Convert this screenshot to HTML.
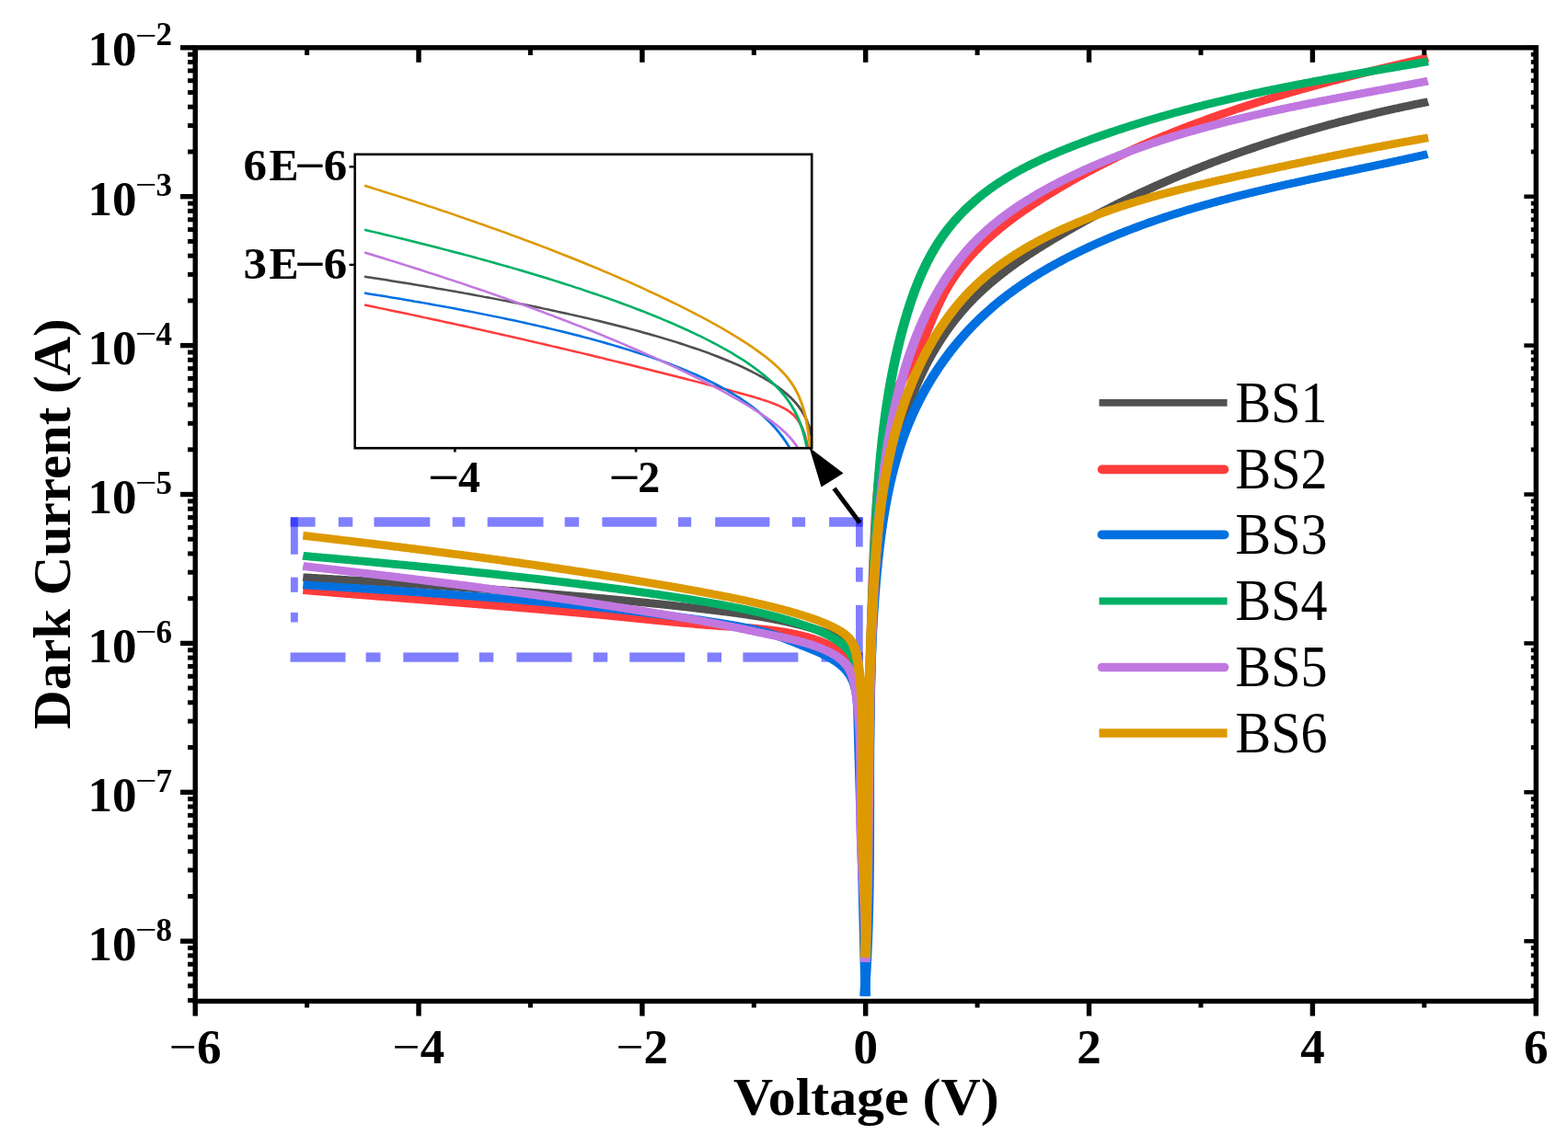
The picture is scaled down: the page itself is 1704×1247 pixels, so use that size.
<!DOCTYPE html>
<html><head><meta charset="utf-8"><title>Dark Current vs Voltage</title><style>
html,body{margin:0;padding:0;background:#fff;}
svg{display:block;}
text{font-family:"Liberation Serif","Times New Roman",serif;fill:#000;}
.tk{font-size:53px;font-weight:bold;}
.mn{font-weight:normal;}
.sm{font-size:37px;font-weight:normal;}
.sp{font-size:35px;font-weight:bold;}
.ti{font-size:58px;font-weight:bold;}
.lg{font-size:63.5px;font-weight:normal;}
.it{font-size:48px;font-weight:bold;}
</style></head>
<body><svg width="1704" height="1247" viewBox="0 0 1704 1247">
<rect x="0" y="0" width="1704" height="1247" fill="#fff"/>
<g fill="rgba(0,0,255,0.5)"><rect x="315.5" y="562.3" width="27.1" height="10.4"/><rect x="367.8" y="562.3" width="15.5" height="10.4"/><rect x="406.5" y="562.3" width="60.8" height="10.4"/><rect x="491.7" y="562.3" width="13.6" height="10.4"/><rect x="529.7" y="562.3" width="60.8" height="10.4"/><rect x="613.7" y="562.3" width="15.5" height="10.4"/><rect x="654.4" y="562.3" width="59.2" height="10.4"/><rect x="736.9" y="562.3" width="14.3" height="10.4"/><rect x="777.2" y="562.3" width="59.2" height="10.4"/><rect x="860.8" y="562.3" width="14.3" height="10.4"/><rect x="901.1" y="562.3" width="36.6" height="10.4"/><rect x="315.5" y="709.4" width="60.0" height="10.3"/><rect x="397.6" y="709.4" width="15.9" height="10.3"/><rect x="438.3" y="709.4" width="60.0" height="10.3"/><rect x="520.8" y="709.4" width="15.5" height="10.3"/><rect x="561.4" y="709.4" width="60.1" height="10.3"/><rect x="644.7" y="709.4" width="15.5" height="10.3"/><rect x="684.2" y="709.4" width="60.0" height="10.3"/><rect x="768.6" y="709.4" width="15.5" height="10.3"/><rect x="807.4" y="709.4" width="60.0" height="10.3"/><rect x="892.6" y="709.4" width="15.4" height="10.3"/><rect x="930.0" y="709.4" width="7.7" height="10.3"/><rect x="930.0" y="562.4" width="7.7" height="32.1"/><rect x="930.0" y="616.9" width="7.7" height="15.7"/><rect x="930.0" y="657.8" width="7.7" height="61.9"/><rect x="315.9" y="562.3" width="7.9" height="40.4"/><rect x="315.9" y="627.6" width="7.9" height="16.2"/><rect x="315.9" y="665.9" width="7.9" height="10.6"/></g>
<g fill="none" stroke-width="8.8" stroke-linejoin="round" stroke-linecap="butt">
<polyline stroke="#505050" transform="scale(1.2,1)" points="274.41,627.7 275.65,627.8 276.90,627.9 278.15,628.0 279.40,628.1 280.65,628.1 281.89,628.2 283.14,628.3 284.39,628.4 285.64,628.5 286.88,628.6 288.13,628.7 289.38,628.8 290.63,628.9 291.88,628.9 293.12,629.0 294.37,629.1 295.62,629.2 296.87,629.3 298.11,629.4 299.36,629.5 300.61,629.6 301.86,629.7 303.10,629.8 304.35,629.8 305.60,629.9 306.84,630.0 308.09,630.1 309.34,630.2 310.59,630.3 311.83,630.4 313.08,630.5 314.33,630.6 315.58,630.7 316.82,630.8 318.07,630.8 319.32,630.9 320.56,631.0 321.81,631.1 323.06,631.2 324.30,631.3 325.55,631.4 326.80,631.5 328.05,631.6 329.29,631.7 330.54,631.8 331.79,631.9 333.03,631.9 334.28,632.0 335.53,632.1 336.77,632.2 338.02,632.3 339.27,632.4 340.51,632.5 341.76,632.6 343.01,632.7 344.25,632.8 345.50,632.9 346.75,633.0 347.99,633.1 349.24,633.2 350.49,633.2 351.73,633.3 352.98,633.4 354.23,633.5 355.47,633.6 356.72,633.7 357.97,633.8 359.21,633.9 360.46,634.0 361.70,634.1 362.95,634.2 364.20,634.3 365.44,634.4 366.69,634.5 367.94,634.6 369.18,634.7 370.43,634.8 371.67,634.9 372.92,635.0 374.17,635.0 375.41,635.1 376.66,635.2 377.90,635.3 379.15,635.4 380.40,635.5 381.64,635.6 382.89,635.7 384.13,635.8 385.38,635.9 386.63,636.0 387.87,636.1 389.12,636.2 390.36,636.3 391.61,636.4 392.86,636.5 394.10,636.6 395.35,636.7 396.59,636.8 397.84,636.9 399.09,637.0 400.33,637.1 401.58,637.2 402.82,637.3 404.07,637.4 405.31,637.5 406.56,637.6 407.81,637.7 409.05,637.8 410.30,637.9 411.54,638.0 412.79,638.1 414.03,638.2 415.28,638.3 416.52,638.4 417.77,638.5 419.02,638.6 420.26,638.7 421.51,638.8 422.75,639.0 424.00,639.1 425.24,639.2 426.49,639.3 427.73,639.4 428.98,639.5 430.22,639.6 431.47,639.7 432.72,639.8 433.96,639.9 435.21,640.0 436.45,640.1 437.70,640.2 438.94,640.3 440.19,640.4 441.43,640.5 442.68,640.7 443.92,640.8 445.17,640.9 446.41,641.0 447.66,641.1 448.90,641.2 450.15,641.3 451.39,641.4 452.64,641.5 453.88,641.6 455.13,641.7 456.37,641.9 457.62,642.0 458.87,642.1 460.11,642.2 461.36,642.3 462.60,642.4 463.85,642.5 465.09,642.6 466.34,642.8 467.58,642.9 468.83,643.0 470.07,643.1 471.32,643.2 472.56,643.3 473.81,643.4 475.05,643.6 476.30,643.7 477.54,643.8 478.79,643.9 480.03,644.0 481.28,644.1 482.52,644.3 483.76,644.4 485.01,644.5 486.25,644.6 487.50,644.7 488.74,644.9 489.99,645.0 491.23,645.1 492.48,645.2 493.72,645.3 494.97,645.5 496.21,645.6 497.46,645.7 498.70,645.8 499.95,645.9 501.19,646.1 502.44,646.2 503.68,646.3 504.93,646.4 506.17,646.6 507.42,646.7 508.66,646.8 509.91,646.9 511.15,647.1 512.40,647.2 513.64,647.3 514.88,647.4 516.13,647.6 517.37,647.7 518.62,647.8 519.86,648.0 521.11,648.1 522.35,648.2 523.60,648.3 524.84,648.5 526.09,648.6 527.33,648.7 528.58,648.9 529.82,649.0 531.06,649.1 532.31,649.3 533.55,649.4 534.80,649.5 536.04,649.7 537.29,649.8 538.53,649.9 539.78,650.1 541.02,650.2 542.27,650.3 543.51,650.5 544.76,650.6 546.00,650.7 547.24,650.9 548.49,651.0 549.73,651.2 550.98,651.3 552.22,651.4 553.47,651.6 554.71,651.7 555.96,651.9 557.20,652.0 558.45,652.1 559.69,652.3 560.93,652.4 562.18,652.6 563.42,652.7 564.67,652.8 565.91,653.0 567.16,653.1 568.40,653.3 569.65,653.4 570.89,653.6 572.14,653.7 573.38,653.9 574.62,654.0 575.87,654.2 577.11,654.3 578.36,654.5 579.60,654.6 580.85,654.8 582.09,654.9 583.34,655.1 584.58,655.2 585.82,655.4 587.07,655.5 588.31,655.7 589.56,655.8 590.80,656.0 592.04,656.1 593.29,656.3 594.53,656.4 595.77,656.6 597.02,656.7 598.26,656.9 599.51,657.1 600.75,657.2 601.99,657.4 603.23,657.5 604.48,657.7 605.72,657.9 606.96,658.0 608.21,658.2 609.45,658.3 610.69,658.5 611.93,658.7 613.18,658.8 614.42,659.0 615.66,659.2 616.90,659.3 618.14,659.5 619.38,659.7 620.62,659.8 621.87,660.0 623.11,660.2 624.35,660.3 625.59,660.5 626.83,660.7 628.07,660.8 629.31,661.0 630.55,661.2 631.79,661.4 633.03,661.5 634.27,661.7 635.51,661.9 636.74,662.1 637.98,662.2 639.22,662.4 640.46,662.6 641.70,662.8 642.93,662.9 644.17,663.1 645.41,663.3 646.65,663.5 647.88,663.7 649.12,663.9 650.36,664.0 651.59,664.2 652.83,664.4 654.06,664.6 655.30,664.8 656.53,665.0 657.77,665.2 659.00,665.3 660.24,665.5 661.47,665.7 662.70,665.9 663.94,666.1 665.17,666.3 666.40,666.5 667.63,666.7 668.87,666.9 670.10,667.1 671.33,667.3 672.56,667.5 673.79,667.8 675.02,668.0 676.25,668.2 677.48,668.4 678.71,668.6 679.94,668.8 681.17,669.1 682.40,669.3 683.63,669.5 684.86,669.8 686.09,670.0 687.31,670.2 688.54,670.5 689.77,670.7 690.99,671.0 692.22,671.2 693.45,671.5 694.67,671.8 695.90,672.0 697.12,672.3 698.35,672.6 699.57,672.8 700.79,673.1 702.02,673.4 703.24,673.7 704.46,674.0 705.69,674.3 706.91,674.6 708.13,674.9 709.35,675.2 710.57,675.5 711.80,675.8 713.02,676.1 714.24,676.5 715.46,676.8 716.67,677.1 717.89,677.5 719.11,677.8 720.33,678.2 721.55,678.5 722.77,678.9 723.98,679.3 725.20,679.6 726.42,680.0 727.63,680.4 728.85,680.8 730.06,681.2 731.28,681.6 732.49,682.0 733.71,682.4 734.92,682.8 736.13,683.3 737.35,683.7 738.56,684.1 739.77,684.6 740.98,685.1 742.19,685.5 743.40,686.0 744.61,686.5 745.82,687.0 747.03,687.5 748.24,688.1 749.45,688.6 750.65,689.1 751.86,689.7 753.07,690.3 754.27,690.9 755.47,691.5 756.68,692.2 757.87,692.8 759.05,693.5 760.22,694.2 761.37,694.9 762.49,695.7 763.58,696.4 764.64,697.3 765.66,698.1 766.64,699.0 767.57,699.9 768.45,700.9 769.27,701.9 770.03,702.9 770.74,704.0 771.40,705.2 772.00,706.3 772.57,707.6 773.08,708.8 773.56,710.1 774.00,711.4 774.40,712.7 774.77,714.0 775.10,715.4 775.41,716.8 775.70,718.2 775.96,719.6 776.20,721.1 776.42,722.5 776.63,724.0 776.83,725.4 777.02,726.9 777.20,728.4 777.37,729.8 777.54,731.3 777.71,732.8 777.87,734.3 778.03,735.7 778.18,737.2 778.33,738.7 778.47,740.2 778.61,741.7 778.75,743.1 778.88,744.6 779.01,746.1 779.13,747.6 779.25,749.1 779.37,750.6 779.48,752.0 779.59,753.5 779.69,755.0 779.79,756.5 779.89,758.0 779.98,759.5 780.07,761.0 780.16,762.5 780.24,764.0 780.32,765.4 780.40,766.9 780.47,768.4 780.54,769.9 780.61,771.4 780.67,772.9 780.74,774.4 780.79,775.9 780.85,777.4 780.90,778.9 780.95,780.4 781.00,781.9 781.04,783.4 781.09,784.9 781.13,786.4 781.16,787.9 781.20,789.4 781.23,790.9 781.26,792.4 781.29,793.9 781.31,795.4 781.34,796.9 781.36,798.4 781.38,799.9 781.40,801.4 781.41,802.9 781.42,804.4 781.44,805.9 781.45,807.5 781.46,809.0 781.46,810.5 781.47,812.0 781.47,813.5 781.48,815.0 781.48,816.5 781.48,818.0 781.48,819.5 781.47,821.0 781.47,822.5 781.47,824.0 781.46,825.5 781.46,827.1 781.45,828.6 781.44,830.1 781.43,831.6 781.42,833.1 781.41,834.6 781.40,836.1 781.39,837.6 781.38,839.1 781.37,840.6 781.35,842.1 781.34,843.7 781.33,845.2 781.31,846.7 781.30,848.2 781.29,849.7 781.27,851.2 781.26,852.7 781.25,854.2 781.23,855.7 781.22,857.2 781.21,858.7 781.19,860.2 781.18,861.8 781.17,863.3 781.16,864.8 781.15,866.3 781.14,867.8 781.13,869.3 781.12,870.8 781.11,872.3 781.11,873.8 781.10,875.3 781.10,876.8 781.09,878.3 781.09,879.8 781.09,881.3 781.09,882.8 781.09,884.3 781.09,885.9 781.09,887.4 781.10,888.9 781.10,890.4 781.11,891.9 781.12,893.4 781.13,894.9 781.15,896.4 781.16,897.9 781.18,899.4 781.20,900.9 781.22,902.4 781.24,903.9 781.26,905.4 781.29,906.9 781.32,908.4 781.34,909.8 781.38,911.3 781.41,912.8 781.44,914.3 781.48,915.8 781.51,917.3 781.55,918.8 781.59,920.3 781.63,921.8 781.67,923.3 781.71,924.8 781.76,926.3 781.80,927.8 781.84,929.3 781.89,930.8 781.94,932.2 781.98,933.7 782.03,935.2 782.08,936.7 782.13,938.2 782.18,939.7 782.23,941.2 782.28,942.7 782.33,944.2 782.38,945.7 782.43,947.1 782.49,948.6 782.54,950.1 782.59,951.6 782.64,953.1 782.69,954.6 782.74,956.1 782.80,957.6 782.85,959.1 782.90,960.6 782.95,962.0 783.00,963.5 783.05,965.0 783.10,966.5 783.15,968.0 783.19,969.5 783.24,971.0 783.29,972.5 783.33,974.0 783.38,975.5 783.42,977.0 783.46,978.5 783.51,979.9 783.55,981.4 783.59,982.9 783.63,984.4 783.66,985.9 783.70,987.4 783.73,988.9 783.77,990.4 783.80,991.9 783.83,993.4 783.86,994.9 783.89,996.4 783.91,997.9 783.93,999.4 783.96,1000.9 783.98,1002.4 783.99,1003.9 784.01,1005.4 784.02,1006.9 784.04,1008.4 784.05,1009.9 784.05,1011.4 784.06,1012.9 784.06,1014.4 784.06,1015.9 784.06,1017.4 784.06,1018.9 784.05,1020.4 784.04,1021.9 784.03,1023.4 784.01,1024.9 784.00,1026.4 783.98,1027.9 783.95,1029.5 783.93,1031.0 783.90,1032.5 783.87,1034.0 783.83,1035.5 783.79,1037.0 783.75,1038.5 783.71,1040.1"/>
<polyline stroke="#505050" transform="scale(1.2,1)" points="783.55,1039.9 783.59,1038.5 783.64,1037.0 783.68,1035.5 783.73,1034.0 783.77,1032.5 783.82,1031.0 783.86,1029.5 783.90,1028.0 783.94,1026.5 783.99,1025.0 784.03,1023.5 784.07,1022.0 784.11,1020.5 784.15,1019.0 784.19,1017.5 784.23,1016.0 784.27,1014.5 784.31,1013.0 784.35,1011.5 784.38,1010.0 784.42,1008.5 784.46,1007.0 784.49,1005.5 784.53,1004.1 784.57,1002.6 784.60,1001.1 784.64,999.6 784.67,998.1 784.71,996.6 784.74,995.1 784.77,993.6 784.81,992.1 784.84,990.6 784.87,989.1 784.90,987.6 784.94,986.1 784.97,984.6 785.00,983.1 785.03,981.6 785.06,980.1 785.09,978.6 785.12,977.1 785.15,975.6 785.18,974.1 785.21,972.6 785.24,971.1 785.27,969.6 785.29,968.1 785.32,966.6 785.35,965.1 785.38,963.6 785.40,962.1 785.43,960.6 785.46,959.1 785.48,957.6 785.51,956.2 785.53,954.7 785.56,953.2 785.59,951.7 785.61,950.2 785.63,948.7 785.66,947.2 785.68,945.7 785.71,944.2 785.73,942.7 785.75,941.2 785.78,939.7 785.80,938.2 785.82,936.7 785.85,935.2 785.87,933.7 785.89,932.2 785.91,930.7 785.93,929.2 785.96,927.7 785.98,926.2 786.00,924.7 786.02,923.2 786.04,921.7 786.06,920.2 786.08,918.7 786.10,917.2 786.12,915.7 786.14,914.2 786.16,912.7 786.18,911.2 786.20,909.7 786.22,908.2 786.24,906.7 786.26,905.2 786.28,903.7 786.30,902.2 786.32,900.7 786.33,899.2 786.35,897.7 786.37,896.2 786.39,894.7 786.41,893.2 786.43,891.7 786.44,890.2 786.46,888.7 786.48,887.2 786.50,885.7 786.51,884.2 786.53,882.7 786.55,881.2 786.57,879.7 786.58,878.2 786.60,876.7 786.62,875.2 786.64,873.7 786.65,872.2 786.67,870.7 786.69,869.2 786.70,867.7 786.72,866.2 786.74,864.7 786.75,863.2 786.77,861.7 786.79,860.2 786.80,858.7 786.82,857.2 786.84,855.7 786.85,854.2 786.87,852.7 786.89,851.2 786.90,849.8 786.92,848.3 786.94,846.8 786.95,845.3 786.97,843.8 786.99,842.3 787.00,840.8 787.02,839.3 787.04,837.8 787.05,836.3 787.07,834.8 787.09,833.3 787.10,831.8 787.12,830.3 787.14,828.8 787.15,827.3 787.17,825.8 787.19,824.3 787.21,822.8 787.22,821.3 787.24,819.8 787.26,818.3 787.28,816.8 787.29,815.3 787.31,813.8 787.33,812.3 787.35,810.8 787.36,809.3 787.38,807.8 787.40,806.3 787.42,804.8 787.44,803.3 787.46,801.8 787.47,800.3 787.49,798.8 787.51,797.3 787.53,795.8 787.55,794.3 787.57,792.8 787.59,791.3 787.61,789.8 787.63,788.3 787.65,786.8 787.67,785.3 787.69,783.8 787.71,782.3 787.73,780.8 787.75,779.3 787.77,777.8 787.79,776.3 787.81,774.8 787.83,773.3 787.86,771.8 787.88,770.3 787.90,768.8 787.92,767.3 787.94,765.8 787.97,764.3 787.99,762.8 788.01,761.3 788.04,759.8 788.06,758.3 788.08,756.8 788.11,755.3 788.13,753.8 788.16,752.3 788.18,750.8 788.21,749.3 788.23,747.8 788.26,746.3 788.28,744.8 788.31,743.3 788.33,741.8 788.36,740.3 788.39,738.8 788.41,737.3 788.44,735.8 788.47,734.3 788.50,732.8 788.53,731.3 788.55,729.8 788.58,728.3 788.61,726.8 788.64,725.3 788.67,723.8 788.70,722.3 788.73,720.8 788.76,719.3 788.79,717.8 788.82,716.3 788.86,714.8 788.89,713.3 788.92,711.8 788.95,710.3 788.98,708.8 789.02,707.3 789.05,705.8 789.09,704.3 789.12,702.8 789.16,701.3 789.19,699.8 789.23,698.3 789.26,696.8 789.30,695.3 789.33,693.8 789.37,692.3 789.41,690.8 789.45,689.3 789.48,687.8 789.52,686.4 789.56,684.9 789.60,683.4 789.64,681.9 789.68,680.4 789.72,678.9 789.76,677.4 789.81,675.9 789.85,674.4 789.89,672.9 789.93,671.4 789.98,669.9 790.02,668.4 790.06,666.9 790.11,665.4 790.15,663.9 790.20,662.4 790.24,660.9 790.29,659.4 790.34,657.9 790.39,656.4 790.43,654.9 790.48,653.4 790.53,651.9 790.58,650.4 790.63,648.9 790.68,647.4 790.73,645.9 790.78,644.4 790.83,642.9 790.89,641.4 790.94,639.9 790.99,638.4 791.05,636.9 791.10,635.4 791.16,633.9 791.21,632.4 791.27,630.9 791.33,629.5 791.38,628.0 791.44,626.5 791.50,625.0 791.56,623.5 791.62,622.0 791.68,620.5 791.74,619.0 791.80,617.5 791.86,616.0 791.92,614.5 791.98,613.0 792.05,611.5 792.11,610.0 792.18,608.5 792.24,607.0 792.31,605.5 792.37,604.0 792.44,602.5 792.51,601.0 792.58,599.5 792.65,598.0 792.72,596.5 792.79,595.0 792.86,593.5 792.93,592.1 793.00,590.6 793.08,589.1 793.15,587.6 793.23,586.1 793.31,584.6 793.39,583.1 793.47,581.6 793.56,580.1 793.64,578.6 793.73,577.1 793.82,575.6 793.91,574.1 794.01,572.6 794.10,571.2 794.20,569.7 794.30,568.2 794.41,566.7 794.52,565.2 794.63,563.7 794.74,562.2 794.85,560.7 794.97,559.3 795.09,557.8 795.22,556.3 795.35,554.8 795.48,553.3 795.62,551.9 795.75,550.4 795.90,548.9 796.04,547.4 796.20,545.9 796.35,544.5 796.51,543.0 796.67,541.5 796.84,540.1 797.01,538.6 797.19,537.1 797.37,535.7 797.55,534.2 797.75,532.7 797.94,531.3 798.14,529.8 798.35,528.3 798.56,526.9 798.77,525.4 798.99,524.0 799.22,522.5 799.45,521.0 799.69,519.6 799.93,518.1 800.18,516.7 800.44,515.3 800.70,513.8 800.97,512.4 801.24,510.9 801.52,509.5 801.81,508.0 802.10,506.6 802.40,505.2 802.70,503.7 803.02,502.3 803.34,500.9 803.66,499.4 804.00,498.0 804.34,496.6 804.69,495.2 805.04,493.8 805.40,492.3 805.77,490.9 806.15,489.5 806.54,488.1 806.93,486.7 807.33,485.3 807.74,483.9 808.16,482.5 808.58,481.1 809.02,479.7 809.46,478.3 809.91,476.9 810.37,475.5 810.84,474.1 811.31,472.7 811.80,471.3 812.29,470.0 812.80,468.6 813.31,467.2 813.83,465.8 814.36,464.5 814.89,463.1 815.42,461.7 815.94,460.4 816.47,459.0 816.98,457.6 817.48,456.2 817.98,454.8 818.46,453.5 818.93,452.1 819.39,450.7 819.84,449.3 820.29,447.9 820.73,446.5 821.17,445.1 821.60,443.7 822.04,442.3 822.47,440.9 822.90,439.5 823.33,438.1 823.76,436.6 824.20,435.2 824.64,433.8 825.08,432.4 825.53,431.0 825.99,429.6 826.45,428.3 826.91,426.9 827.38,425.5 827.86,424.1 828.34,422.7 828.82,421.3 829.31,419.9 829.81,418.5 830.30,417.2 830.81,415.8 831.32,414.4 831.83,413.0 832.35,411.7 832.87,410.3 833.40,409.0 833.94,407.6 834.48,406.2 835.02,404.9 835.57,403.5 836.12,402.2 836.68,400.8 837.24,399.5 837.81,398.1 838.38,396.8 838.96,395.5 839.54,394.1 840.13,392.8 840.73,391.5 841.32,390.2 841.93,388.8 842.53,387.5 843.15,386.2 843.76,384.9 844.39,383.6 845.02,382.3 845.65,381.0 846.29,379.7 846.93,378.4 847.58,377.1 848.23,375.9 848.89,374.6 849.55,373.3 850.22,372.0 850.89,370.8 851.57,369.5 852.25,368.3 852.94,367.0 853.63,365.8 854.33,364.5 855.03,363.3 855.74,362.0 856.45,360.8 857.17,359.6 857.89,358.4 858.62,357.2 859.35,355.9 860.09,354.7 860.83,353.5 861.58,352.3 862.33,351.2 863.09,350.0 863.85,348.8 864.62,347.6 865.39,346.4 866.17,345.3 866.95,344.1 867.74,343.0 868.53,341.8 869.33,340.7 870.14,339.5 870.94,338.4 871.76,337.3 872.58,336.2 873.40,335.1 874.23,333.9 875.06,332.8 875.90,331.7 876.74,330.7 877.59,329.6 878.45,328.5 879.30,327.4 880.17,326.4 881.04,325.3 881.91,324.2 882.79,323.2 883.67,322.1 884.56,321.1 885.45,320.1 886.34,319.0 887.24,318.0 888.15,317.0 889.05,316.0 889.97,315.0 890.88,314.0 891.81,313.0 892.73,312.0 893.66,311.0 894.59,310.0 895.53,309.1 896.47,308.1 897.42,307.1 898.37,306.2 899.32,305.2 900.27,304.3 901.23,303.3 902.20,302.4 903.17,301.4 904.14,300.5 905.11,299.6 906.09,298.6 907.07,297.7 908.05,296.8 909.04,295.9 910.03,295.0 911.02,294.1 912.02,293.2 913.02,292.3 914.02,291.4 915.02,290.5 916.03,289.6 917.04,288.7 918.06,287.9 919.07,287.0 920.09,286.1 921.11,285.3 922.14,284.4 923.16,283.6 924.19,282.7 925.22,281.8 926.26,281.0 927.29,280.2 928.33,279.3 929.37,278.5 930.41,277.6 931.46,276.8 932.51,276.0 933.55,275.2 934.60,274.3 935.66,273.5 936.71,272.7 937.77,271.9 938.82,271.1 939.88,270.3 940.94,269.5 942.01,268.7 943.07,267.9 944.14,267.1 945.20,266.3 946.27,265.5 947.34,264.7 948.41,263.9 949.48,263.1 950.56,262.4 951.63,261.6 952.71,260.8 953.78,260.0 954.86,259.3 955.94,258.5 957.02,257.7 958.10,257.0 959.18,256.2 960.26,255.4 961.34,254.7 962.42,253.9 963.51,253.2 964.59,252.4 965.68,251.7 966.76,250.9 967.85,250.2 968.94,249.4 970.03,248.7 971.11,247.9 972.20,247.2 973.30,246.4 974.39,245.7 975.48,245.0 976.57,244.2 977.67,243.5 978.76,242.8 979.86,242.1 980.95,241.3 982.05,240.6 983.15,239.9 984.25,239.2 985.35,238.5 986.45,237.7 987.55,237.0 988.65,236.3 989.75,235.6 990.86,234.9 991.96,234.2 993.07,233.5 994.17,232.8 995.28,232.1 996.39,231.4 997.49,230.7 998.60,230.0 999.71,229.3 1000.82,228.6 1001.93,227.9 1003.05,227.3 1004.16,226.6 1005.27,225.9 1006.39,225.2 1007.50,224.5 1008.62,223.9 1009.73,223.2 1010.85,222.5 1011.97,221.9 1013.08,221.2 1014.20,220.5 1015.32,219.9 1016.44,219.2 1017.56,218.5 1018.69,217.9 1019.81,217.2 1020.93,216.6 1022.06,215.9 1023.18,215.3 1024.31,214.6 1025.43,214.0 1026.56,213.3 1027.69,212.7 1028.81,212.0 1029.94,211.4 1031.07,210.8 1032.20,210.1 1033.33,209.5 1034.46,208.8 1035.60,208.2 1036.73,207.6 1037.86,207.0 1039.00,206.3 1040.13,205.7 1041.27,205.1 1042.40,204.5 1043.54,203.9 1044.68,203.2 1045.81,202.6 1046.95,202.0 1048.09,201.4 1049.23,200.8 1050.37,200.2 1051.52,199.6 1052.66,199.0 1053.80,198.4 1054.94,197.8 1056.09,197.2 1057.23,196.6 1058.38,196.0 1059.52,195.4 1060.67,194.8 1061.82,194.2 1062.96,193.6 1064.11,193.0 1065.26,192.5 1066.41,191.9 1067.56,191.3 1068.71,190.7 1069.86,190.1 1071.01,189.6 1072.17,189.0 1073.32,188.4 1074.47,187.9 1075.63,187.3 1076.78,186.7 1077.94,186.2 1079.09,185.6 1080.25,185.0 1081.41,184.5 1082.57,183.9 1083.72,183.4 1084.88,182.8 1086.04,182.3 1087.20,181.7 1088.36,181.2 1089.52,180.6 1090.69,180.1 1091.85,179.5 1093.01,179.0 1094.17,178.5 1095.34,177.9 1096.50,177.4 1097.67,176.8 1098.83,176.3 1100.00,175.8 1101.17,175.2 1102.34,174.7 1103.50,174.2 1104.67,173.7 1105.84,173.1 1107.01,172.6 1108.18,172.1 1109.35,171.6 1110.52,171.1 1111.69,170.6 1112.87,170.0 1114.04,169.5 1115.21,169.0 1116.39,168.5 1117.56,168.0 1118.73,167.5 1119.91,167.0 1121.09,166.5 1122.26,166.0 1123.44,165.5 1124.62,165.0 1125.79,164.5 1126.97,164.0 1128.15,163.5 1129.33,163.0 1130.51,162.6 1131.69,162.1 1132.87,161.6 1134.05,161.1 1135.23,160.6 1136.42,160.1 1137.60,159.7 1138.78,159.2 1139.97,158.7 1141.15,158.2 1142.33,157.8 1143.52,157.3 1144.70,156.8 1145.89,156.4 1147.08,155.9 1148.26,155.4 1149.45,155.0 1150.64,154.5 1151.83,154.1 1153.02,153.6 1154.20,153.1 1155.39,152.7 1156.58,152.2 1157.77,151.8 1158.97,151.3 1160.16,150.9 1161.35,150.4 1162.54,150.0 1163.73,149.6 1164.93,149.1 1166.12,148.7 1167.31,148.2 1168.51,147.8 1169.70,147.4 1170.90,146.9 1172.09,146.5 1173.29,146.1 1174.49,145.6 1175.68,145.2 1176.88,144.8 1178.08,144.4 1179.28,143.9 1180.47,143.5 1181.67,143.1 1182.87,142.7 1184.07,142.3 1185.27,141.9 1186.47,141.4 1187.67,141.0 1188.87,140.6 1190.08,140.2 1191.28,139.8 1192.48,139.4 1193.68,139.0 1194.89,138.6 1196.09,138.2 1197.29,137.8 1198.50,137.4 1199.70,137.0 1200.91,136.6 1202.11,136.2 1203.32,135.8 1204.52,135.4 1205.73,135.0 1206.94,134.6 1208.14,134.2 1209.35,133.9 1210.56,133.5 1211.77,133.1 1212.97,132.7 1214.18,132.3 1215.39,132.0 1216.60,131.6 1217.81,131.2 1219.02,130.8 1220.23,130.5 1221.44,130.1 1222.65,129.7 1223.86,129.4 1225.07,129.0 1226.29,128.6 1227.50,128.3 1228.71,127.9 1229.92,127.5 1231.14,127.2 1232.35,126.8 1233.56,126.5 1234.78,126.1 1235.99,125.8 1237.21,125.4 1238.42,125.1 1239.64,124.7 1240.85,124.4 1242.07,124.0 1243.28,123.7 1244.50,123.3 1245.72,123.0 1246.93,122.6 1248.15,122.3 1249.37,122.0 1250.59,121.6 1251.80,121.3 1253.02,121.0 1254.24,120.6 1255.46,120.3 1256.68,120.0 1257.90,119.6 1259.12,119.3 1260.34,119.0 1261.56,118.6 1262.78,118.3 1264.00,118.0 1265.22,117.7 1266.44,117.4 1267.66,117.0 1268.88,116.7 1270.10,116.4 1271.33,116.1 1272.55,115.8 1273.77,115.5 1274.99,115.2 1276.22,114.9 1277.44,114.6 1278.66,114.2 1279.88,113.9 1281.11,113.6 1282.33,113.3 1283.56,113.0 1284.78,112.7 1286.01,112.4 1287.23,112.1 1288.45,111.8 1289.68,111.6 1290.91,111.3 1292.13,111.0 1293.36,110.7"/>
<polyline stroke="#ff3c3c" transform="scale(1.2,1)" points="274.45,641.6 275.69,641.7 276.94,641.8 278.18,641.9 279.42,642.1 280.67,642.2 281.91,642.3 283.15,642.4 284.40,642.6 285.64,642.7 286.88,642.8 288.13,642.9 289.37,643.1 290.62,643.2 291.86,643.3 293.10,643.4 294.35,643.6 295.59,643.7 296.83,643.8 298.08,643.9 299.32,644.0 300.57,644.2 301.81,644.3 303.05,644.4 304.30,644.5 305.54,644.7 306.79,644.8 308.03,644.9 309.27,645.0 310.52,645.1 311.76,645.3 313.01,645.4 314.25,645.5 315.50,645.6 316.74,645.7 317.98,645.9 319.23,646.0 320.47,646.1 321.72,646.2 322.96,646.4 324.21,646.5 325.45,646.6 326.69,646.7 327.94,646.8 329.18,647.0 330.43,647.1 331.67,647.2 332.92,647.3 334.16,647.4 335.40,647.5 336.65,647.7 337.89,647.8 339.14,647.9 340.38,648.0 341.63,648.1 342.87,648.3 344.12,648.4 345.36,648.5 346.60,648.6 347.85,648.7 349.09,648.9 350.34,649.0 351.58,649.1 352.83,649.2 354.07,649.3 355.32,649.5 356.56,649.6 357.81,649.7 359.05,649.8 360.30,649.9 361.54,650.0 362.78,650.2 364.03,650.3 365.27,650.4 366.52,650.5 367.76,650.6 369.01,650.8 370.25,650.9 371.50,651.0 372.74,651.1 373.99,651.2 375.23,651.3 376.48,651.5 377.72,651.6 378.97,651.7 380.21,651.8 381.45,651.9 382.70,652.1 383.94,652.2 385.19,652.3 386.43,652.4 387.68,652.5 388.92,652.7 390.17,652.8 391.41,652.9 392.66,653.0 393.90,653.1 395.15,653.2 396.39,653.4 397.64,653.5 398.88,653.6 400.13,653.7 401.37,653.8 402.62,654.0 403.86,654.1 405.10,654.2 406.35,654.3 407.59,654.4 408.84,654.6 410.08,654.7 411.33,654.8 412.57,654.9 413.82,655.0 415.06,655.2 416.31,655.3 417.55,655.4 418.80,655.5 420.04,655.6 421.29,655.8 422.53,655.9 423.78,656.0 425.02,656.1 426.26,656.2 427.51,656.4 428.75,656.5 430.00,656.6 431.24,656.7 432.49,656.8 433.73,657.0 434.98,657.1 436.22,657.2 437.47,657.3 438.71,657.5 439.96,657.6 441.20,657.7 442.44,657.8 443.69,657.9 444.93,658.1 446.18,658.2 447.42,658.3 448.67,658.4 449.91,658.6 451.16,658.7 452.40,658.8 453.65,658.9 454.89,659.1 456.13,659.2 457.38,659.3 458.62,659.4 459.87,659.5 461.11,659.7 462.36,659.8 463.60,659.9 464.84,660.0 466.09,660.2 467.33,660.3 468.58,660.4 469.82,660.6 471.07,660.7 472.31,660.8 473.55,660.9 474.80,661.1 476.04,661.2 477.29,661.3 478.53,661.4 479.78,661.6 481.02,661.7 482.26,661.8 483.51,661.9 484.75,662.1 486.00,662.2 487.24,662.3 488.48,662.5 489.73,662.6 490.97,662.7 492.22,662.8 493.46,663.0 494.70,663.1 495.95,663.2 497.19,663.4 498.43,663.5 499.68,663.6 500.92,663.8 502.17,663.9 503.41,664.0 504.65,664.2 505.90,664.3 507.14,664.4 508.38,664.6 509.63,664.7 510.87,664.8 512.11,665.0 513.36,665.1 514.60,665.2 515.84,665.4 517.09,665.5 518.33,665.6 519.57,665.8 520.82,665.9 522.06,666.0 523.30,666.2 524.55,666.3 525.79,666.4 527.03,666.6 528.28,666.7 529.52,666.9 530.76,667.0 532.01,667.1 533.25,667.3 534.49,667.4 535.74,667.5 536.98,667.7 538.22,667.8 539.46,668.0 540.71,668.1 541.95,668.2 543.19,668.4 544.44,668.5 545.68,668.7 546.92,668.8 548.16,668.9 549.41,669.1 550.65,669.2 551.89,669.4 553.13,669.5 554.38,669.7 555.62,669.8 556.86,670.0 558.10,670.1 559.35,670.2 560.59,670.4 561.83,670.5 563.07,670.7 564.31,670.8 565.56,671.0 566.80,671.1 568.04,671.3 569.28,671.4 570.53,671.6 571.77,671.7 573.01,671.9 574.25,672.0 575.49,672.2 576.73,672.3 577.98,672.5 579.22,672.6 580.46,672.8 581.70,672.9 582.94,673.1 584.18,673.2 585.43,673.4 586.67,673.5 587.91,673.7 589.15,673.8 590.39,674.0 591.64,674.1 592.88,674.3 594.12,674.4 595.36,674.6 596.60,674.7 597.84,674.9 599.09,675.0 600.33,675.2 601.57,675.3 602.81,675.5 604.05,675.6 605.29,675.7 606.54,675.9 607.78,676.0 609.02,676.2 610.26,676.3 611.51,676.5 612.75,676.6 613.99,676.7 615.23,676.9 616.47,677.0 617.72,677.2 618.96,677.3 620.20,677.4 621.44,677.6 622.69,677.7 623.93,677.8 625.17,678.0 626.42,678.1 627.66,678.2 628.90,678.4 630.14,678.5 631.39,678.6 632.63,678.8 633.87,678.9 635.12,679.0 636.36,679.1 637.60,679.2 638.85,679.4 640.09,679.5 641.34,679.6 642.58,679.7 643.82,679.8 645.07,679.9 646.31,680.1 647.56,680.2 648.80,680.3 650.05,680.4 651.29,680.5 652.54,680.6 653.78,680.7 655.03,680.8 656.27,680.9 657.52,681.0 658.76,681.1 660.01,681.2 661.26,681.3 662.50,681.4 663.75,681.5 664.99,681.6 666.24,681.7 667.49,681.8 668.73,681.9 669.98,682.0 671.22,682.1 672.47,682.2 673.72,682.3 674.96,682.4 676.21,682.5 677.46,682.6 678.70,682.7 679.95,682.9 681.19,683.0 682.44,683.1 683.69,683.2 684.93,683.4 686.18,683.5 687.43,683.7 688.67,683.8 689.92,683.9 691.17,684.1 692.41,684.3 693.66,684.4 694.90,684.6 696.15,684.8 697.40,684.9 698.64,685.1 699.89,685.3 701.13,685.5 702.38,685.7 703.62,685.9 704.87,686.1 706.11,686.4 707.36,686.6 708.60,686.8 709.85,687.1 711.09,687.3 712.34,687.6 713.58,687.9 714.83,688.1 716.07,688.4 717.32,688.7 718.56,689.0 719.80,689.3 721.05,689.6 722.29,690.0 723.53,690.3 724.78,690.7 726.02,691.0 727.26,691.4 728.50,691.8 729.74,692.1 730.98,692.5 732.21,693.0 733.44,693.4 734.66,693.8 735.88,694.3 737.09,694.7 738.30,695.2 739.50,695.7 740.69,696.2 741.87,696.8 743.04,697.3 744.20,697.9 745.35,698.5 746.49,699.0 747.62,699.7 748.73,700.3 749.83,700.9 750.92,701.6 751.99,702.3 753.05,703.0 754.09,703.7 755.11,704.5 756.11,705.3 757.10,706.1 758.06,706.9 759.01,707.7 759.94,708.6 760.84,709.5 761.73,710.4 762.59,711.4 763.43,712.3 764.24,713.3 765.03,714.3 765.80,715.4 766.54,716.5 767.26,717.6 767.95,718.7 768.62,719.8 769.26,721.0 769.88,722.2 770.47,723.4 771.04,724.6 771.59,725.9 772.11,727.1 772.61,728.4 773.09,729.8 773.54,731.1 773.96,732.4 774.37,733.8 774.75,735.2 775.10,736.6 775.44,738.0 775.75,739.4 776.04,740.8 776.32,742.3 776.57,743.8 776.81,745.2 777.02,746.7 777.22,748.2 777.41,749.7 777.58,751.2 777.73,752.8 777.87,754.3 778.00,755.8 778.12,757.4 778.22,758.9 778.31,760.5 778.40,762.0 778.47,763.6 778.53,765.2 778.59,766.7 778.64,768.3 778.69,769.9 778.73,771.5 778.76,773.0 778.79,774.6 778.82,776.2 778.84,777.7 778.87,779.3 778.89,780.9 778.91,782.4 778.93,784.0 778.96,785.5 778.98,787.1 779.00,788.6 779.02,790.2 779.04,791.7 779.05,793.2 779.07,794.8 779.09,796.3 779.11,797.8 779.13,799.4 779.15,800.9 779.16,802.4 779.18,803.9 779.20,805.4 779.21,806.9 779.23,808.5 779.25,810.0 779.26,811.5 779.28,813.0 779.30,814.5 779.31,816.0 779.33,817.5 779.34,819.0 779.36,820.5 779.38,821.9 779.39,823.4 779.41,824.9 779.43,826.4 779.44,827.9 779.46,829.4 779.48,830.9 779.49,832.4 779.51,833.8 779.53,835.3 779.54,836.8 779.56,838.3 779.58,839.8 779.60,841.2 779.62,842.7 779.64,844.2 779.66,845.7 779.68,847.1 779.70,848.6 779.72,850.1 779.74,851.6 779.76,853.0 779.78,854.5 779.80,856.0 779.83,857.5 779.85,858.9 779.87,860.4 779.90,861.9 779.92,863.4 779.95,864.8 779.98,866.3 780.00,867.8 780.03,869.3 780.06,870.8 780.09,872.2 780.12,873.7 780.15,875.2 780.18,876.7 780.21,878.2 780.25,879.7 780.28,881.1 780.31,882.6 780.35,884.1 780.38,885.6 780.42,887.1 780.46,888.6 780.49,890.1 780.53,891.6 780.57,893.1 780.61,894.6 780.64,896.1 780.68,897.5 780.72,899.0 780.76,900.5 780.80,902.0 780.84,903.5 780.88,905.0 780.92,906.5 780.97,908.0 781.01,909.5 781.05,911.0 781.09,912.5 781.13,914.0 781.18,915.5 781.22,917.0 781.26,918.5 781.31,920.0 781.35,921.5 781.39,923.0 781.44,924.5 781.48,926.0 781.53,927.5 781.57,929.0 781.61,930.5 781.66,932.0 781.70,933.5 781.75,935.0 781.79,936.5 781.83,938.1 781.88,939.6 781.92,941.1 781.97,942.6 782.01,944.1 782.05,945.6 782.10,947.1 782.14,948.6 782.19,950.1 782.23,951.6 782.27,953.1 782.31,954.6 782.36,956.1 782.40,957.6 782.44,959.1 782.48,960.6 782.52,962.1 782.57,963.6 782.61,965.2 782.65,966.7 782.69,968.2 782.73,969.7 782.77,971.2 782.81,972.7 782.84,974.2 782.88,975.7 782.92,977.2 782.96,978.7 782.99,980.2 783.03,981.7 783.07,983.2 783.10,984.7 783.14,986.2 783.17,987.7 783.20,989.2 783.24,990.7 783.27,992.2 783.30,993.7 783.33,995.2 783.36,996.7 783.39,998.2 783.42,999.7 783.45,1001.2 783.48,1002.7 783.50,1004.2 783.53,1005.7 783.55,1007.2 783.58,1008.7 783.60,1010.2 783.62,1011.7 783.65,1013.2 783.67,1014.7 783.69,1016.2 783.71,1017.7 783.73,1019.2 783.74,1020.7 783.76,1022.2 783.77,1023.6 783.79,1025.1 783.80,1026.6 783.81,1028.1 783.83,1029.6 783.84,1031.1 783.84,1032.6 783.85,1034.1 783.86,1035.5 783.87,1037.0 783.87,1038.5 783.87,1040.0"/>
<polyline stroke="#ff3c3c" transform="scale(1.2,1)" points="783.87,1040.0 783.90,1038.5 783.92,1037.0 783.94,1035.5 783.97,1034.0 783.99,1032.5 784.02,1031.0 784.04,1029.5 784.06,1028.0 784.09,1026.5 784.11,1025.0 784.14,1023.5 784.16,1022.0 784.18,1020.5 784.20,1019.0 784.23,1017.5 784.25,1016.0 784.27,1014.5 784.29,1013.0 784.32,1011.5 784.34,1010.0 784.36,1008.5 784.38,1007.0 784.40,1005.5 784.43,1004.0 784.45,1002.5 784.47,1001.0 784.49,999.5 784.51,998.0 784.53,996.5 784.55,995.0 784.57,993.5 784.59,992.0 784.62,990.5 784.64,989.0 784.66,987.5 784.68,986.0 784.70,984.5 784.72,983.0 784.74,981.5 784.76,980.0 784.78,978.5 784.80,977.0 784.82,975.5 784.83,974.0 784.85,972.5 784.87,971.0 784.89,969.5 784.91,968.0 784.93,966.5 784.95,965.0 784.97,963.5 784.99,962.0 785.01,960.5 785.03,959.0 785.04,957.5 785.06,956.0 785.08,954.5 785.10,953.0 785.12,951.5 785.14,950.0 785.16,948.5 785.17,947.0 785.19,945.5 785.21,944.0 785.23,942.5 785.25,941.0 785.26,939.5 785.28,938.0 785.30,936.5 785.32,935.0 785.34,933.5 785.35,932.0 785.37,930.5 785.39,929.0 785.41,927.5 785.42,926.0 785.44,924.5 785.46,923.0 785.48,921.5 785.49,920.0 785.51,918.5 785.53,917.0 785.55,915.5 785.57,914.0 785.58,912.5 785.60,911.0 785.62,909.5 785.64,908.0 785.65,906.5 785.67,905.0 785.69,903.5 785.71,902.0 785.72,900.5 785.74,899.0 785.76,897.5 785.78,896.0 785.79,894.5 785.81,893.0 785.83,891.5 785.85,890.0 785.86,888.5 785.88,887.0 785.90,885.5 785.92,884.0 785.93,882.5 785.95,881.0 785.97,879.5 785.99,878.0 786.00,876.5 786.02,875.0 786.04,873.5 786.06,872.0 786.08,870.5 786.09,869.0 786.11,867.5 786.13,866.0 786.15,864.5 786.17,863.0 786.18,861.5 786.20,860.0 786.22,858.5 786.24,857.0 786.26,855.5 786.28,854.0 786.29,852.5 786.31,851.0 786.33,849.5 786.35,848.0 786.37,846.5 786.39,845.0 786.41,843.5 786.43,842.1 786.44,840.6 786.46,839.1 786.48,837.6 786.50,836.1 786.52,834.6 786.54,833.1 786.56,831.6 786.58,830.1 786.60,828.6 786.62,827.1 786.64,825.6 786.66,824.1 786.68,822.6 786.70,821.1 786.72,819.6 786.74,818.1 786.76,816.6 786.78,815.1 786.80,813.6 786.82,812.1 786.84,810.6 786.86,809.1 786.89,807.6 786.91,806.1 786.93,804.6 786.95,803.1 786.97,801.6 786.99,800.1 787.01,798.6 787.04,797.1 787.06,795.6 787.08,794.1 787.10,792.6 787.13,791.1 787.15,789.6 787.17,788.1 787.19,786.6 787.22,785.1 787.24,783.6 787.26,782.1 787.29,780.6 787.31,779.1 787.34,777.6 787.36,776.1 787.38,774.6 787.41,773.1 787.43,771.6 787.46,770.1 787.48,768.6 787.51,767.1 787.53,765.6 787.56,764.1 787.58,762.6 787.61,761.1 787.63,759.6 787.66,758.1 787.69,756.6 787.71,755.1 787.74,753.6 787.76,752.1 787.79,750.6 787.82,749.1 787.85,747.6 787.87,746.1 787.90,744.6 787.93,743.1 787.96,741.6 787.98,740.1 788.01,738.6 788.04,737.1 788.07,735.6 788.10,734.1 788.13,732.6 788.16,731.1 788.19,729.6 788.22,728.1 788.25,726.6 788.28,725.1 788.31,723.6 788.34,722.1 788.37,720.6 788.40,719.1 788.43,717.6 788.46,716.1 788.49,714.6 788.53,713.1 788.56,711.6 788.59,710.1 788.62,708.6 788.66,707.1 788.69,705.6 788.72,704.1 788.76,702.6 788.79,701.1 788.82,699.6 788.86,698.1 788.89,696.7 788.93,695.2 788.96,693.7 789.00,692.2 789.03,690.7 789.07,689.2 789.11,687.7 789.14,686.2 789.18,684.7 789.22,683.2 789.25,681.7 789.29,680.2 789.33,678.7 789.37,677.2 789.41,675.7 789.44,674.2 789.48,672.7 789.52,671.2 789.56,669.7 789.60,668.2 789.64,666.7 789.68,665.2 789.72,663.7 789.76,662.2 789.80,660.7 789.85,659.2 789.89,657.7 789.93,656.2 789.97,654.7 790.01,653.2 790.06,651.7 790.10,650.2 790.14,648.7 790.19,647.2 790.23,645.7 790.28,644.2 790.32,642.7 790.37,641.2 790.41,639.7 790.46,638.2 790.50,636.7 790.55,635.2 790.60,633.7 790.64,632.2 790.69,630.7 790.74,629.2 790.79,627.7 790.83,626.2 790.88,624.7 790.93,623.2 790.98,621.7 791.03,620.2 791.08,618.7 791.13,617.2 791.18,615.7 791.23,614.2 791.28,612.7 791.34,611.2 791.39,609.7 791.44,608.2 791.49,606.7 791.55,605.2 791.60,603.7 791.65,602.2 791.71,600.7 791.76,599.2 791.82,597.7 791.87,596.2 791.93,594.7 791.99,593.2 792.04,591.7 792.10,590.2 792.16,588.7 792.22,587.2 792.28,585.7 792.34,584.2 792.40,582.7 792.46,581.2 792.52,579.7 792.59,578.2 792.65,576.7 792.72,575.2 792.78,573.7 792.85,572.2 792.92,570.7 792.99,569.2 793.06,567.7 793.13,566.2 793.21,564.7 793.28,563.2 793.36,561.7 793.44,560.2 793.51,558.7 793.60,557.2 793.68,555.7 793.76,554.2 793.85,552.7 793.93,551.2 794.02,549.7 794.11,548.2 794.20,546.7 794.30,545.2 794.39,543.7 794.49,542.2 794.59,540.7 794.69,539.2 794.79,537.7 794.90,536.2 795.01,534.7 795.12,533.2 795.23,531.8 795.34,530.3 795.46,528.8 795.58,527.3 795.70,525.8 795.82,524.3 795.94,522.8 796.07,521.3 796.20,519.8 796.34,518.3 796.47,516.8 796.61,515.3 796.75,513.8 796.89,512.4 797.04,510.9 797.19,509.4 797.34,507.9 797.49,506.4 797.65,504.9 797.81,503.4 797.97,501.9 798.14,500.5 798.31,499.0 798.48,497.5 798.65,496.0 798.83,494.5 799.01,493.0 799.20,491.5 799.39,490.1 799.58,488.6 799.77,487.1 799.97,485.6 800.17,484.1 800.37,482.7 800.58,481.2 800.79,479.7 801.01,478.2 801.23,476.7 801.45,475.3 801.68,473.8 801.91,472.3 802.14,470.8 802.38,469.4 802.62,467.9 802.87,466.4 803.12,464.9 803.37,463.5 803.63,462.0 803.89,460.5 804.15,459.0 804.42,457.6 804.70,456.1 804.98,454.6 805.26,453.2 805.55,451.7 805.85,450.2 806.15,448.8 806.46,447.3 806.78,445.9 807.10,444.4 807.43,443.0 807.77,441.5 808.12,440.1 808.48,438.7 808.84,437.2 809.22,435.8 809.60,434.4 809.99,433.0 810.40,431.6 810.81,430.2 811.24,428.8 811.68,427.4 812.12,426.0 812.59,424.6 813.06,423.3 813.54,421.9 814.04,420.6 814.55,419.2 815.08,417.9 815.61,416.6 816.16,415.3 816.71,414.0 817.28,412.7 817.85,411.4 818.43,410.1 819.02,408.8 819.61,407.5 820.21,406.2 820.81,404.9 821.41,403.7 822.02,402.4 822.63,401.1 823.24,399.8 823.85,398.5 824.46,397.3 825.06,396.0 825.66,394.7 826.26,393.4 826.86,392.1 827.45,390.8 828.03,389.5 828.61,388.2 829.18,386.9 829.75,385.6 830.31,384.2 830.86,382.9 831.40,381.6 831.95,380.2 832.48,378.9 833.01,377.5 833.53,376.1 834.05,374.8 834.57,373.4 835.08,372.0 835.59,370.6 836.09,369.3 836.60,367.9 837.10,366.5 837.59,365.1 838.09,363.7 838.58,362.3 839.07,360.9 839.56,359.5 840.05,358.1 840.54,356.7 841.02,355.3 841.51,353.8 842.00,352.4 842.49,351.0 842.98,349.6 843.47,348.2 843.96,346.8 844.45,345.4 844.95,344.0 845.45,342.6 845.95,341.2 846.45,339.8 846.96,338.4 847.47,337.0 847.98,335.6 848.50,334.2 849.03,332.8 849.55,331.5 850.09,330.1 850.63,328.7 851.17,327.4 851.72,326.0 852.28,324.7 852.84,323.3 853.41,322.0 853.99,320.6 854.57,319.3 855.17,318.0 855.77,316.7 856.38,315.4 856.99,314.1 857.62,312.8 858.25,311.5 858.89,310.2 859.54,309.0 860.19,307.7 860.86,306.4 861.53,305.2 862.21,303.9 862.89,302.7 863.58,301.5 864.28,300.3 864.99,299.0 865.70,297.8 866.43,296.6 867.15,295.4 867.89,294.3 868.63,293.1 869.38,291.9 870.13,290.7 870.89,289.6 871.66,288.4 872.44,287.3 873.22,286.1 874.00,285.0 874.80,283.9 875.60,282.7 876.40,281.6 877.21,280.5 878.03,279.4 878.86,278.3 879.69,277.2 880.52,276.1 881.36,275.0 882.21,273.9 883.06,272.9 883.92,271.8 884.78,270.8 885.65,269.7 886.52,268.6 887.40,267.6 888.28,266.6 889.17,265.5 890.07,264.5 890.97,263.5 891.87,262.5 892.78,261.4 893.69,260.4 894.61,259.4 895.53,258.4 896.46,257.4 897.39,256.5 898.33,255.5 899.27,254.5 900.21,253.5 901.16,252.6 902.11,251.6 903.07,250.6 904.03,249.7 904.99,248.7 905.96,247.8 906.93,246.9 907.91,245.9 908.89,245.0 909.87,244.1 910.86,243.1 911.85,242.2 912.84,241.3 913.84,240.4 914.84,239.5 915.84,238.6 916.85,237.7 917.86,236.8 918.87,235.9 919.89,235.0 920.90,234.1 921.92,233.3 922.95,232.4 923.97,231.5 925.00,230.7 926.03,229.8 927.07,228.9 928.10,228.1 929.14,227.2 930.18,226.4 931.22,225.5 932.27,224.7 933.31,223.8 934.36,223.0 935.41,222.2 936.46,221.3 937.52,220.5 938.57,219.7 939.63,218.9 940.69,218.1 941.75,217.2 942.81,216.4 943.87,215.6 944.94,214.8 946.00,214.0 947.07,213.2 948.13,212.4 949.20,211.6 950.27,210.8 951.34,210.0 952.41,209.3 953.49,208.5 954.56,207.7 955.63,206.9 956.71,206.1 957.79,205.4 958.86,204.6 959.94,203.8 961.02,203.1 962.10,202.3 963.19,201.5 964.27,200.8 965.35,200.0 966.44,199.3 967.53,198.5 968.61,197.8 969.70,197.0 970.79,196.3 971.88,195.6 972.97,194.8 974.06,194.1 975.16,193.4 976.25,192.6 977.35,191.9 978.44,191.2 979.54,190.5 980.64,189.7 981.74,189.0 982.84,188.3 983.94,187.6 985.04,186.9 986.15,186.2 987.25,185.5 988.35,184.8 989.46,184.1 990.57,183.4 991.67,182.7 992.78,182.0 993.89,181.3 995.00,180.6 996.12,179.9 997.23,179.3 998.34,178.6 999.46,177.9 1000.57,177.2 1001.69,176.5 1002.80,175.9 1003.92,175.2 1005.04,174.5 1006.16,173.9 1007.28,173.2 1008.40,172.6 1009.52,171.9 1010.65,171.2 1011.77,170.6 1012.90,169.9 1014.02,169.3 1015.15,168.7 1016.27,168.0 1017.40,167.4 1018.53,166.7 1019.66,166.1 1020.79,165.5 1021.92,164.8 1023.06,164.2 1024.19,163.6 1025.32,162.9 1026.46,162.3 1027.59,161.7 1028.73,161.1 1029.87,160.5 1031.00,159.9 1032.14,159.2 1033.28,158.6 1034.42,158.0 1035.56,157.4 1036.71,156.8 1037.85,156.2 1038.99,155.6 1040.14,155.0 1041.28,154.4 1042.43,153.8 1043.57,153.2 1044.72,152.6 1045.87,152.1 1047.02,151.5 1048.17,150.9 1049.32,150.3 1050.47,149.7 1051.62,149.1 1052.77,148.6 1053.92,148.0 1055.08,147.4 1056.23,146.9 1057.39,146.3 1058.54,145.7 1059.70,145.2 1060.85,144.6 1062.01,144.0 1063.17,143.5 1064.33,142.9 1065.49,142.4 1066.65,141.8 1067.81,141.3 1068.97,140.7 1070.14,140.2 1071.30,139.6 1072.46,139.1 1073.63,138.5 1074.79,138.0 1075.96,137.5 1077.12,136.9 1078.29,136.4 1079.46,135.9 1080.63,135.3 1081.79,134.8 1082.96,134.3 1084.13,133.8 1085.30,133.2 1086.47,132.7 1087.65,132.2 1088.82,131.7 1089.99,131.2 1091.16,130.7 1092.34,130.1 1093.51,129.6 1094.69,129.1 1095.86,128.6 1097.04,128.1 1098.22,127.6 1099.39,127.1 1100.57,126.6 1101.75,126.1 1102.93,125.6 1104.11,125.1 1105.29,124.6 1106.47,124.1 1107.65,123.6 1108.83,123.1 1110.01,122.7 1111.20,122.2 1112.38,121.7 1113.56,121.2 1114.75,120.7 1115.93,120.2 1117.12,119.8 1118.30,119.3 1119.49,118.8 1120.67,118.3 1121.86,117.9 1123.05,117.4 1124.24,116.9 1125.42,116.5 1126.61,116.0 1127.80,115.5 1128.99,115.1 1130.18,114.6 1131.37,114.2 1132.56,113.7 1133.75,113.2 1134.95,112.8 1136.14,112.3 1137.33,111.9 1138.52,111.4 1139.72,111.0 1140.91,110.5 1142.11,110.1 1143.30,109.6 1144.50,109.2 1145.69,108.8 1146.89,108.3 1148.08,107.9 1149.28,107.4 1150.48,107.0 1151.67,106.6 1152.87,106.1 1154.07,105.7 1155.27,105.3 1156.47,104.8 1157.67,104.4 1158.87,104.0 1160.07,103.6 1161.27,103.1 1162.47,102.7 1163.67,102.3 1164.87,101.9 1166.07,101.4 1167.27,101.0 1168.47,100.6 1169.67,100.2 1170.88,99.8 1172.08,99.4 1173.28,98.9 1174.49,98.5 1175.69,98.1 1176.89,97.7 1178.10,97.3 1179.30,96.9 1180.51,96.5 1181.71,96.1 1182.92,95.7 1184.12,95.3 1185.33,94.9 1186.54,94.5 1187.74,94.1 1188.95,93.7 1190.16,93.3 1191.36,92.9 1192.57,92.5 1193.78,92.1 1194.99,91.7 1196.19,91.3 1197.40,90.9 1198.61,90.5 1199.82,90.2 1201.03,89.8 1202.24,89.4 1203.45,89.0 1204.66,88.6 1205.86,88.2 1207.07,87.8 1208.28,87.5 1209.49,87.1 1210.70,86.7 1211.92,86.3 1213.13,85.9 1214.34,85.6 1215.55,85.2 1216.76,84.8 1217.97,84.4 1219.18,84.1 1220.39,83.7 1221.60,83.3 1222.81,83.0 1224.03,82.6 1225.24,82.2 1226.45,81.9 1227.66,81.5 1228.87,81.1 1230.09,80.8 1231.30,80.4 1232.51,80.0 1233.72,79.7 1234.94,79.3 1236.15,78.9 1237.36,78.6 1238.58,78.2 1239.79,77.9 1241.00,77.5 1242.21,77.2 1243.43,76.8 1244.64,76.4 1245.85,76.1 1247.07,75.7 1248.28,75.4 1249.49,75.0 1250.71,74.7 1251.92,74.3 1253.13,74.0 1254.35,73.6 1255.56,73.3 1256.77,72.9 1257.99,72.6 1259.20,72.2 1260.41,71.9 1261.63,71.5 1262.84,71.2 1264.05,70.8 1265.27,70.5 1266.48,70.2 1267.69,69.8 1268.91,69.5 1270.12,69.1 1271.33,68.8 1272.55,68.5 1273.76,68.1 1274.97,67.8 1276.18,67.4 1277.40,67.1 1278.61,66.8 1279.82,66.4 1281.04,66.1 1282.25,65.7 1283.46,65.4 1284.67,65.1 1285.89,64.7 1287.10,64.4 1288.31,64.1 1289.52,63.7 1290.73,63.4 1291.95,63.1 1293.16,62.7"/>
<polyline stroke="#0070e0" transform="scale(1.2,1)" points="274.44,635.9 275.68,636.0 276.93,636.0 278.17,636.1 279.42,636.2 280.66,636.3 281.91,636.4 283.15,636.5 284.40,636.6 285.64,636.7 286.89,636.8 288.13,636.9 289.38,637.0 290.62,637.1 291.87,637.2 293.11,637.3 294.36,637.4 295.60,637.5 296.85,637.5 298.09,637.6 299.34,637.7 300.59,637.8 301.83,637.9 303.08,638.0 304.32,638.1 305.57,638.2 306.81,638.3 308.06,638.4 309.30,638.5 310.55,638.6 311.79,638.7 313.04,638.8 314.28,638.9 315.53,639.0 316.78,639.1 318.02,639.1 319.27,639.2 320.51,639.3 321.76,639.4 323.00,639.5 324.25,639.6 325.49,639.7 326.74,639.8 327.99,639.9 329.23,640.0 330.48,640.1 331.72,640.2 332.97,640.3 334.21,640.4 335.46,640.5 336.70,640.6 337.95,640.7 339.20,640.8 340.44,640.9 341.69,641.0 342.93,641.1 344.18,641.2 345.42,641.3 346.67,641.4 347.91,641.5 349.16,641.6 350.41,641.6 351.65,641.7 352.90,641.8 354.14,641.9 355.39,642.0 356.63,642.1 357.88,642.2 359.12,642.3 360.37,642.4 361.61,642.5 362.86,642.6 364.11,642.7 365.35,642.8 366.60,642.9 367.84,643.0 369.09,643.1 370.33,643.2 371.58,643.3 372.82,643.4 374.07,643.5 375.32,643.6 376.56,643.7 377.81,643.8 379.05,643.9 380.30,644.0 381.54,644.2 382.79,644.3 384.03,644.4 385.28,644.5 386.52,644.6 387.77,644.7 389.01,644.8 390.26,644.9 391.50,645.0 392.75,645.1 394.00,645.2 395.24,645.3 396.49,645.4 397.73,645.5 398.98,645.6 400.22,645.7 401.47,645.8 402.71,645.9 403.96,646.0 405.20,646.1 406.45,646.3 407.69,646.4 408.94,646.5 410.18,646.6 411.43,646.7 412.67,646.8 413.92,646.9 415.16,647.0 416.41,647.1 417.65,647.2 418.90,647.4 420.14,647.5 421.39,647.6 422.63,647.7 423.88,647.8 425.12,647.9 426.37,648.0 427.61,648.1 428.86,648.2 430.10,648.4 431.34,648.5 432.59,648.6 433.83,648.7 435.08,648.8 436.32,648.9 437.57,649.1 438.81,649.2 440.06,649.3 441.30,649.4 442.55,649.5 443.79,649.6 445.03,649.8 446.28,649.9 447.52,650.0 448.77,650.1 450.01,650.2 451.26,650.4 452.50,650.5 453.74,650.6 454.99,650.7 456.23,650.8 457.48,651.0 458.72,651.1 459.96,651.2 461.21,651.3 462.45,651.4 463.70,651.6 464.94,651.7 466.18,651.8 467.43,651.9 468.67,652.1 469.92,652.2 471.16,652.3 472.40,652.5 473.65,652.6 474.89,652.7 476.13,652.8 477.38,653.0 478.62,653.1 479.86,653.2 481.11,653.4 482.35,653.5 483.59,653.6 484.84,653.7 486.08,653.9 487.32,654.0 488.57,654.1 489.81,654.3 491.05,654.4 492.30,654.5 493.54,654.7 494.78,654.8 496.02,655.0 497.27,655.1 498.51,655.2 499.75,655.4 501.00,655.5 502.24,655.6 503.48,655.8 504.72,655.9 505.97,656.1 507.21,656.2 508.45,656.3 509.69,656.5 510.94,656.6 512.18,656.8 513.42,656.9 514.66,657.1 515.91,657.2 517.15,657.3 518.39,657.5 519.63,657.6 520.87,657.8 522.12,657.9 523.36,658.1 524.60,658.2 525.84,658.4 527.08,658.5 528.32,658.7 529.57,658.8 530.81,659.0 532.05,659.1 533.29,659.3 534.53,659.4 535.77,659.6 537.01,659.7 538.26,659.9 539.50,660.0 540.74,660.2 541.98,660.4 543.22,660.5 544.46,660.7 545.70,660.8 546.94,661.0 548.18,661.1 549.42,661.3 550.67,661.5 551.91,661.6 553.15,661.8 554.39,661.9 555.63,662.1 556.87,662.3 558.11,662.4 559.35,662.6 560.59,662.8 561.83,662.9 563.07,663.1 564.31,663.3 565.55,663.4 566.79,663.6 568.03,663.8 569.27,663.9 570.51,664.1 571.75,664.3 572.99,664.5 574.23,664.6 575.47,664.8 576.71,665.0 577.95,665.2 579.18,665.3 580.42,665.5 581.66,665.7 582.90,665.9 584.14,666.0 585.38,666.2 586.62,666.4 587.86,666.6 589.10,666.8 590.33,666.9 591.57,667.1 592.81,667.3 594.05,667.5 595.29,667.7 596.53,667.9 597.77,668.1 599.00,668.2 600.24,668.4 601.48,668.6 602.72,668.8 603.96,669.0 605.19,669.2 606.43,669.4 607.67,669.6 608.91,669.8 610.14,670.0 611.38,670.2 612.62,670.4 613.86,670.6 615.09,670.8 616.33,671.0 617.57,671.2 618.81,671.4 620.04,671.6 621.28,671.8 622.52,672.0 623.75,672.2 624.99,672.4 626.23,672.6 627.46,672.9 628.70,673.1 629.94,673.3 631.17,673.5 632.41,673.7 633.64,673.9 634.88,674.2 636.12,674.4 637.35,674.6 638.59,674.8 639.82,675.0 641.06,675.3 642.29,675.5 643.53,675.7 644.77,676.0 646.00,676.2 647.24,676.4 648.47,676.7 649.71,676.9 650.94,677.1 652.18,677.4 653.41,677.6 654.65,677.9 655.88,678.1 657.12,678.4 658.35,678.6 659.59,678.9 660.82,679.1 662.05,679.4 663.29,679.6 664.52,679.9 665.75,680.1 666.99,680.4 668.22,680.7 669.45,680.9 670.68,681.2 671.91,681.5 673.13,681.8 674.36,682.1 675.58,682.3 676.81,682.6 678.03,682.9 679.25,683.2 680.46,683.6 681.68,683.9 682.89,684.2 684.10,684.5 685.31,684.9 686.51,685.2 687.71,685.6 688.91,685.9 690.11,686.3 691.30,686.7 692.49,687.1 693.67,687.5 694.86,687.9 696.04,688.3 697.21,688.7 698.38,689.1 699.55,689.6 700.71,690.0 701.87,690.5 703.03,690.9 704.18,691.4 705.33,691.9 706.48,692.4 707.63,692.9 708.77,693.4 709.92,693.9 711.06,694.5 712.20,695.0 713.35,695.5 714.49,696.1 715.64,696.6 716.79,697.2 717.94,697.7 719.09,698.3 720.25,698.8 721.41,699.4 722.57,700.0 723.74,700.5 724.92,701.1 726.09,701.6 727.28,702.2 728.46,702.8 729.65,703.3 730.85,703.9 732.04,704.5 733.24,705.1 734.43,705.6 735.63,706.2 736.82,706.8 738.01,707.4 739.20,708.0 740.38,708.6 741.56,709.3 742.74,709.9 743.91,710.5 745.07,711.2 746.22,711.9 747.37,712.5 748.50,713.2 749.63,714.0 750.75,714.7 751.85,715.4 752.94,716.2 754.02,716.9 755.09,717.7 756.14,718.6 757.17,719.4 758.19,720.2 759.19,721.1 760.17,722.0 761.13,722.9 762.06,723.8 762.98,724.8 763.86,725.7 764.72,726.7 765.56,727.8 766.36,728.8 767.14,729.9 767.88,730.9 768.59,732.0 769.26,733.2 769.90,734.3 770.51,735.5 771.08,736.7 771.61,737.9 772.11,739.2 772.57,740.4 773.01,741.7 773.42,743.0 773.79,744.4 774.14,745.7 774.46,747.1 774.76,748.5 775.03,749.9 775.28,751.3 775.51,752.7 775.72,754.1 775.91,755.6 776.08,757.0 776.23,758.5 776.37,760.0 776.49,761.5 776.59,763.0 776.69,764.5 776.77,766.0 776.85,767.5 776.91,769.1 776.97,770.6 777.02,772.1 777.07,773.7 777.11,775.2 777.15,776.8 777.18,778.3 777.22,779.8 777.25,781.4 777.29,782.9 777.32,784.4 777.36,786.0 777.39,787.5 777.43,789.1 777.46,790.6 777.50,792.1 777.53,793.7 777.57,795.2 777.61,796.7 777.64,798.2 777.68,799.8 777.71,801.3 777.75,802.8 777.78,804.4 777.82,805.9 777.85,807.4 777.89,808.9 777.92,810.4 777.96,812.0 777.99,813.5 778.03,815.0 778.06,816.5 778.10,818.0 778.14,819.6 778.17,821.1 778.21,822.6 778.24,824.1 778.28,825.6 778.31,827.1 778.35,828.7 778.38,830.2 778.42,831.7 778.45,833.2 778.49,834.7 778.52,836.2 778.56,837.7 778.59,839.2 778.63,840.7 778.67,842.3 778.70,843.8 778.74,845.3 778.77,846.8 778.81,848.3 778.84,849.8 778.88,851.3 778.91,852.8 778.95,854.3 778.98,855.8 779.02,857.3 779.05,858.8 779.09,860.3 779.12,861.8 779.16,863.3 779.19,864.8 779.23,866.3 779.26,867.8 779.30,869.3 779.33,870.8 779.37,872.3 779.40,873.8 779.44,875.3 779.47,876.8 779.51,878.3 779.54,879.8 779.58,881.3 779.61,882.8 779.65,884.3 779.68,885.7 779.72,887.2 779.75,888.7 779.79,890.2 779.82,891.7 779.86,893.2 779.89,894.7 779.93,896.2 779.96,897.7 780.00,899.2 780.03,900.7 780.07,902.2 780.10,903.6 780.13,905.1 780.17,906.6 780.20,908.1 780.24,909.6 780.27,911.1 780.31,912.6 780.34,914.1 780.38,915.6 780.41,917.0 780.44,918.5 780.48,920.0 780.51,921.5 780.55,923.0 780.58,924.5 780.62,926.0 780.65,927.5 780.68,928.9 780.72,930.4 780.75,931.9 780.79,933.4 780.82,934.9 780.85,936.4 780.89,937.9 780.92,939.4 780.96,940.8 780.99,942.3 781.02,943.8 781.06,945.3 781.09,946.8 781.12,948.3 781.16,949.8 781.19,951.2 781.23,952.7 781.26,954.2 781.29,955.7 781.33,957.2 781.36,958.7 781.39,960.2 781.43,961.7 781.46,963.1 781.49,964.6 781.53,966.1 781.56,967.6 781.59,969.1 781.62,970.6 781.66,972.1 781.69,973.6 781.72,975.0 781.76,976.5 781.79,978.0 781.82,979.5 781.85,981.0 781.89,982.5 781.92,984.0 781.95,985.5 781.99,987.0 782.02,988.5 782.05,989.9 782.08,991.4 782.11,992.9 782.15,994.4 782.18,995.9 782.21,997.4 782.24,998.9 782.28,1000.4 782.31,1001.9 782.34,1003.4 782.37,1004.9 782.40,1006.4 782.44,1007.9 782.47,1009.3 782.50,1010.8 782.53,1012.3 782.56,1013.8 782.59,1015.3 782.62,1016.8 782.66,1018.3 782.69,1019.8 782.72,1021.3 782.75,1022.8 782.78,1024.3 782.81,1025.8 782.84,1027.3 782.87,1028.8 782.91,1030.3 782.94,1031.8 782.97,1033.3 783.00,1034.8 783.03,1036.3 783.06,1037.8 783.09,1039.3 783.12,1040.8 783.15,1042.3 783.18,1043.8 783.21,1045.4 783.24,1046.9 783.27,1048.4 783.30,1049.9 783.33,1051.4 783.36,1052.9 783.39,1054.4 783.42,1055.9 783.45,1057.4 783.48,1058.9 783.51,1060.4 783.54,1062.0 783.57,1063.5 783.60,1065.0 783.63,1066.5 783.66,1068.0 783.69,1069.5 783.72,1071.1 783.74,1072.6 783.77,1074.1 783.80,1075.6 783.83,1077.1 783.86,1078.7 783.89,1080.2 783.92,1081.7 783.95,1083.2"/>
<polyline stroke="#0070e0" transform="scale(1.2,1)" points="782.85,1083.1 782.94,1081.6 783.03,1080.1 783.12,1078.5 783.21,1077.0 783.30,1075.5 783.38,1074.0 783.47,1072.5 783.55,1071.0 783.64,1069.5 783.72,1068.0 783.80,1066.5 783.88,1065.0 783.95,1063.5 784.03,1062.0 784.11,1060.5 784.18,1059.0 784.25,1057.5 784.33,1056.0 784.40,1054.5 784.47,1053.0 784.54,1051.5 784.60,1050.0 784.67,1048.5 784.73,1047.0 784.80,1045.5 784.86,1044.0 784.92,1042.5 784.99,1041.0 785.05,1039.5 785.11,1037.9 785.16,1036.4 785.22,1034.9 785.28,1033.4 785.33,1031.9 785.39,1030.4 785.44,1028.9 785.49,1027.4 785.54,1025.9 785.59,1024.4 785.64,1022.9 785.69,1021.4 785.74,1019.9 785.78,1018.4 785.83,1016.9 785.87,1015.4 785.92,1013.9 785.96,1012.4 786.00,1010.9 786.04,1009.4 786.08,1007.9 786.12,1006.4 786.16,1004.9 786.20,1003.4 786.24,1001.9 786.27,1000.4 786.31,998.9 786.34,997.4 786.38,995.9 786.41,994.4 786.44,992.9 786.47,991.4 786.51,989.9 786.54,988.4 786.57,986.9 786.59,985.4 786.62,983.9 786.65,982.4 786.68,980.9 786.70,979.4 786.73,977.9 786.75,976.4 786.78,974.9 786.80,973.4 786.82,971.9 786.84,970.4 786.86,968.9 786.89,967.4 786.91,965.9 786.93,964.4 786.94,962.9 786.96,961.4 786.98,959.9 787.00,958.4 787.01,956.9 787.03,955.4 787.05,953.9 787.06,952.4 787.08,950.9 787.09,949.5 787.10,948.0 787.12,946.5 787.13,945.0 787.14,943.5 787.15,942.0 787.17,940.5 787.18,939.0 787.19,937.5 787.20,936.0 787.21,934.5 787.22,933.0 787.22,931.5 787.23,930.0 787.24,928.5 787.25,927.0 787.26,925.5 787.26,924.0 787.27,922.5 787.28,921.0 787.28,919.5 787.29,918.0 787.29,916.5 787.30,915.0 787.30,913.5 787.31,912.0 787.31,910.5 787.32,909.0 787.32,907.5 787.32,906.0 787.33,904.5 787.33,903.0 787.33,901.5 787.33,900.0 787.34,898.5 787.34,897.0 787.34,895.6 787.34,894.1 787.34,892.6 787.35,891.1 787.35,889.6 787.35,888.1 787.35,886.6 787.35,885.1 787.35,883.6 787.35,882.1 787.35,880.6 787.35,879.1 787.35,877.6 787.35,876.1 787.35,874.6 787.35,873.1 787.36,871.6 787.36,870.1 787.36,868.6 787.36,867.1 787.36,865.6 787.36,864.1 787.36,862.6 787.36,861.1 787.36,859.6 787.36,858.1 787.36,856.6 787.36,855.2 787.36,853.7 787.36,852.2 787.36,850.7 787.36,849.2 787.36,847.7 787.36,846.2 787.36,844.7 787.37,843.2 787.37,841.7 787.37,840.2 787.37,838.7 787.37,837.2 787.37,835.7 787.38,834.2 787.38,832.7 787.38,831.2 787.38,829.7 787.39,828.2 787.39,826.7 787.39,825.2 787.40,823.7 787.40,822.2 787.41,820.7 787.41,819.2 787.42,817.7 787.42,816.3 787.43,814.8 787.43,813.3 787.44,811.8 787.45,810.3 787.45,808.8 787.46,807.3 787.47,805.8 787.47,804.3 787.48,802.8 787.49,801.3 787.50,799.8 787.51,798.3 787.52,796.8 787.53,795.3 787.54,793.8 787.55,792.3 787.56,790.8 787.57,789.3 787.59,787.8 787.60,786.3 787.61,784.8 787.63,783.3 787.64,781.8 787.66,780.3 787.67,778.8 787.69,777.3 787.70,775.9 787.72,774.4 787.74,772.9 787.76,771.4 787.78,769.9 787.79,768.4 787.81,766.9 787.83,765.4 787.86,763.9 787.88,762.4 787.90,760.9 787.92,759.4 787.95,757.9 787.97,756.4 788.00,754.9 788.02,753.4 788.05,751.9 788.07,750.4 788.10,748.9 788.13,747.4 788.16,745.9 788.19,744.4 788.22,742.9 788.25,741.4 788.28,739.9 788.31,738.4 788.35,736.9 788.38,735.4 788.42,733.9 788.45,732.4 788.49,730.9 788.53,729.4 788.56,727.9 788.60,726.4 788.64,724.9 788.68,723.4 788.73,721.9 788.77,720.4 788.81,718.9 788.86,717.4 788.90,716.0 788.95,714.5 788.99,713.0 789.04,711.5 789.09,710.0 789.14,708.5 789.19,707.0 789.24,705.5 789.29,704.0 789.35,702.5 789.40,701.0 789.46,699.5 789.51,698.0 789.57,696.5 789.63,695.0 789.69,693.5 789.75,692.0 789.81,690.5 789.87,689.0 789.94,687.5 790.00,686.0 790.07,684.5 790.14,683.0 790.20,681.5 790.27,680.0 790.34,678.5 790.41,677.0 790.49,675.5 790.56,674.0 790.63,672.5 790.71,671.0 790.79,669.5 790.87,668.0 790.95,666.5 791.03,665.0 791.11,663.5 791.19,662.0 791.28,660.5 791.36,659.0 791.45,657.5 791.54,656.0 791.62,654.5 791.72,653.0 791.81,651.5 791.90,650.0 791.99,648.4 792.09,646.9 792.19,645.4 792.29,643.9 792.39,642.4 792.49,640.9 792.59,639.4 792.69,637.9 792.80,636.4 792.90,634.9 793.01,633.4 793.12,631.9 793.23,630.4 793.34,628.9 793.46,627.4 793.57,625.9 793.69,624.4 793.80,622.9 793.92,621.4 794.04,619.9 794.17,618.4 794.29,616.9 794.42,615.4 794.54,613.9 794.67,612.4 794.80,610.9 794.93,609.4 795.06,607.9 795.20,606.4 795.33,604.9 795.47,603.4 795.61,601.8 795.75,600.3 795.90,598.8 796.04,597.3 796.19,595.8 796.34,594.3 796.49,592.8 796.64,591.3 796.80,589.8 796.95,588.3 797.11,586.8 797.27,585.3 797.44,583.8 797.60,582.3 797.77,580.8 797.94,579.3 798.11,577.8 798.29,576.3 798.46,574.8 798.64,573.3 798.82,571.8 799.01,570.3 799.20,568.8 799.39,567.3 799.58,565.8 799.77,564.3 799.97,562.8 800.17,561.4 800.37,559.9 800.58,558.4 800.79,556.9 801.00,555.4 801.21,553.9 801.43,552.4 801.65,550.9 801.87,549.4 802.10,548.0 802.33,546.5 802.56,545.0 802.79,543.5 803.03,542.0 803.27,540.5 803.52,539.1 803.76,537.6 804.02,536.1 804.27,534.6 804.53,533.2 804.79,531.7 805.05,530.2 805.32,528.7 805.59,527.3 805.87,525.8 806.15,524.3 806.43,522.9 806.71,521.4 807.00,520.0 807.30,518.5 807.59,517.0 807.89,515.6 808.20,514.1 808.51,512.7 808.82,511.2 809.13,509.8 809.45,508.3 809.78,506.9 810.11,505.4 810.44,504.0 810.77,502.5 811.11,501.1 811.46,499.7 811.81,498.2 812.16,496.8 812.52,495.3 812.88,493.9 813.24,492.5 813.61,491.1 813.99,489.6 814.37,488.2 814.75,486.8 815.14,485.4 815.53,483.9 815.93,482.5 816.33,481.1 816.73,479.7 817.14,478.3 817.56,476.9 817.98,475.5 818.40,474.1 818.83,472.7 819.27,471.3 819.71,469.9 820.15,468.5 820.60,467.1 821.05,465.7 821.51,464.3 821.98,462.9 822.45,461.6 822.92,460.2 823.40,458.8 823.88,457.4 824.37,456.1 824.87,454.7 825.37,453.3 825.87,452.0 826.38,450.6 826.89,449.2 827.41,447.9 827.94,446.5 828.47,445.2 829.00,443.8 829.54,442.5 830.08,441.1 830.63,439.8 831.18,438.5 831.74,437.1 832.30,435.8 832.87,434.5 833.44,433.2 834.02,431.8 834.60,430.5 835.19,429.2 835.78,427.9 836.37,426.6 836.97,425.3 837.58,424.0 838.19,422.7 838.80,421.4 839.42,420.1 840.05,418.8 840.68,417.5 841.31,416.2 841.95,414.9 842.59,413.7 843.24,412.4 843.89,411.1 844.55,409.9 845.21,408.6 845.87,407.3 846.54,406.1 847.22,404.8 847.90,403.6 848.58,402.3 849.27,401.1 849.96,399.9 850.66,398.6 851.36,397.4 852.07,396.2 852.78,394.9 853.50,393.7 854.22,392.5 854.94,391.3 855.67,390.1 856.40,388.9 857.14,387.7 857.88,386.5 858.63,385.3 859.38,384.1 860.14,382.9 860.90,381.7 861.66,380.6 862.43,379.4 863.20,378.2 863.98,377.1 864.76,375.9 865.54,374.7 866.33,373.6 867.13,372.5 867.93,371.3 868.73,370.2 869.54,369.0 870.35,367.9 871.16,366.8 871.98,365.7 872.81,364.5 873.63,363.4 874.47,362.3 875.30,361.2 876.14,360.1 876.99,359.0 877.84,357.9 878.69,356.9 879.55,355.8 880.41,354.7 881.27,353.6 882.14,352.6 883.02,351.5 883.89,350.5 884.77,349.4 885.66,348.4 886.55,347.3 887.44,346.3 888.34,345.2 889.24,344.2 890.15,343.2 891.06,342.2 891.97,341.2 892.89,340.2 893.81,339.2 894.74,338.2 895.67,337.2 896.60,336.2 897.54,335.2 898.48,334.2 899.42,333.2 900.37,332.3 901.32,331.3 902.28,330.4 903.24,329.4 904.20,328.5 905.17,327.5 906.14,326.6 907.11,325.6 908.09,324.7 909.07,323.8 910.06,322.9 911.04,322.0 912.04,321.0 913.03,320.1 914.03,319.2 915.03,318.4 916.03,317.5 917.04,316.6 918.05,315.7 919.06,314.8 920.08,313.9 921.10,313.1 922.12,312.2 923.15,311.4 924.17,310.5 925.20,309.7 926.24,308.8 927.27,308.0 928.31,307.1 929.36,306.3 930.40,305.5 931.45,304.6 932.50,303.8 933.55,303.0 934.61,302.2 935.66,301.4 936.72,300.6 937.79,299.8 938.85,299.0 939.92,298.2 940.99,297.4 942.06,296.6 943.13,295.9 944.21,295.1 945.29,294.3 946.37,293.6 947.45,292.8 948.54,292.0 949.62,291.3 950.71,290.5 951.80,289.8 952.89,289.1 953.99,288.3 955.08,287.6 956.18,286.8 957.28,286.1 958.38,285.4 959.49,284.7 960.59,284.0 961.70,283.3 962.81,282.5 963.92,281.8 965.03,281.1 966.14,280.4 967.26,279.7 968.37,279.1 969.49,278.4 970.61,277.7 971.73,277.0 972.85,276.3 973.97,275.7 975.09,275.0 976.22,274.3 977.34,273.7 978.47,273.0 979.60,272.3 980.73,271.7 981.86,271.0 982.99,270.4 984.12,269.8 985.25,269.1 986.39,268.5 987.52,267.8 988.66,267.2 989.80,266.6 990.93,266.0 992.07,265.3 993.21,264.7 994.36,264.1 995.50,263.5 996.64,262.9 997.79,262.3 998.93,261.7 1000.08,261.1 1001.23,260.5 1002.38,259.9 1003.53,259.3 1004.68,258.7 1005.83,258.1 1006.98,257.6 1008.13,257.0 1009.29,256.4 1010.44,255.8 1011.60,255.3 1012.76,254.7 1013.91,254.1 1015.07,253.6 1016.23,253.0 1017.39,252.5 1018.56,251.9 1019.72,251.4 1020.88,250.8 1022.05,250.3 1023.21,249.7 1024.38,249.2 1025.55,248.7 1026.71,248.1 1027.88,247.6 1029.05,247.1 1030.22,246.6 1031.39,246.0 1032.56,245.5 1033.74,245.0 1034.91,244.5 1036.09,244.0 1037.26,243.5 1038.44,243.0 1039.61,242.4 1040.79,241.9 1041.97,241.4 1043.15,240.9 1044.33,240.5 1045.51,240.0 1046.69,239.5 1047.87,239.0 1049.05,238.5 1050.24,238.0 1051.42,237.5 1052.61,237.1 1053.79,236.6 1054.98,236.1 1056.17,235.6 1057.35,235.2 1058.54,234.7 1059.73,234.2 1060.92,233.8 1062.11,233.3 1063.30,232.9 1064.49,232.4 1065.69,232.0 1066.88,231.5 1068.07,231.1 1069.27,230.6 1070.46,230.2 1071.66,229.7 1072.85,229.3 1074.05,228.8 1075.25,228.4 1076.45,228.0 1077.64,227.5 1078.84,227.1 1080.04,226.7 1081.24,226.3 1082.44,225.8 1083.64,225.4 1084.85,225.0 1086.05,224.6 1087.25,224.2 1088.45,223.7 1089.66,223.3 1090.86,222.9 1092.07,222.5 1093.27,222.1 1094.48,221.7 1095.68,221.3 1096.89,220.9 1098.10,220.5 1099.30,220.1 1100.51,219.7 1101.72,219.3 1102.93,218.9 1104.14,218.5 1105.35,218.1 1106.56,217.7 1107.77,217.3 1108.98,217.0 1110.19,216.6 1111.41,216.2 1112.62,215.8 1113.83,215.4 1115.04,215.0 1116.26,214.7 1117.47,214.3 1118.68,213.9 1119.90,213.5 1121.11,213.2 1122.33,212.8 1123.54,212.4 1124.76,212.1 1125.98,211.7 1127.19,211.3 1128.41,211.0 1129.63,210.6 1130.84,210.3 1132.06,209.9 1133.28,209.5 1134.50,209.2 1135.72,208.8 1136.94,208.5 1138.16,208.1 1139.37,207.8 1140.59,207.4 1141.81,207.1 1143.03,206.7 1144.25,206.4 1145.47,206.0 1146.70,205.7 1147.92,205.3 1149.14,205.0 1150.36,204.7 1151.58,204.3 1152.80,204.0 1154.02,203.6 1155.25,203.3 1156.47,203.0 1157.69,202.6 1158.91,202.3 1160.14,202.0 1161.36,201.6 1162.58,201.3 1163.80,201.0 1165.03,200.6 1166.25,200.3 1167.47,200.0 1168.70,199.7 1169.92,199.3 1171.14,199.0 1172.37,198.7 1173.59,198.4 1174.82,198.0 1176.04,197.7 1177.26,197.4 1178.49,197.1 1179.71,196.7 1180.94,196.4 1182.16,196.1 1183.38,195.8 1184.61,195.5 1185.83,195.1 1187.06,194.8 1188.28,194.5 1189.51,194.2 1190.73,193.9 1191.95,193.6 1193.18,193.3 1194.40,192.9 1195.63,192.6 1196.85,192.3 1198.07,192.0 1199.30,191.7 1200.52,191.4 1201.75,191.1 1202.97,190.7 1204.19,190.4 1205.42,190.1 1206.64,189.8 1207.86,189.5 1209.09,189.2 1210.31,188.9 1211.53,188.6 1212.76,188.3 1213.98,188.0 1215.20,187.7 1216.42,187.3 1217.65,187.0 1218.87,186.7 1220.09,186.4 1221.31,186.1 1222.53,185.8 1223.75,185.5 1224.98,185.2 1226.20,184.9 1227.42,184.6 1228.64,184.3 1229.86,184.0 1231.08,183.6 1232.30,183.3 1233.52,183.0 1234.74,182.7 1235.96,182.4 1237.18,182.1 1238.39,181.8 1239.61,181.5 1240.83,181.2 1242.05,180.9 1243.27,180.6 1244.48,180.3 1245.70,180.0 1246.92,179.6 1248.13,179.3 1249.35,179.0 1250.56,178.7 1251.78,178.4 1253.00,178.1 1254.21,177.8 1255.42,177.5 1256.64,177.2 1257.85,176.8 1259.07,176.5 1260.28,176.2 1261.49,175.9 1262.70,175.6 1263.91,175.3 1265.13,175.0 1266.34,174.7 1267.55,174.3 1268.76,174.0 1269.97,173.7 1271.18,173.4 1272.38,173.1 1273.59,172.8 1274.80,172.4 1276.01,172.1 1277.22,171.8 1278.42,171.5 1279.63,171.2 1280.83,170.8 1282.04,170.5 1283.24,170.2 1284.45,169.9 1285.65,169.5 1286.85,169.2 1288.06,168.9 1289.26,168.6 1290.46,168.2 1291.66,167.9 1292.86,167.6"/>
<polyline stroke="#00b066" transform="scale(1.2,1)" points="274.38,604.3 275.63,604.5 276.88,604.6 278.13,604.7 279.37,604.9 280.62,605.0 281.87,605.1 283.11,605.3 284.36,605.4 285.61,605.5 286.85,605.7 288.10,605.8 289.35,605.9 290.59,606.0 291.84,606.2 293.09,606.3 294.33,606.4 295.58,606.6 296.82,606.7 298.07,606.8 299.32,607.0 300.56,607.1 301.81,607.2 303.05,607.4 304.30,607.5 305.54,607.6 306.79,607.8 308.03,607.9 309.28,608.0 310.53,608.2 311.77,608.3 313.02,608.4 314.26,608.6 315.51,608.7 316.75,608.8 318.00,609.0 319.24,609.1 320.49,609.3 321.73,609.4 322.97,609.5 324.22,609.7 325.46,609.8 326.71,609.9 327.95,610.1 329.20,610.2 330.44,610.3 331.69,610.5 332.93,610.6 334.17,610.7 335.42,610.9 336.66,611.0 337.91,611.2 339.15,611.3 340.39,611.4 341.64,611.6 342.88,611.7 344.13,611.9 345.37,612.0 346.61,612.1 347.86,612.3 349.10,612.4 350.34,612.5 351.59,612.7 352.83,612.8 354.07,613.0 355.32,613.1 356.56,613.3 357.80,613.4 359.05,613.5 360.29,613.7 361.53,613.8 362.78,614.0 364.02,614.1 365.26,614.2 366.50,614.4 367.75,614.5 368.99,614.7 370.23,614.8 371.48,615.0 372.72,615.1 373.96,615.2 375.20,615.4 376.45,615.5 377.69,615.7 378.93,615.8 380.17,616.0 381.42,616.1 382.66,616.3 383.90,616.4 385.14,616.5 386.38,616.7 387.63,616.8 388.87,617.0 390.11,617.1 391.35,617.3 392.59,617.4 393.84,617.6 395.08,617.7 396.32,617.9 397.56,618.0 398.80,618.2 400.05,618.3 401.29,618.5 402.53,618.6 403.77,618.8 405.01,618.9 406.25,619.1 407.50,619.2 408.74,619.4 409.98,619.5 411.22,619.7 412.46,619.8 413.70,620.0 414.94,620.1 416.19,620.3 417.43,620.4 418.67,620.6 419.91,620.7 421.15,620.9 422.39,621.1 423.63,621.2 424.87,621.4 426.12,621.5 427.36,621.7 428.60,621.8 429.84,622.0 431.08,622.1 432.32,622.3 433.56,622.5 434.80,622.6 436.04,622.8 437.28,622.9 438.53,623.1 439.77,623.2 441.01,623.4 442.25,623.6 443.49,623.7 444.73,623.9 445.97,624.0 447.21,624.2 448.45,624.4 449.69,624.5 450.93,624.7 452.17,624.9 453.41,625.0 454.66,625.2 455.90,625.3 457.14,625.5 458.38,625.7 459.62,625.8 460.86,626.0 462.10,626.2 463.34,626.3 464.58,626.5 465.82,626.7 467.06,626.8 468.30,627.0 469.54,627.2 470.78,627.3 472.02,627.5 473.26,627.7 474.50,627.8 475.74,628.0 476.98,628.2 478.22,628.3 479.47,628.5 480.71,628.7 481.95,628.8 483.19,629.0 484.43,629.2 485.67,629.4 486.91,629.5 488.15,629.7 489.39,629.9 490.63,630.1 491.87,630.2 493.11,630.4 494.35,630.6 495.59,630.8 496.83,630.9 498.07,631.1 499.31,631.3 500.55,631.5 501.79,631.6 503.03,631.8 504.27,632.0 505.51,632.2 506.75,632.3 507.99,632.5 509.23,632.7 510.47,632.9 511.71,633.1 512.95,633.2 514.19,633.4 515.43,633.6 516.67,633.8 517.91,634.0 519.15,634.2 520.40,634.3 521.64,634.5 522.88,634.7 524.12,634.9 525.36,635.1 526.60,635.3 527.84,635.4 529.08,635.6 530.32,635.8 531.56,636.0 532.80,636.2 534.04,636.4 535.28,636.6 536.52,636.8 537.76,636.9 539.00,637.1 540.24,637.3 541.48,637.5 542.72,637.7 543.96,637.9 545.20,638.1 546.44,638.3 547.68,638.5 548.92,638.7 550.16,638.9 551.41,639.1 552.65,639.3 553.89,639.5 555.13,639.6 556.37,639.8 557.61,640.0 558.85,640.2 560.09,640.4 561.33,640.6 562.57,640.8 563.81,641.0 565.05,641.2 566.29,641.4 567.53,641.6 568.77,641.8 570.02,642.0 571.26,642.2 572.50,642.4 573.74,642.6 574.98,642.8 576.22,643.1 577.46,643.3 578.70,643.5 579.94,643.7 581.18,643.9 582.42,644.1 583.66,644.3 584.90,644.5 586.14,644.7 587.38,644.9 588.62,645.1 589.86,645.3 591.10,645.6 592.34,645.8 593.58,646.0 594.82,646.2 596.06,646.4 597.30,646.6 598.54,646.8 599.78,647.1 601.01,647.3 602.25,647.5 603.49,647.7 604.73,647.9 605.96,648.2 607.20,648.4 608.44,648.6 609.67,648.8 610.91,649.1 612.15,649.3 613.38,649.5 614.62,649.7 615.85,650.0 617.09,650.2 618.32,650.4 619.55,650.7 620.79,650.9 622.02,651.1 623.25,651.4 624.48,651.6 625.72,651.8 626.95,652.1 628.18,652.3 629.41,652.6 630.64,652.8 631.87,653.1 633.10,653.3 634.32,653.5 635.55,653.8 636.78,654.0 638.01,654.3 639.23,654.5 640.46,654.8 641.68,655.1 642.91,655.3 644.13,655.6 645.35,655.8 646.58,656.1 647.80,656.3 649.02,656.6 650.24,656.9 651.46,657.1 652.68,657.4 653.90,657.7 655.12,657.9 656.34,658.2 657.55,658.5 658.77,658.8 659.99,659.0 661.20,659.3 662.42,659.6 663.63,659.9 664.85,660.2 666.06,660.4 667.28,660.7 668.49,661.0 669.70,661.3 670.92,661.6 672.13,661.9 673.34,662.2 674.55,662.5 675.77,662.8 676.98,663.1 678.19,663.5 679.40,663.8 680.61,664.1 681.82,664.4 683.03,664.7 684.24,665.1 685.46,665.4 686.67,665.7 687.88,666.1 689.09,666.4 690.30,666.8 691.51,667.1 692.72,667.5 693.93,667.8 695.14,668.2 696.35,668.6 697.56,668.9 698.77,669.3 699.98,669.7 701.19,670.1 702.41,670.4 703.62,670.8 704.83,671.2 706.04,671.6 707.25,672.0 708.47,672.4 709.68,672.9 710.89,673.3 712.11,673.7 713.32,674.1 714.54,674.6 715.75,675.0 716.97,675.4 718.18,675.9 719.40,676.3 720.61,676.8 721.83,677.3 723.05,677.7 724.27,678.2 725.49,678.7 726.70,679.2 727.92,679.7 729.14,680.1 730.36,680.7 731.58,681.2 732.79,681.7 734.00,682.2 735.21,682.8 736.41,683.3 737.61,683.9 738.81,684.4 739.99,685.0 741.18,685.6 742.36,686.2 743.53,686.8 744.69,687.4 745.84,688.1 746.99,688.7 748.12,689.4 749.25,690.1 750.37,690.7 751.47,691.5 752.57,692.2 753.65,692.9 754.72,693.7 755.78,694.5 756.83,695.2 757.86,696.0 758.87,696.9 759.87,697.7 760.86,698.6 761.83,699.5 762.78,700.4 763.71,701.3 764.63,702.2 765.53,703.2 766.41,704.2 767.26,705.2 768.09,706.3 768.88,707.3 769.63,708.4 770.34,709.6 771.00,710.7 771.61,711.9 772.17,713.2 772.68,714.5 773.14,715.8 773.56,717.1 773.94,718.5 774.28,719.9 774.60,721.3 774.89,722.7 775.16,724.1 775.41,725.6 775.64,727.0 775.87,728.5 776.09,729.9 776.30,731.4 776.51,732.9 776.71,734.3 776.91,735.8 777.10,737.2 777.28,738.7 777.46,740.2 777.63,741.7 777.79,743.1 777.95,744.6 778.10,746.1 778.25,747.5 778.40,749.0 778.53,750.5 778.66,752.0 778.79,753.5 778.91,754.9 779.03,756.4 779.14,757.9 779.25,759.4 779.35,760.9 779.45,762.4 779.55,763.9 779.63,765.4 779.72,766.9 779.80,768.3 779.88,769.8 779.95,771.3 780.02,772.8 780.08,774.3 780.14,775.8 780.20,777.3 780.25,778.8 780.30,780.3 780.35,781.8 780.40,783.3 780.44,784.8 780.47,786.3 780.51,787.8 780.54,789.3 780.57,790.9 780.59,792.4 780.61,793.9 780.63,795.4 780.65,796.9 780.67,798.4 780.68,799.9 780.69,801.4 780.70,802.9 780.71,804.4 780.71,805.9 780.72,807.5 780.72,809.0 780.72,810.5 780.71,812.0 780.71,813.5 780.71,815.0 780.70,816.5 780.69,818.0 780.68,819.6 780.68,821.1 780.66,822.6 780.65,824.1 780.64,825.6 780.63,827.1 780.62,828.6 780.60,830.2 780.59,831.7 780.57,833.2 780.56,834.7 780.54,836.2 780.53,837.7 780.52,839.2 780.50,840.8 780.49,842.3 780.47,843.8 780.46,845.3 780.45,846.8 780.44,848.3 780.42,849.8 780.41,851.3 780.40,852.8 780.39,854.4 780.39,855.9 780.38,857.4 780.38,858.9 780.37,860.4 780.37,861.9 780.37,863.4 780.37,864.9 780.37,866.4 780.38,867.9 780.38,869.4 780.39,870.9 780.40,872.4 780.41,874.0 780.43,875.5 780.44,877.0 780.46,878.5 780.48,880.0 780.50,881.5 780.53,883.0 780.55,884.5 780.58,886.0 780.61,887.4 780.64,888.9 780.67,890.4 780.70,891.9 780.73,893.4 780.77,894.9 780.81,896.4 780.84,897.9 780.88,899.4 780.92,900.9 780.97,902.4 781.01,903.9 781.05,905.4 781.10,906.9 781.14,908.4 781.19,909.9 781.24,911.3 781.29,912.8 781.33,914.3 781.38,915.8 781.44,917.3 781.49,918.8 781.54,920.3 781.59,921.8 781.64,923.3 781.70,924.8 781.75,926.2 781.81,927.7 781.86,929.2 781.92,930.7 781.97,932.2 782.03,933.7 782.08,935.2 782.14,936.7 782.19,938.2 782.25,939.6 782.31,941.1 782.36,942.6 782.42,944.1 782.47,945.6 782.53,947.1 782.58,948.6 782.64,950.1 782.69,951.5 782.75,953.0 782.80,954.5 782.85,956.0 782.91,957.5 782.96,959.0 783.01,960.5 783.06,962.0 783.11,963.5 783.16,964.9 783.21,966.4 783.26,967.9 783.31,969.4 783.35,970.9 783.40,972.4 783.44,973.9 783.49,975.4 783.53,976.9 783.57,978.4 783.61,979.9 783.65,981.3 783.69,982.8 783.73,984.3 783.76,985.8 783.79,987.3 783.83,988.8 783.86,990.3 783.89,991.8 783.92,993.3 783.94,994.8 783.97,996.3 783.99,997.8 784.01,999.3 784.03,1000.8 784.05,1002.3 784.06,1003.8 784.08,1005.3 784.09,1006.8 784.10,1008.3 784.11,1009.8 784.11,1011.3 784.12,1012.8 784.12,1014.3 784.12,1015.8 784.11,1017.3 784.11,1018.9 784.10,1020.4 784.09,1021.9 784.08,1023.4 784.06,1024.9 784.04,1026.4 784.02,1027.9 784.00,1029.4 783.98,1030.9 783.95,1032.5 783.92,1034.0 783.88,1035.5 783.85,1037.0 783.81,1038.5 783.77,1040.1"/>
<polyline stroke="#00b066" transform="scale(1.2,1)" points="784.39,1040.1 784.38,1038.6 784.37,1037.1 784.36,1035.6 784.35,1034.1 784.34,1032.6 784.33,1031.1 784.33,1029.6 784.32,1028.1 784.31,1026.6 784.31,1025.1 784.30,1023.6 784.29,1022.1 784.29,1020.5 784.28,1019.0 784.28,1017.5 784.27,1016.0 784.27,1014.5 784.27,1013.0 784.26,1011.5 784.26,1010.0 784.25,1008.5 784.25,1007.0 784.25,1005.5 784.25,1004.0 784.24,1002.5 784.24,1001.0 784.24,999.5 784.24,998.0 784.24,996.5 784.24,995.0 784.24,993.5 784.24,991.9 784.24,990.4 784.24,988.9 784.24,987.4 784.24,985.9 784.24,984.4 784.24,982.9 784.24,981.4 784.24,979.9 784.24,978.4 784.25,976.9 784.25,975.4 784.25,973.9 784.26,972.4 784.26,970.9 784.26,969.4 784.27,967.9 784.27,966.4 784.28,964.9 784.28,963.4 784.29,961.9 784.29,960.4 784.30,958.9 784.30,957.4 784.31,955.9 784.32,954.4 784.32,952.9 784.33,951.4 784.34,949.9 784.34,948.4 784.35,946.9 784.36,945.4 784.37,943.9 784.38,942.4 784.39,940.9 784.39,939.4 784.40,937.9 784.41,936.4 784.42,934.9 784.43,933.4 784.44,931.9 784.45,930.4 784.47,928.9 784.48,927.4 784.49,925.9 784.50,924.4 784.51,922.9 784.52,921.4 784.54,919.9 784.55,918.4 784.56,916.9 784.57,915.4 784.59,913.9 784.60,912.4 784.62,910.9 784.63,909.4 784.64,907.9 784.66,906.4 784.67,904.9 784.69,903.4 784.70,901.9 784.72,900.4 784.74,898.9 784.75,897.4 784.77,895.9 784.78,894.4 784.80,892.9 784.82,891.4 784.84,889.9 784.85,888.4 784.87,886.9 784.89,885.4 784.91,883.9 784.93,882.4 784.95,880.9 784.96,879.4 784.98,877.9 785.00,876.4 785.02,874.9 785.04,873.4 785.06,871.9 785.08,870.4 785.10,868.9 785.13,867.4 785.15,865.9 785.17,864.4 785.19,862.9 785.21,861.4 785.23,859.9 785.26,858.4 785.28,856.9 785.30,855.4 785.32,853.9 785.35,852.4 785.37,850.9 785.39,849.4 785.42,847.9 785.44,846.4 785.47,844.9 785.49,843.4 785.52,841.9 785.54,840.5 785.57,839.0 785.59,837.5 785.62,836.0 785.64,834.5 785.67,833.0 785.70,831.5 785.72,830.0 785.75,828.5 785.78,827.0 785.80,825.5 785.83,824.0 785.86,822.5 785.89,821.0 785.92,819.5 785.94,818.0 785.97,816.5 786.00,815.0 786.03,813.5 786.06,812.0 786.09,810.5 786.12,809.0 786.15,807.5 786.18,806.0 786.21,804.5 786.24,803.0 786.27,801.5 786.30,800.0 786.33,798.5 786.36,797.0 786.40,795.6 786.43,794.1 786.46,792.6 786.49,791.1 786.52,789.6 786.56,788.1 786.59,786.6 786.62,785.1 786.66,783.6 786.69,782.1 786.72,780.6 786.76,779.1 786.79,777.6 786.82,776.1 786.86,774.6 786.89,773.1 786.93,771.6 786.96,770.1 787.00,768.6 787.03,767.1 787.07,765.6 787.11,764.1 787.14,762.6 787.18,761.1 787.22,759.6 787.25,758.1 787.29,756.6 787.33,755.1 787.36,753.6 787.40,752.2 787.44,750.7 787.48,749.2 787.51,747.7 787.55,746.2 787.59,744.7 787.63,743.2 787.67,741.7 787.71,740.2 787.75,738.7 787.79,737.2 787.83,735.7 787.87,734.2 787.91,732.7 787.95,731.2 787.99,729.7 788.03,728.2 788.07,726.7 788.11,725.2 788.15,723.7 788.19,722.2 788.23,720.7 788.27,719.2 788.32,717.7 788.36,716.2 788.40,714.7 788.44,713.2 788.48,711.7 788.53,710.2 788.57,708.7 788.61,707.2 788.66,705.7 788.70,704.3 788.74,702.8 788.79,701.3 788.83,699.8 788.88,698.3 788.92,696.8 788.96,695.3 789.01,693.8 789.05,692.3 789.10,690.8 789.14,689.3 789.19,687.8 789.24,686.3 789.28,684.8 789.33,683.3 789.37,681.8 789.42,680.3 789.47,678.8 789.51,677.3 789.56,675.8 789.61,674.3 789.65,672.8 789.70,671.3 789.75,669.8 789.80,668.3 789.84,666.8 789.89,665.3 789.94,663.8 789.99,662.3 790.04,660.8 790.08,659.3 790.13,657.8 790.18,656.3 790.23,654.8 790.28,653.3 790.33,651.8 790.38,650.3 790.43,648.8 790.48,647.3 790.53,645.8 790.58,644.3 790.63,642.8 790.68,641.3 790.73,639.8 790.78,638.3 790.83,636.8 790.88,635.3 790.94,633.8 790.99,632.3 791.04,630.8 791.09,629.3 791.14,627.8 791.19,626.3 791.25,624.8 791.30,623.3 791.35,621.8 791.40,620.3 791.46,618.8 791.51,617.3 791.56,615.8 791.62,614.3 791.67,612.8 791.72,611.3 791.78,609.8 791.83,608.3 791.89,606.8 791.94,605.3 792.00,603.8 792.05,602.3 792.11,600.8 792.16,599.3 792.22,597.8 792.27,596.3 792.33,594.8 792.39,593.3 792.44,591.8 792.50,590.3 792.56,588.8 792.62,587.3 792.68,585.8 792.74,584.3 792.80,582.8 792.86,581.3 792.92,579.8 792.98,578.3 793.04,576.8 793.10,575.3 793.17,573.8 793.23,572.3 793.30,570.8 793.36,569.3 793.43,567.8 793.49,566.3 793.56,564.8 793.63,563.3 793.70,561.8 793.76,560.2 793.83,558.7 793.91,557.2 793.98,555.7 794.05,554.2 794.12,552.7 794.20,551.2 794.27,549.7 794.35,548.2 794.42,546.7 794.50,545.2 794.58,543.7 794.66,542.2 794.74,540.7 794.82,539.2 794.90,537.7 794.99,536.2 795.07,534.7 795.16,533.2 795.24,531.7 795.33,530.2 795.42,528.7 795.51,527.2 795.60,525.7 795.69,524.2 795.78,522.7 795.88,521.2 795.97,519.7 796.07,518.3 796.17,516.8 796.27,515.3 796.37,513.8 796.47,512.3 796.57,510.8 796.68,509.3 796.78,507.8 796.89,506.3 797.00,504.8 797.11,503.3 797.22,501.8 797.33,500.3 797.44,498.8 797.56,497.3 797.68,495.8 797.79,494.3 797.91,492.8 798.04,491.3 798.16,489.8 798.28,488.3 798.41,486.8 798.54,485.3 798.66,483.9 798.80,482.4 798.93,480.9 799.06,479.4 799.20,477.9 799.33,476.4 799.47,474.9 799.61,473.4 799.76,471.9 799.90,470.4 800.05,468.9 800.19,467.5 800.34,466.0 800.50,464.5 800.65,463.0 800.80,461.5 800.96,460.0 801.12,458.5 801.28,457.0 801.44,455.6 801.61,454.1 801.77,452.6 801.94,451.1 802.11,449.6 802.28,448.1 802.46,446.6 802.64,445.2 802.81,443.7 802.99,442.2 803.18,440.7 803.36,439.2 803.55,437.7 803.74,436.3 803.93,434.8 804.12,433.3 804.32,431.8 804.52,430.3 804.72,428.9 804.92,427.4 805.12,425.9 805.33,424.4 805.54,422.9 805.75,421.5 805.96,420.0 806.18,418.5 806.40,417.0 806.62,415.6 806.84,414.1 807.07,412.6 807.29,411.1 807.52,409.7 807.76,408.2 807.99,406.7 808.23,405.2 808.47,403.8 808.71,402.3 808.96,400.8 809.21,399.4 809.46,397.9 809.71,396.4 809.96,395.0 810.22,393.5 810.48,392.0 810.75,390.5 811.01,389.1 811.28,387.6 811.55,386.2 811.83,384.7 812.10,383.2 812.38,381.8 812.67,380.3 812.95,378.8 813.24,377.4 813.53,375.9 813.82,374.4 814.12,373.0 814.42,371.5 814.72,370.1 815.03,368.6 815.34,367.2 815.65,365.7 815.96,364.2 816.28,362.8 816.60,361.3 816.92,359.9 817.25,358.4 817.58,357.0 817.91,355.5 818.25,354.1 818.58,352.6 818.93,351.2 819.27,349.7 819.62,348.3 819.97,346.8 820.32,345.4 820.68,343.9 821.04,342.5 821.41,341.0 821.78,339.6 822.15,338.1 822.52,336.7 822.90,335.3 823.29,333.8 823.67,332.4 824.06,331.0 824.46,329.5 824.86,328.1 825.26,326.7 825.67,325.2 826.08,323.8 826.49,322.4 826.91,321.0 827.34,319.5 827.77,318.1 828.20,316.7 828.64,315.3 829.08,313.9 829.53,312.5 829.98,311.1 830.44,309.7 830.90,308.3 831.37,306.9 831.84,305.5 832.32,304.1 832.80,302.7 833.29,301.4 833.78,300.0 834.28,298.6 834.79,297.2 835.30,295.9 835.81,294.5 836.33,293.2 836.86,291.8 837.39,290.5 837.93,289.1 838.48,287.8 839.03,286.4 839.58,285.1 840.14,283.8 840.71,282.4 841.29,281.1 841.87,279.8 842.45,278.5 843.05,277.2 843.65,275.9 844.26,274.6 844.87,273.3 845.49,272.0 846.11,270.8 846.75,269.5 847.39,268.2 848.04,266.9 848.69,265.7 849.35,264.4 850.02,263.2 850.69,262.0 851.38,260.7 852.07,259.5 852.76,258.3 853.47,257.1 854.18,255.8 854.90,254.6 855.63,253.5 856.36,252.3 857.11,251.1 857.86,249.9 858.61,248.7 859.38,247.6 860.15,246.4 860.93,245.3 861.71,244.1 862.51,243.0 863.31,241.9 864.11,240.7 864.93,239.6 865.75,238.5 866.58,237.4 867.41,236.3 868.25,235.2 869.10,234.1 869.95,233.0 870.81,232.0 871.67,230.9 872.55,229.9 873.42,228.8 874.31,227.8 875.20,226.7 876.09,225.7 876.99,224.7 877.90,223.7 878.82,222.7 879.73,221.7 880.66,220.7 881.59,219.7 882.52,218.7 883.46,217.7 884.41,216.8 885.36,215.8 886.32,214.8 887.28,213.9 888.24,213.0 889.21,212.0 890.19,211.1 891.17,210.2 892.15,209.3 893.14,208.4 894.14,207.5 895.14,206.6 896.14,205.7 897.15,204.8 898.16,204.0 899.17,203.1 900.19,202.2 901.22,201.4 902.25,200.6 903.28,199.7 904.32,198.9 905.36,198.1 906.40,197.3 907.45,196.5 908.50,195.7 909.56,194.9 910.62,194.1 911.68,193.3 912.74,192.5 913.81,191.8 914.89,191.0 915.96,190.2 917.04,189.5 918.13,188.7 919.21,188.0 920.30,187.3 921.39,186.5 922.49,185.8 923.59,185.1 924.69,184.4 925.79,183.7 926.90,183.0 928.01,182.3 929.12,181.6 930.24,180.9 931.36,180.2 932.48,179.5 933.60,178.8 934.72,178.2 935.85,177.5 936.98,176.9 938.11,176.2 939.25,175.6 940.39,174.9 941.52,174.3 942.66,173.6 943.81,173.0 944.95,172.4 946.10,171.7 947.25,171.1 948.40,170.5 949.55,169.9 950.70,169.3 951.86,168.7 953.01,168.1 954.17,167.5 955.33,166.9 956.49,166.3 957.66,165.7 958.82,165.1 959.99,164.5 961.15,164.0 962.32,163.4 963.49,162.8 964.66,162.3 965.83,161.7 967.00,161.1 968.17,160.6 969.34,160.0 970.52,159.5 971.69,158.9 972.87,158.4 974.04,157.8 975.22,157.3 976.39,156.7 977.57,156.2 978.75,155.7 979.92,155.1 981.10,154.6 982.28,154.1 983.46,153.5 984.64,153.0 985.82,152.5 987.00,152.0 988.18,151.4 989.36,150.9 990.54,150.4 991.72,149.9 992.91,149.4 994.09,148.9 995.27,148.4 996.45,147.9 997.64,147.4 998.82,146.9 1000.01,146.4 1001.19,145.9 1002.38,145.4 1003.56,144.9 1004.75,144.4 1005.94,143.9 1007.12,143.4 1008.31,143.0 1009.50,142.5 1010.69,142.0 1011.87,141.5 1013.06,141.0 1014.25,140.6 1015.44,140.1 1016.63,139.6 1017.82,139.2 1019.01,138.7 1020.20,138.2 1021.39,137.8 1022.58,137.3 1023.78,136.9 1024.97,136.4 1026.16,136.0 1027.35,135.5 1028.55,135.1 1029.74,134.6 1030.94,134.2 1032.13,133.7 1033.33,133.3 1034.52,132.8 1035.72,132.4 1036.91,132.0 1038.11,131.5 1039.30,131.1 1040.50,130.7 1041.70,130.2 1042.90,129.8 1044.09,129.4 1045.29,129.0 1046.49,128.6 1047.69,128.1 1048.89,127.7 1050.09,127.3 1051.29,126.9 1052.49,126.5 1053.69,126.1 1054.89,125.7 1056.09,125.2 1057.29,124.8 1058.49,124.4 1059.70,124.0 1060.90,123.6 1062.10,123.2 1063.30,122.8 1064.51,122.4 1065.71,122.0 1066.92,121.7 1068.12,121.3 1069.32,120.9 1070.53,120.5 1071.73,120.1 1072.94,119.7 1074.15,119.3 1075.35,119.0 1076.56,118.6 1077.77,118.2 1078.97,117.8 1080.18,117.4 1081.39,117.1 1082.59,116.7 1083.80,116.3 1085.01,116.0 1086.22,115.6 1087.43,115.2 1088.64,114.9 1089.85,114.5 1091.06,114.1 1092.27,113.8 1093.48,113.4 1094.69,113.0 1095.90,112.7 1097.11,112.3 1098.32,112.0 1099.53,111.6 1100.75,111.3 1101.96,110.9 1103.17,110.6 1104.38,110.2 1105.60,109.9 1106.81,109.5 1108.02,109.2 1109.24,108.9 1110.45,108.5 1111.67,108.2 1112.88,107.8 1114.10,107.5 1115.31,107.2 1116.53,106.8 1117.74,106.5 1118.96,106.2 1120.17,105.8 1121.39,105.5 1122.61,105.2 1123.82,104.8 1125.04,104.5 1126.26,104.2 1127.48,103.9 1128.69,103.5 1129.91,103.2 1131.13,102.9 1132.35,102.6 1133.57,102.3 1134.79,102.0 1136.01,101.6 1137.23,101.3 1138.45,101.0 1139.67,100.7 1140.89,100.4 1142.11,100.1 1143.33,99.8 1144.55,99.4 1145.77,99.1 1146.99,98.8 1148.21,98.5 1149.43,98.2 1150.65,97.9 1151.88,97.6 1153.10,97.3 1154.32,97.0 1155.54,96.7 1156.77,96.4 1157.99,96.1 1159.21,95.8 1160.44,95.5 1161.66,95.2 1162.88,94.9 1164.11,94.6 1165.33,94.3 1166.56,94.1 1167.78,93.8 1169.00,93.5 1170.23,93.2 1171.45,92.9 1172.68,92.6 1173.91,92.3 1175.13,92.0 1176.36,91.7 1177.58,91.5 1178.81,91.2 1180.04,90.9 1181.26,90.6 1182.49,90.3 1183.72,90.0 1184.94,89.8 1186.17,89.5 1187.40,89.2 1188.63,88.9 1189.85,88.6 1191.08,88.4 1192.31,88.1 1193.54,87.8 1194.77,87.5 1195.99,87.3 1197.22,87.0 1198.45,86.7 1199.68,86.4 1200.91,86.2 1202.14,85.9 1203.37,85.6 1204.60,85.4 1205.83,85.1 1207.06,84.8 1208.29,84.6 1209.52,84.3 1210.75,84.0 1211.98,83.8 1213.21,83.5 1214.44,83.2 1215.67,83.0 1216.90,82.7 1218.13,82.4 1219.36,82.2 1220.59,81.9 1221.83,81.6 1223.06,81.4 1224.29,81.1 1225.52,80.8 1226.75,80.6 1227.99,80.3 1229.22,80.1 1230.45,79.8 1231.68,79.5 1232.91,79.3 1234.15,79.0 1235.38,78.8 1236.61,78.5 1237.85,78.2 1239.08,78.0 1240.31,77.7 1241.55,77.5 1242.78,77.2 1244.01,76.9 1245.25,76.7 1246.48,76.4 1247.71,76.2 1248.95,75.9 1250.18,75.7 1251.42,75.4 1252.65,75.2 1253.88,74.9 1255.12,74.6 1256.35,74.4 1257.59,74.1 1258.82,73.9 1260.06,73.6 1261.29,73.4 1262.53,73.1 1263.76,72.9 1265.00,72.6 1266.23,72.4 1267.47,72.1 1268.70,71.8 1269.94,71.6 1271.17,71.3 1272.41,71.1 1273.64,70.8 1274.88,70.6 1276.11,70.3 1277.35,70.1 1278.58,69.8 1279.82,69.6 1281.06,69.3 1282.29,69.1 1283.53,68.8 1284.76,68.5 1286.00,68.3 1287.24,68.0 1288.47,67.8 1289.71,67.5 1290.94,67.3 1292.18,67.0 1293.42,66.8"/>
<polyline stroke="#c078e0" transform="scale(1.2,1)" points="274.41,615.5 275.65,615.7 276.90,615.9 278.14,616.0 279.38,616.2 280.62,616.4 281.86,616.5 283.11,616.7 284.35,616.9 285.59,617.0 286.83,617.2 288.07,617.4 289.31,617.5 290.55,617.7 291.80,617.9 293.04,618.0 294.28,618.2 295.52,618.4 296.76,618.6 298.00,618.7 299.24,618.9 300.48,619.1 301.73,619.2 302.97,619.4 304.21,619.6 305.45,619.7 306.69,619.9 307.93,620.1 309.17,620.3 310.41,620.4 311.65,620.6 312.89,620.8 314.13,620.9 315.37,621.1 316.61,621.3 317.85,621.5 319.09,621.6 320.33,621.8 321.57,622.0 322.81,622.1 324.05,622.3 325.29,622.5 326.53,622.7 327.77,622.8 329.01,623.0 330.25,623.2 331.49,623.4 332.73,623.5 333.97,623.7 335.21,623.9 336.45,624.1 337.69,624.2 338.93,624.4 340.17,624.6 341.41,624.8 342.65,624.9 343.89,625.1 345.13,625.3 346.37,625.5 347.61,625.6 348.85,625.8 350.09,626.0 351.33,626.2 352.57,626.4 353.81,626.5 355.04,626.7 356.28,626.9 357.52,627.1 358.76,627.3 360.00,627.4 361.24,627.6 362.48,627.8 363.72,628.0 364.96,628.2 366.19,628.3 367.43,628.5 368.67,628.7 369.91,628.9 371.15,629.1 372.39,629.2 373.63,629.4 374.86,629.6 376.10,629.8 377.34,630.0 378.58,630.2 379.82,630.3 381.06,630.5 382.29,630.7 383.53,630.9 384.77,631.1 386.01,631.3 387.25,631.5 388.49,631.6 389.72,631.8 390.96,632.0 392.20,632.2 393.44,632.4 394.68,632.6 395.91,632.8 397.15,632.9 398.39,633.1 399.63,633.3 400.86,633.5 402.10,633.7 403.34,633.9 404.58,634.1 405.82,634.3 407.05,634.4 408.29,634.6 409.53,634.8 410.77,635.0 412.00,635.2 413.24,635.4 414.48,635.6 415.71,635.8 416.95,636.0 418.19,636.2 419.43,636.4 420.66,636.5 421.90,636.7 423.14,636.9 424.38,637.1 425.61,637.3 426.85,637.5 428.09,637.7 429.32,637.9 430.56,638.1 431.80,638.3 433.03,638.5 434.27,638.7 435.51,638.9 436.75,639.1 437.98,639.3 439.22,639.5 440.46,639.7 441.69,639.9 442.93,640.1 444.17,640.3 445.40,640.5 446.64,640.6 447.88,640.8 449.11,641.0 450.35,641.2 451.58,641.4 452.82,641.6 454.06,641.8 455.29,642.0 456.53,642.2 457.77,642.4 459.00,642.6 460.24,642.8 461.48,643.1 462.71,643.3 463.95,643.5 465.18,643.7 466.42,643.9 467.66,644.1 468.89,644.3 470.13,644.5 471.37,644.7 472.60,644.9 473.84,645.1 475.07,645.3 476.31,645.5 477.55,645.7 478.78,645.9 480.02,646.1 481.25,646.3 482.49,646.5 483.72,646.7 484.96,646.9 486.20,647.1 487.43,647.4 488.67,647.6 489.90,647.8 491.14,648.0 492.38,648.2 493.61,648.4 494.85,648.6 496.08,648.8 497.32,649.0 498.55,649.2 499.79,649.5 501.02,649.7 502.26,649.9 503.50,650.1 504.73,650.3 505.97,650.5 507.20,650.7 508.44,650.9 509.67,651.2 510.91,651.4 512.14,651.6 513.38,651.8 514.61,652.0 515.85,652.2 517.08,652.4 518.32,652.7 519.56,652.9 520.79,653.1 522.03,653.3 523.26,653.5 524.50,653.8 525.73,654.0 526.97,654.2 528.20,654.4 529.44,654.6 530.67,654.8 531.91,655.1 533.14,655.3 534.38,655.5 535.61,655.7 536.85,655.9 538.08,656.2 539.32,656.4 540.55,656.6 541.79,656.8 543.02,657.1 544.26,657.3 545.49,657.5 546.73,657.7 547.96,658.0 549.20,658.2 550.43,658.4 551.67,658.6 552.90,658.9 554.14,659.1 555.37,659.3 556.61,659.5 557.84,659.8 559.08,660.0 560.31,660.2 561.54,660.5 562.78,660.7 564.01,660.9 565.25,661.1 566.48,661.4 567.72,661.6 568.95,661.8 570.19,662.1 571.42,662.3 572.66,662.5 573.89,662.8 575.13,663.0 576.36,663.2 577.60,663.5 578.83,663.7 580.06,663.9 581.30,664.2 582.53,664.4 583.77,664.6 585.00,664.9 586.24,665.1 587.47,665.3 588.71,665.6 589.94,665.8 591.17,666.0 592.41,666.3 593.64,666.5 594.88,666.8 596.11,667.0 597.34,667.2 598.58,667.5 599.81,667.7 601.04,668.0 602.28,668.2 603.51,668.5 604.74,668.7 605.97,669.0 607.21,669.2 608.44,669.4 609.67,669.7 610.90,669.9 612.13,670.2 613.37,670.4 614.60,670.7 615.83,670.9 617.06,671.2 618.29,671.5 619.52,671.7 620.75,672.0 621.98,672.2 623.21,672.5 624.44,672.7 625.67,673.0 626.89,673.2 628.12,673.5 629.35,673.8 630.58,674.0 631.80,674.3 633.03,674.6 634.26,674.8 635.48,675.1 636.71,675.4 637.93,675.6 639.16,675.9 640.38,676.2 641.61,676.5 642.83,676.7 644.05,677.0 645.28,677.3 646.50,677.6 647.72,677.8 648.94,678.1 650.16,678.4 651.38,678.7 652.60,679.0 653.82,679.2 655.04,679.5 656.26,679.8 657.48,680.1 658.69,680.4 659.91,680.7 661.13,681.0 662.34,681.3 663.56,681.6 664.77,681.9 665.99,682.2 667.20,682.5 668.42,682.8 669.63,683.1 670.84,683.4 672.06,683.7 673.27,684.0 674.49,684.3 675.70,684.6 676.91,684.9 678.13,685.2 679.34,685.5 680.56,685.8 681.78,686.1 682.99,686.5 684.21,686.8 685.43,687.1 686.64,687.4 687.86,687.7 689.08,688.0 690.30,688.3 691.52,688.6 692.74,688.9 693.97,689.2 695.19,689.6 696.42,689.9 697.64,690.2 698.87,690.5 700.10,690.8 701.33,691.1 702.56,691.4 703.79,691.7 705.02,692.0 706.26,692.3 707.49,692.7 708.73,693.0 709.96,693.3 711.20,693.6 712.43,693.9 713.66,694.3 714.90,694.6 716.13,694.9 717.36,695.3 718.59,695.6 719.82,696.0 721.05,696.3 722.28,696.7 723.50,697.1 724.73,697.5 725.95,697.9 727.17,698.3 728.39,698.7 729.61,699.1 730.82,699.5 732.03,700.0 733.24,700.4 734.44,700.9 735.64,701.4 736.84,701.9 738.04,702.4 739.23,702.9 740.42,703.4 741.60,703.9 742.78,704.5 743.96,705.1 745.13,705.7 746.30,706.3 747.46,706.9 748.61,707.5 749.76,708.2 750.90,708.9 752.03,709.5 753.14,710.3 754.24,711.0 755.33,711.7 756.39,712.5 757.44,713.3 758.47,714.1 759.47,715.0 760.45,715.9 761.40,716.8 762.33,717.7 763.23,718.6 764.09,719.6 764.92,720.6 765.72,721.7 766.49,722.7 767.21,723.8 767.90,725.0 768.55,726.1 769.16,727.3 769.73,728.5 770.27,729.8 770.77,731.1 771.24,732.4 771.68,733.7 772.09,735.0 772.48,736.4 772.84,737.8 773.18,739.2 773.49,740.6 773.78,742.0 774.06,743.5 774.32,744.9 774.56,746.4 774.78,747.9 775.00,749.3 775.20,750.8 775.39,752.3 775.58,753.8 775.76,755.3 775.93,756.8 776.10,758.3 776.27,759.8 776.43,761.3 776.58,762.8 776.73,764.3 776.87,765.8 777.01,767.3 777.15,768.8 777.28,770.3 777.41,771.8 777.53,773.2 777.64,774.7 777.76,776.2 777.87,777.7 777.97,779.2 778.07,780.7 778.17,782.2 778.26,783.7 778.35,785.2 778.44,786.7 778.52,788.2 778.60,789.7 778.67,791.2 778.74,792.7 778.81,794.2 778.87,795.7 778.93,797.3 778.99,798.8 779.05,800.3 779.10,801.8 779.15,803.3 779.20,804.8 779.24,806.3 779.28,807.8 779.32,809.3 779.36,810.8 779.39,812.3 779.42,813.8 779.45,815.3 779.48,816.8 779.50,818.3 779.52,819.8 779.54,821.3 779.56,822.8 779.58,824.3 779.59,825.8 779.61,827.3 779.62,828.8 779.63,830.3 779.64,831.8 779.65,833.3 779.65,834.8 779.66,836.3 779.66,837.8 779.67,839.3 779.67,840.8 779.67,842.4 779.67,843.9 779.67,845.4 779.67,846.9 779.66,848.4 779.66,849.9 779.66,851.4 779.66,852.9 779.65,854.4 779.65,855.9 779.64,857.4 779.64,858.9 779.64,860.4 779.63,861.9 779.63,863.4 779.62,864.9 779.62,866.4 779.62,867.9 779.62,869.4 779.61,870.9 779.61,872.4 779.61,873.9 779.61,875.4 779.61,876.9 779.62,878.4 779.62,879.9 779.62,881.4 779.63,882.9 779.63,884.4 779.64,885.9 779.65,887.4 779.66,888.9 779.67,890.4 779.69,891.9 779.70,893.4 779.72,894.9 779.74,896.4 779.76,897.9 779.78,899.4 779.81,900.9 779.83,902.4 779.86,903.9 779.89,905.4 779.93,906.9 779.96,908.4 780.00,909.9 780.04,911.4 780.08,912.9 780.12,914.4 780.16,915.9 780.21,917.4 780.25,918.9 780.30,920.4 780.35,921.8 780.40,923.3 780.45,924.8 780.50,926.3 780.56,927.8 780.61,929.3 780.67,930.8 780.72,932.3 780.78,933.8 780.84,935.3 780.90,936.8 780.96,938.3 781.02,939.8 781.08,941.3 781.14,942.7 781.21,944.2 781.27,945.7 781.33,947.2 781.40,948.7 781.46,950.2 781.53,951.7 781.59,953.2 781.66,954.7 781.72,956.2 781.79,957.7 781.85,959.2 781.92,960.6 781.98,962.1 782.05,963.6 782.11,965.1 782.17,966.6 782.24,968.1 782.30,969.6 782.37,971.1 782.43,972.6 782.49,974.1 782.55,975.6 782.61,977.1 782.67,978.6 782.73,980.0 782.79,981.5 782.85,983.0 782.91,984.5 782.96,986.0 783.02,987.5 783.07,989.0 783.12,990.5 783.17,992.0 783.22,993.5 783.27,995.0 783.32,996.5 783.37,998.0 783.41,999.5 783.45,1001.0 783.49,1002.5 783.53,1004.0 783.57,1005.5 783.61,1007.0 783.64,1008.5 783.67,1010.0 783.71,1011.5 783.73,1013.0 783.76,1014.5 783.79,1016.0 783.81,1017.5 783.83,1019.0 783.85,1020.5 783.86,1022.0 783.88,1023.5 783.89,1025.0 783.90,1026.5 783.90,1028.0 783.91,1029.5 783.91,1031.0 783.90,1032.5 783.90,1034.0 783.89,1035.5 783.88,1037.0 783.87,1038.5 783.85,1040.0 783.83,1041.5 783.81,1043.0 783.79,1044.5 783.76,1046.0"/>
<polyline stroke="#c078e0" transform="scale(1.2,1)" points="783.68,1046.1 783.73,1044.6 783.77,1043.1 783.82,1041.6 783.86,1040.1 783.91,1038.6 783.95,1037.1 783.99,1035.6 784.04,1034.1 784.08,1032.6 784.12,1031.1 784.16,1029.6 784.20,1028.1 784.24,1026.6 784.28,1025.1 784.32,1023.6 784.36,1022.1 784.40,1020.5 784.43,1019.0 784.47,1017.5 784.51,1016.0 784.54,1014.5 784.58,1013.0 784.61,1011.5 784.65,1010.0 784.68,1008.5 784.71,1007.0 784.75,1005.5 784.78,1004.0 784.81,1002.5 784.84,1001.0 784.88,999.5 784.91,998.0 784.94,996.5 784.97,995.0 785.00,993.5 785.03,992.0 785.05,990.5 785.08,989.0 785.11,987.5 785.14,986.0 785.17,984.5 785.19,983.0 785.22,981.5 785.25,980.0 785.27,978.5 785.30,977.0 785.32,975.5 785.35,974.0 785.37,972.5 785.39,971.0 785.42,969.5 785.44,968.0 785.46,966.5 785.49,965.0 785.51,963.5 785.53,962.0 785.55,960.5 785.57,959.0 785.60,957.5 785.62,956.0 785.64,954.5 785.66,953.0 785.68,951.5 785.70,950.0 785.72,948.5 785.74,947.0 785.75,945.5 785.77,944.0 785.79,942.5 785.81,941.0 785.83,939.5 785.85,938.0 785.86,936.5 785.88,935.0 785.90,933.5 785.91,932.0 785.93,930.5 785.95,929.0 785.96,927.5 785.98,926.0 785.99,924.5 786.01,923.0 786.03,921.5 786.04,920.0 786.06,918.5 786.07,917.0 786.09,915.5 786.10,914.0 786.12,912.5 786.13,911.0 786.14,909.5 786.16,908.0 786.17,906.5 786.19,905.0 786.20,903.5 786.21,902.0 786.23,900.5 786.24,899.0 786.25,897.5 786.27,896.0 786.28,894.5 786.29,893.0 786.30,891.5 786.32,890.0 786.33,888.5 786.34,887.0 786.36,885.5 786.37,884.0 786.38,882.5 786.39,881.0 786.41,879.5 786.42,878.0 786.43,876.5 786.44,875.0 786.46,873.5 786.47,872.0 786.48,870.5 786.49,869.0 786.50,867.5 786.52,866.0 786.53,864.5 786.54,863.0 786.55,861.5 786.57,860.0 786.58,858.5 786.59,857.0 786.60,855.5 786.62,854.0 786.63,852.5 786.64,851.0 786.65,849.5 786.67,848.0 786.68,846.5 786.69,845.0 786.71,843.5 786.72,842.0 786.73,840.5 786.74,839.0 786.76,837.5 786.77,836.0 786.79,834.6 786.80,833.1 786.81,831.6 786.83,830.1 786.84,828.6 786.85,827.1 786.87,825.6 786.88,824.1 786.90,822.6 786.91,821.1 786.93,819.6 786.94,818.1 786.96,816.6 786.97,815.1 786.99,813.6 787.00,812.1 787.02,810.6 787.04,809.1 787.05,807.6 787.07,806.1 787.09,804.6 787.10,803.1 787.12,801.6 787.14,800.1 787.16,798.6 787.17,797.1 787.19,795.6 787.21,794.1 787.23,792.6 787.25,791.1 787.27,789.6 787.29,788.1 787.31,786.6 787.33,785.1 787.35,783.6 787.37,782.1 787.39,780.6 787.41,779.1 787.43,777.6 787.45,776.1 787.47,774.7 787.50,773.2 787.52,771.7 787.54,770.2 787.56,768.7 787.59,767.2 787.61,765.7 787.64,764.2 787.66,762.7 787.69,761.2 787.71,759.7 787.74,758.2 787.76,756.7 787.79,755.2 787.82,753.7 787.84,752.2 787.87,750.7 787.90,749.2 787.93,747.7 787.96,746.2 787.99,744.7 788.01,743.2 788.04,741.7 788.08,740.2 788.11,738.7 788.14,737.2 788.17,735.7 788.20,734.2 788.23,732.7 788.27,731.3 788.30,729.8 788.33,728.3 788.37,726.8 788.40,725.3 788.44,723.8 788.47,722.3 788.51,720.8 788.55,719.3 788.59,717.8 788.62,716.3 788.66,714.8 788.70,713.3 788.74,711.8 788.78,710.3 788.82,708.8 788.86,707.3 788.90,705.8 788.94,704.3 788.99,702.8 789.03,701.3 789.07,699.8 789.12,698.3 789.16,696.8 789.21,695.4 789.25,693.9 789.30,692.4 789.35,690.9 789.40,689.4 789.44,687.9 789.49,686.4 789.54,684.9 789.59,683.4 789.64,681.9 789.69,680.4 789.75,678.9 789.80,677.4 789.85,675.9 789.91,674.4 789.96,672.9 790.02,671.4 790.07,669.9 790.13,668.4 790.18,666.9 790.24,665.4 790.30,663.9 790.36,662.5 790.42,661.0 790.48,659.5 790.54,658.0 790.60,656.5 790.67,655.0 790.73,653.5 790.79,652.0 790.86,650.5 790.92,649.0 790.99,647.5 791.06,646.0 791.12,644.5 791.19,643.0 791.26,641.5 791.33,640.0 791.40,638.5 791.47,637.0 791.55,635.5 791.62,634.1 791.69,632.6 791.77,631.1 791.84,629.6 791.92,628.1 792.00,626.6 792.07,625.1 792.15,623.6 792.23,622.1 792.31,620.6 792.39,619.1 792.48,617.6 792.56,616.1 792.64,614.6 792.73,613.1 792.81,611.6 792.90,610.1 792.98,608.6 793.07,607.2 793.16,605.7 793.25,604.2 793.34,602.7 793.43,601.2 793.52,599.7 793.62,598.2 793.71,596.7 793.81,595.2 793.90,593.7 794.00,592.2 794.10,590.7 794.19,589.2 794.29,587.7 794.39,586.2 794.50,584.7 794.60,583.2 794.70,581.8 794.81,580.3 794.91,578.8 795.02,577.3 795.12,575.8 795.23,574.3 795.34,572.8 795.45,571.3 795.56,569.8 795.67,568.3 795.79,566.8 795.90,565.3 796.02,563.8 796.13,562.3 796.25,560.8 796.37,559.3 796.49,557.9 796.61,556.4 796.73,554.9 796.85,553.4 796.97,551.9 797.10,550.4 797.22,548.9 797.35,547.4 797.48,545.9 797.60,544.4 797.73,542.9 797.87,541.4 798.00,539.9 798.13,538.4 798.27,536.9 798.40,535.5 798.54,534.0 798.68,532.5 798.82,531.0 798.96,529.5 799.10,528.0 799.25,526.5 799.39,525.0 799.54,523.5 799.69,522.0 799.84,520.5 799.99,519.0 800.14,517.5 800.30,516.1 800.45,514.6 800.61,513.1 800.77,511.6 800.93,510.1 801.10,508.6 801.26,507.1 801.43,505.6 801.60,504.1 801.77,502.7 801.94,501.2 802.12,499.7 802.30,498.2 802.47,496.7 802.65,495.2 802.84,493.7 803.02,492.2 803.21,490.8 803.40,489.3 803.59,487.8 803.78,486.3 803.98,484.8 804.18,483.3 804.37,481.9 804.58,480.4 804.78,478.9 804.99,477.4 805.20,475.9 805.41,474.4 805.62,473.0 805.84,471.5 806.06,470.0 806.28,468.5 806.50,467.0 806.73,465.6 806.96,464.1 807.19,462.6 807.42,461.1 807.66,459.7 807.90,458.2 808.14,456.7 808.39,455.2 808.63,453.8 808.88,452.3 809.14,450.8 809.39,449.3 809.65,447.9 809.91,446.4 810.18,444.9 810.45,443.5 810.72,442.0 810.99,440.5 811.27,439.1 811.55,437.6 811.83,436.1 812.11,434.7 812.40,433.2 812.69,431.7 812.99,430.3 813.29,428.8 813.59,427.4 813.89,425.9 814.20,424.4 814.51,423.0 814.83,421.5 815.15,420.1 815.47,418.6 815.79,417.2 816.12,415.7 816.45,414.2 816.79,412.8 817.13,411.3 817.47,409.9 817.81,408.4 818.16,407.0 818.52,405.5 818.87,404.1 819.23,402.6 819.60,401.2 819.97,399.8 820.34,398.3 820.71,396.9 821.09,395.4 821.47,394.0 821.86,392.6 822.25,391.1 822.64,389.7 823.04,388.3 823.44,386.8 823.85,385.4 824.26,384.0 824.67,382.5 825.09,381.1 825.51,379.7 825.94,378.3 826.37,376.8 826.80,375.4 827.24,374.0 827.68,372.6 828.12,371.2 828.57,369.8 829.02,368.4 829.48,367.0 829.94,365.5 830.41,364.1 830.88,362.7 831.35,361.3 831.83,360.0 832.31,358.6 832.80,357.2 833.29,355.8 833.78,354.4 834.28,353.0 834.79,351.6 835.29,350.3 835.81,348.9 836.32,347.5 836.84,346.1 837.37,344.8 837.90,343.4 838.43,342.1 838.97,340.7 839.51,339.3 840.06,338.0 840.61,336.7 841.17,335.3 841.73,334.0 842.29,332.6 842.86,331.3 843.43,330.0 844.01,328.6 844.59,327.3 845.18,326.0 845.77,324.7 846.37,323.4 846.97,322.1 847.58,320.8 848.19,319.5 848.80,318.2 849.42,316.9 850.05,315.6 850.68,314.3 851.31,313.0 851.95,311.7 852.59,310.5 853.24,309.2 853.90,307.9 854.55,306.7 855.22,305.4 855.89,304.2 856.56,302.9 857.24,301.7 857.92,300.4 858.61,299.2 859.30,298.0 860.00,296.7 860.70,295.5 861.41,294.3 862.12,293.1 862.84,291.9 863.56,290.7 864.29,289.5 865.02,288.3 865.76,287.1 866.50,285.9 867.25,284.8 868.00,283.6 868.76,282.4 869.52,281.3 870.29,280.1 871.06,279.0 871.84,277.8 872.63,276.7 873.42,275.5 874.21,274.4 875.01,273.3 875.82,272.2 876.63,271.1 877.44,270.0 878.27,268.9 879.09,267.8 879.92,266.7 880.76,265.6 881.61,264.5 882.45,263.5 883.31,262.4 884.17,261.3 885.03,260.3 885.90,259.2 886.78,258.2 887.66,257.2 888.55,256.1 889.44,255.1 890.34,254.1 891.24,253.1 892.15,252.1 893.06,251.1 893.98,250.1 894.90,249.1 895.83,248.1 896.76,247.2 897.70,246.2 898.64,245.2 899.59,244.3 900.54,243.3 901.49,242.4 902.45,241.5 903.42,240.5 904.39,239.6 905.36,238.7 906.34,237.8 907.32,236.8 908.31,235.9 909.30,235.0 910.29,234.1 911.29,233.2 912.29,232.4 913.30,231.5 914.31,230.6 915.32,229.7 916.34,228.9 917.36,228.0 918.38,227.2 919.41,226.3 920.44,225.5 921.48,224.6 922.51,223.8 923.56,223.0 924.60,222.1 925.65,221.3 926.70,220.5 927.75,219.7 928.81,218.9 929.87,218.1 930.93,217.3 932.00,216.5 933.07,215.7 934.14,214.9 935.21,214.1 936.29,213.3 937.37,212.6 938.45,211.8 939.54,211.0 940.62,210.3 941.71,209.5 942.80,208.8 943.90,208.0 944.99,207.3 946.09,206.5 947.19,205.8 948.29,205.1 949.40,204.4 950.50,203.6 951.61,202.9 952.72,202.2 953.83,201.5 954.94,200.8 956.05,200.1 957.17,199.4 958.29,198.7 959.41,198.0 960.53,197.3 961.65,196.6 962.77,195.9 963.89,195.3 965.02,194.6 966.14,193.9 967.27,193.2 968.40,192.6 969.53,191.9 970.66,191.3 971.79,190.6 972.92,189.9 974.05,189.3 975.19,188.7 976.32,188.0 977.46,187.4 978.59,186.7 979.73,186.1 980.87,185.5 982.01,184.8 983.15,184.2 984.29,183.6 985.43,183.0 986.58,182.4 987.72,181.8 988.87,181.2 990.01,180.5 991.16,179.9 992.31,179.3 993.46,178.8 994.61,178.2 995.76,177.6 996.91,177.0 998.06,176.4 999.21,175.8 1000.37,175.2 1001.52,174.7 1002.68,174.1 1003.84,173.5 1004.99,173.0 1006.15,172.4 1007.31,171.8 1008.47,171.3 1009.63,170.7 1010.80,170.2 1011.96,169.6 1013.12,169.1 1014.29,168.5 1015.45,168.0 1016.62,167.5 1017.78,166.9 1018.95,166.4 1020.12,165.9 1021.29,165.3 1022.46,164.8 1023.63,164.3 1024.80,163.8 1025.97,163.3 1027.15,162.7 1028.32,162.2 1029.49,161.7 1030.67,161.2 1031.84,160.7 1033.02,160.2 1034.20,159.7 1035.38,159.2 1036.56,158.7 1037.73,158.2 1038.91,157.7 1040.10,157.3 1041.28,156.8 1042.46,156.3 1043.64,155.8 1044.83,155.3 1046.01,154.9 1047.20,154.4 1048.38,153.9 1049.57,153.5 1050.75,153.0 1051.94,152.5 1053.13,152.1 1054.32,151.6 1055.51,151.2 1056.70,150.7 1057.89,150.3 1059.08,149.8 1060.27,149.4 1061.46,148.9 1062.66,148.5 1063.85,148.0 1065.05,147.6 1066.24,147.2 1067.44,146.7 1068.63,146.3 1069.83,145.9 1071.03,145.4 1072.22,145.0 1073.42,144.6 1074.62,144.2 1075.82,143.8 1077.02,143.3 1078.22,142.9 1079.42,142.5 1080.62,142.1 1081.83,141.7 1083.03,141.3 1084.23,140.9 1085.43,140.5 1086.64,140.1 1087.84,139.7 1089.05,139.3 1090.25,138.9 1091.46,138.5 1092.67,138.1 1093.87,137.7 1095.08,137.3 1096.29,136.9 1097.50,136.6 1098.71,136.2 1099.92,135.8 1101.12,135.4 1102.33,135.0 1103.55,134.7 1104.76,134.3 1105.97,133.9 1107.18,133.5 1108.39,133.2 1109.60,132.8 1110.82,132.4 1112.03,132.1 1113.24,131.7 1114.46,131.3 1115.67,131.0 1116.89,130.6 1118.10,130.3 1119.32,129.9 1120.53,129.6 1121.75,129.2 1122.97,128.9 1124.18,128.5 1125.40,128.2 1126.62,127.8 1127.84,127.5 1129.05,127.1 1130.27,126.8 1131.49,126.5 1132.71,126.1 1133.93,125.8 1135.15,125.4 1136.37,125.1 1137.59,124.8 1138.81,124.4 1140.03,124.1 1141.25,123.8 1142.47,123.4 1143.70,123.1 1144.92,122.8 1146.14,122.5 1147.36,122.1 1148.58,121.8 1149.81,121.5 1151.03,121.2 1152.25,120.9 1153.48,120.5 1154.70,120.2 1155.92,119.9 1157.15,119.6 1158.37,119.3 1159.60,119.0 1160.82,118.7 1162.05,118.3 1163.27,118.0 1164.50,117.7 1165.72,117.4 1166.95,117.1 1168.17,116.8 1169.40,116.5 1170.62,116.2 1171.85,115.9 1173.08,115.6 1174.30,115.3 1175.53,115.0 1176.76,114.7 1177.98,114.4 1179.21,114.1 1180.44,113.8 1181.66,113.5 1182.89,113.2 1184.12,112.9 1185.34,112.6 1186.57,112.3 1187.80,112.0 1189.03,111.7 1190.25,111.5 1191.48,111.2 1192.71,110.9 1193.94,110.6 1195.16,110.3 1196.39,110.0 1197.62,109.7 1198.85,109.4 1200.07,109.2 1201.30,108.9 1202.53,108.6 1203.76,108.3 1204.99,108.0 1206.21,107.7 1207.44,107.4 1208.67,107.2 1209.90,106.9 1211.12,106.6 1212.35,106.3 1213.58,106.0 1214.81,105.8 1216.03,105.5 1217.26,105.2 1218.49,104.9 1219.72,104.6 1220.94,104.4 1222.17,104.1 1223.40,103.8 1224.63,103.5 1225.85,103.3 1227.08,103.0 1228.31,102.7 1229.53,102.4 1230.76,102.2 1231.99,101.9 1233.21,101.6 1234.44,101.3 1235.66,101.1 1236.89,100.8 1238.12,100.5 1239.34,100.2 1240.57,100.0 1241.79,99.7 1243.02,99.4 1244.24,99.1 1245.47,98.9 1246.69,98.6 1247.91,98.3 1249.14,98.0 1250.36,97.8 1251.59,97.5 1252.81,97.2 1254.03,96.9 1255.26,96.7 1256.48,96.4 1257.70,96.1 1258.93,95.8 1260.15,95.6 1261.37,95.3 1262.59,95.0 1263.81,94.8 1265.03,94.5 1266.26,94.2 1267.48,93.9 1268.70,93.7 1269.92,93.4 1271.14,93.1 1272.36,92.8 1273.58,92.5 1274.79,92.3 1276.01,92.0 1277.23,91.7 1278.45,91.4 1279.67,91.2 1280.88,90.9 1282.10,90.6 1283.32,90.3 1284.54,90.0 1285.75,89.8 1286.97,89.5 1288.18,89.2 1289.40,88.9 1290.61,88.6 1291.83,88.4 1293.04,88.1"/>
<polyline stroke="#dd9900" transform="scale(1.2,1)" points="274.42,582.3 275.66,582.4 276.90,582.6 278.15,582.8 279.39,582.9 280.63,583.1 281.87,583.3 283.12,583.5 284.36,583.6 285.60,583.8 286.85,584.0 288.09,584.2 289.33,584.3 290.57,584.5 291.82,584.7 293.06,584.9 294.30,585.0 295.54,585.2 296.79,585.4 298.03,585.6 299.27,585.7 300.51,585.9 301.76,586.1 303.00,586.3 304.24,586.4 305.48,586.6 306.72,586.8 307.97,587.0 309.21,587.1 310.45,587.3 311.69,587.5 312.93,587.7 314.18,587.8 315.42,588.0 316.66,588.2 317.90,588.4 319.14,588.6 320.38,588.7 321.63,588.9 322.87,589.1 324.11,589.3 325.35,589.4 326.59,589.6 327.83,589.8 329.07,590.0 330.31,590.2 331.56,590.3 332.80,590.5 334.04,590.7 335.28,590.9 336.52,591.1 337.76,591.2 339.00,591.4 340.24,591.6 341.48,591.8 342.72,592.0 343.97,592.1 345.21,592.3 346.45,592.5 347.69,592.7 348.93,592.9 350.17,593.0 351.41,593.2 352.65,593.4 353.89,593.6 355.13,593.8 356.37,594.0 357.61,594.1 358.85,594.3 360.09,594.5 361.33,594.7 362.57,594.9 363.81,595.1 365.05,595.3 366.29,595.4 367.53,595.6 368.77,595.8 370.01,596.0 371.25,596.2 372.49,596.4 373.73,596.6 374.97,596.7 376.21,596.9 377.45,597.1 378.69,597.3 379.93,597.5 381.17,597.7 382.41,597.9 383.65,598.1 384.89,598.2 386.13,598.4 387.37,598.6 388.61,598.8 389.85,599.0 391.09,599.2 392.32,599.4 393.56,599.6 394.80,599.8 396.04,600.0 397.28,600.1 398.52,600.3 399.76,600.5 401.00,600.7 402.24,600.9 403.48,601.1 404.71,601.3 405.95,601.5 407.19,601.7 408.43,601.9 409.67,602.1 410.91,602.3 412.15,602.5 413.39,602.7 414.63,602.8 415.86,603.0 417.10,603.2 418.34,603.4 419.58,603.6 420.82,603.8 422.06,604.0 423.29,604.2 424.53,604.4 425.77,604.6 427.01,604.8 428.25,605.0 429.49,605.2 430.72,605.4 431.96,605.6 433.20,605.8 434.44,606.0 435.68,606.2 436.91,606.4 438.15,606.6 439.39,606.8 440.63,607.0 441.87,607.2 443.10,607.4 444.34,607.6 445.58,607.8 446.82,608.0 448.06,608.2 449.29,608.4 450.53,608.6 451.77,608.8 453.01,609.0 454.24,609.2 455.48,609.4 456.72,609.6 457.96,609.9 459.19,610.1 460.43,610.3 461.67,610.5 462.91,610.7 464.14,610.9 465.38,611.1 466.62,611.3 467.86,611.5 469.09,611.7 470.33,611.9 471.57,612.1 472.81,612.3 474.04,612.6 475.28,612.8 476.52,613.0 477.75,613.2 478.99,613.4 480.23,613.6 481.47,613.8 482.70,614.0 483.94,614.2 485.18,614.5 486.41,614.7 487.65,614.9 488.89,615.1 490.12,615.3 491.36,615.5 492.60,615.7 493.83,616.0 495.07,616.2 496.31,616.4 497.54,616.6 498.78,616.8 500.02,617.0 501.25,617.3 502.49,617.5 503.73,617.7 504.96,617.9 506.20,618.1 507.44,618.4 508.67,618.6 509.91,618.8 511.15,619.0 512.38,619.2 513.62,619.5 514.86,619.7 516.09,619.9 517.33,620.1 518.56,620.4 519.80,620.6 521.04,620.8 522.27,621.0 523.51,621.2 524.75,621.5 525.98,621.7 527.22,621.9 528.45,622.1 529.69,622.4 530.93,622.6 532.16,622.8 533.40,623.1 534.63,623.3 535.87,623.5 537.11,623.7 538.34,624.0 539.58,624.2 540.81,624.4 542.05,624.7 543.29,624.9 544.52,625.1 545.76,625.4 546.99,625.6 548.23,625.8 549.46,626.1 550.70,626.3 551.94,626.5 553.17,626.8 554.41,627.0 555.64,627.2 556.88,627.5 558.11,627.7 559.35,627.9 560.59,628.2 561.82,628.4 563.06,628.7 564.29,628.9 565.53,629.1 566.76,629.4 568.00,629.6 569.23,629.9 570.47,630.1 571.71,630.3 572.94,630.6 574.18,630.8 575.41,631.1 576.65,631.3 577.88,631.6 579.12,631.8 580.35,632.0 581.59,632.3 582.82,632.5 584.06,632.8 585.29,633.0 586.53,633.3 587.76,633.5 589.00,633.8 590.23,634.0 591.46,634.3 592.70,634.5 593.93,634.8 595.17,635.0 596.40,635.3 597.63,635.5 598.87,635.8 600.10,636.0 601.33,636.3 602.57,636.5 603.80,636.8 605.03,637.1 606.27,637.3 607.50,637.6 608.73,637.8 609.96,638.1 611.19,638.3 612.43,638.6 613.66,638.9 614.89,639.1 616.12,639.4 617.35,639.6 618.58,639.9 619.81,640.2 621.04,640.4 622.27,640.7 623.50,641.0 624.73,641.2 625.96,641.5 627.19,641.8 628.41,642.0 629.64,642.3 630.87,642.6 632.10,642.9 633.33,643.1 634.55,643.4 635.78,643.7 637.00,643.9 638.23,644.2 639.46,644.5 640.68,644.8 641.91,645.1 643.13,645.3 644.36,645.6 645.58,645.9 646.80,646.2 648.03,646.5 649.25,646.7 650.47,647.0 651.69,647.3 652.91,647.6 654.14,647.9 655.36,648.2 656.58,648.4 657.80,648.7 659.02,649.0 660.24,649.3 661.46,649.6 662.68,649.9 663.89,650.2 665.11,650.5 666.33,650.8 667.55,651.1 668.77,651.4 669.98,651.7 671.20,652.0 672.42,652.3 673.63,652.6 674.85,652.9 676.06,653.3 677.28,653.6 678.49,653.9 679.71,654.2 680.92,654.5 682.14,654.9 683.35,655.2 684.57,655.5 685.78,655.9 687.00,656.2 688.21,656.5 689.42,656.9 690.64,657.2 691.85,657.6 693.06,657.9 694.28,658.3 695.49,658.6 696.70,659.0 697.91,659.3 699.13,659.7 700.34,660.1 701.55,660.4 702.76,660.8 703.97,661.2 705.19,661.6 706.40,661.9 707.61,662.3 708.82,662.7 710.03,663.1 711.24,663.5 712.45,663.9 713.67,664.3 714.88,664.7 716.09,665.1 717.30,665.6 718.51,666.0 719.72,666.4 720.93,666.8 722.14,667.3 723.35,667.7 724.57,668.1 725.78,668.6 726.99,669.0 728.20,669.5 729.41,670.0 730.62,670.4 731.83,670.9 733.03,671.4 734.24,671.9 735.45,672.4 736.65,672.9 737.85,673.4 739.05,673.9 740.25,674.4 741.44,675.0 742.64,675.5 743.83,676.1 745.01,676.7 746.20,677.3 747.38,677.9 748.55,678.5 749.73,679.1 750.90,679.7 752.06,680.4 753.22,681.1 754.38,681.8 755.53,682.5 756.68,683.2 757.81,683.9 758.94,684.7 760.04,685.4 761.13,686.2 762.19,687.1 763.23,687.9 764.24,688.8 765.21,689.7 766.15,690.6 767.04,691.6 767.89,692.6 768.69,693.7 769.44,694.7 770.14,695.9 770.80,697.0 771.41,698.2 771.98,699.4 772.51,700.7 773.00,701.9 773.46,703.2 773.88,704.5 774.27,705.9 774.64,707.2 774.97,708.6 775.28,710.0 775.57,711.4 775.84,712.9 776.08,714.3 776.32,715.8 776.53,717.2 776.74,718.7 776.94,720.1 777.12,721.6 777.31,723.1 777.49,724.6 777.66,726.0 777.83,727.5 777.99,729.0 778.15,730.5 778.30,732.0 778.45,733.4 778.60,734.9 778.74,736.4 778.88,737.9 779.01,739.4 779.14,740.9 779.26,742.3 779.38,743.8 779.50,745.3 779.61,746.8 779.72,748.3 779.82,749.8 779.92,751.3 780.02,752.8 780.11,754.2 780.20,755.7 780.29,757.2 780.37,758.7 780.45,760.2 780.53,761.7 780.60,763.2 780.67,764.7 780.73,766.2 780.80,767.7 780.86,769.2 780.91,770.7 780.97,772.2 781.02,773.7 781.06,775.2 781.11,776.7 781.15,778.2 781.19,779.7 781.23,781.2 781.26,782.7 781.29,784.2 781.32,785.7 781.35,787.2 781.37,788.7 781.40,790.2 781.42,791.7 781.44,793.2 781.45,794.7 781.47,796.2 781.48,797.7 781.49,799.3 781.50,800.8 781.50,802.3 781.51,803.8 781.51,805.3 781.51,806.8 781.51,808.3 781.51,809.8 781.51,811.3 781.51,812.8 781.50,814.3 781.49,815.8 781.49,817.4 781.48,818.9 781.47,820.4 781.46,821.9 781.44,823.4 781.43,824.9 781.42,826.4 781.40,827.9 781.39,829.4 781.37,830.9 781.36,832.5 781.34,834.0 781.32,835.5 781.31,837.0 781.29,838.5 781.27,840.0 781.25,841.5 781.23,843.0 781.21,844.5 781.19,846.0 781.18,847.6 781.16,849.1 781.14,850.6 781.12,852.1 781.10,853.6 781.09,855.1 781.07,856.6 781.05,858.1 781.03,859.6 781.02,861.1 781.00,862.7 780.99,864.2 780.98,865.7 780.96,867.2 780.95,868.7 780.94,870.2 780.93,871.7 780.92,873.2 780.91,874.7 780.90,876.2 780.90,877.7 780.89,879.2 780.89,880.7 780.89,882.2 780.89,883.7 780.89,885.3 780.89,886.8 780.90,888.3 780.90,889.8 780.91,891.3 780.92,892.8 780.93,894.3 780.95,895.8 780.96,897.3 780.98,898.8 781.00,900.3 781.02,901.8 781.04,903.3 781.07,904.8 781.10,906.3 781.13,907.8 781.16,909.3 781.19,910.8 781.23,912.3 781.27,913.7 781.30,915.2 781.34,916.7 781.39,918.2 781.43,919.7 781.47,921.2 781.52,922.7 781.56,924.2 781.61,925.7 781.66,927.2 781.71,928.7 781.76,930.2 781.81,931.7 781.87,933.2 781.92,934.7 781.97,936.1 782.03,937.6 782.08,939.1 782.14,940.6 782.19,942.1 782.25,943.6 782.31,945.1 782.36,946.6 782.42,948.1 782.48,949.6 782.54,951.1 782.59,952.5 782.65,954.0 782.71,955.5 782.76,957.0 782.82,958.5 782.88,960.0 782.93,961.5 782.99,963.0 783.04,964.5 783.10,966.0 783.15,967.5 783.20,968.9 783.26,970.4 783.31,971.9 783.36,973.4 783.41,974.9 783.45,976.4 783.50,977.9 783.55,979.4 783.59,980.9 783.64,982.4 783.68,983.9 783.72,985.4 783.76,986.9 783.79,988.4 783.83,989.9 783.86,991.4 783.90,992.9 783.93,994.3 783.96,995.8 783.98,997.3 784.01,998.8 784.03,1000.3 784.05,1001.8 784.07,1003.3 784.08,1004.8 784.10,1006.3 784.11,1007.8 784.12,1009.3 784.12,1010.9 784.13,1012.4 784.13,1013.9 784.13,1015.4 784.12,1016.9 784.12,1018.4 784.10,1019.9 784.09,1021.4 784.08,1022.9 784.06,1024.4 784.03,1025.9 784.01,1027.4 783.98,1028.9 783.95,1030.5 783.91,1032.0 783.87,1033.5 783.83,1035.0 783.78,1036.5 783.73,1038.0 783.68,1039.5 783.62,1041.1"/>
<polyline stroke="#dd9900" transform="scale(1.2,1)" points="783.68,1041.2 783.71,1039.6 783.74,1038.1 783.78,1036.6 783.81,1035.1 783.84,1033.6 783.87,1032.1 783.90,1030.6 783.94,1029.1 783.97,1027.6 784.00,1026.1 784.03,1024.6 784.06,1023.1 784.08,1021.6 784.11,1020.1 784.14,1018.6 784.17,1017.0 784.20,1015.5 784.22,1014.0 784.25,1012.5 784.28,1011.0 784.30,1009.5 784.33,1008.0 784.35,1006.5 784.38,1005.0 784.40,1003.5 784.42,1002.0 784.45,1000.5 784.47,999.0 784.50,997.5 784.52,996.0 784.54,994.5 784.56,993.0 784.58,991.5 784.61,990.0 784.63,988.5 784.65,987.0 784.67,985.5 784.69,984.0 784.71,982.5 784.73,981.0 784.75,979.5 784.77,978.0 784.79,976.4 784.81,974.9 784.82,973.4 784.84,971.9 784.86,970.4 784.88,968.9 784.90,967.4 784.91,965.9 784.93,964.4 784.95,962.9 784.96,961.4 784.98,959.9 785.00,958.4 785.01,956.9 785.03,955.4 785.04,953.9 785.06,952.4 785.08,950.9 785.09,949.4 785.11,947.9 785.12,946.4 785.14,944.9 785.15,943.4 785.16,941.9 785.18,940.4 785.19,938.9 785.21,937.4 785.22,935.9 785.23,934.4 785.25,932.9 785.26,931.4 785.27,929.9 785.29,928.5 785.30,927.0 785.31,925.5 785.32,924.0 785.34,922.5 785.35,921.0 785.36,919.5 785.37,918.0 785.39,916.5 785.40,915.0 785.41,913.5 785.42,912.0 785.44,910.5 785.45,909.0 785.46,907.5 785.47,906.0 785.48,904.5 785.49,903.0 785.51,901.5 785.52,900.0 785.53,898.5 785.54,897.0 785.55,895.5 785.56,894.0 785.58,892.5 785.59,891.0 785.60,889.5 785.61,888.0 785.62,886.5 785.63,885.0 785.65,883.5 785.66,882.0 785.67,880.5 785.68,879.1 785.69,877.6 785.70,876.1 785.72,874.6 785.73,873.1 785.74,871.6 785.75,870.1 785.76,868.6 785.77,867.1 785.79,865.6 785.80,864.1 785.81,862.6 785.82,861.1 785.84,859.6 785.85,858.1 785.86,856.6 785.87,855.1 785.89,853.6 785.90,852.1 785.91,850.6 785.93,849.2 785.94,847.7 785.95,846.2 785.97,844.7 785.98,843.2 785.99,841.7 786.01,840.2 786.02,838.7 786.04,837.2 786.05,835.7 786.07,834.2 786.08,832.7 786.10,831.2 786.11,829.7 786.13,828.2 786.14,826.7 786.16,825.2 786.17,823.7 786.19,822.3 786.21,820.8 786.22,819.3 786.24,817.8 786.26,816.3 786.27,814.8 786.29,813.3 786.31,811.8 786.33,810.3 786.34,808.8 786.36,807.3 786.38,805.8 786.40,804.3 786.42,802.8 786.44,801.3 786.46,799.8 786.48,798.3 786.50,796.9 786.52,795.4 786.54,793.9 786.56,792.4 786.58,790.9 786.60,789.4 786.63,787.9 786.65,786.4 786.67,784.9 786.69,783.4 786.72,781.9 786.74,780.4 786.76,778.9 786.79,777.4 786.81,775.9 786.84,774.4 786.86,772.9 786.89,771.5 786.91,770.0 786.94,768.5 786.97,767.0 786.99,765.5 787.02,764.0 787.05,762.5 787.08,761.0 787.11,759.5 787.14,758.0 787.16,756.5 787.19,755.0 787.22,753.5 787.26,752.0 787.29,750.5 787.32,749.0 787.35,747.5 787.38,746.1 787.41,744.6 787.45,743.1 787.48,741.6 787.51,740.1 787.55,738.6 787.58,737.1 787.62,735.6 787.66,734.1 787.69,732.6 787.73,731.1 787.77,729.6 787.80,728.1 787.84,726.6 787.88,725.1 787.92,723.6 787.96,722.1 788.00,720.6 788.04,719.2 788.08,717.7 788.12,716.2 788.17,714.7 788.21,713.2 788.25,711.7 788.30,710.2 788.34,708.7 788.38,707.2 788.43,705.7 788.48,704.2 788.52,702.7 788.57,701.2 788.62,699.7 788.67,698.2 788.71,696.7 788.76,695.2 788.81,693.7 788.86,692.2 788.92,690.7 788.97,689.2 789.02,687.7 789.07,686.2 789.13,684.8 789.18,683.3 789.24,681.8 789.29,680.3 789.35,678.8 789.40,677.3 789.46,675.8 789.52,674.3 789.58,672.8 789.64,671.3 789.70,669.8 789.76,668.3 789.82,666.8 789.88,665.3 789.94,663.8 790.01,662.3 790.07,660.8 790.14,659.3 790.20,657.8 790.27,656.3 790.33,654.8 790.40,653.3 790.47,651.8 790.54,650.3 790.61,648.8 790.68,647.3 790.75,645.8 790.82,644.3 790.90,642.8 790.97,641.3 791.04,639.8 791.12,638.3 791.19,636.8 791.27,635.3 791.35,633.8 791.42,632.3 791.50,630.8 791.58,629.3 791.66,627.8 791.75,626.3 791.83,624.8 791.91,623.3 792.00,621.8 792.08,620.3 792.17,618.8 792.26,617.3 792.35,615.8 792.44,614.3 792.53,612.8 792.62,611.3 792.71,609.8 792.81,608.3 792.91,606.8 793.00,605.3 793.10,603.8 793.20,602.3 793.30,600.8 793.41,599.3 793.51,597.8 793.62,596.3 793.73,594.9 793.84,593.4 793.95,591.9 794.06,590.4 794.17,588.9 794.29,587.4 794.40,585.9 794.52,584.4 794.64,582.9 794.77,581.4 794.89,579.9 795.02,578.4 795.14,576.9 795.27,575.4 795.40,573.9 795.54,572.4 795.67,570.9 795.81,569.4 795.95,567.9 796.09,566.4 796.23,564.9 796.38,563.4 796.52,561.9 796.67,560.5 796.82,559.0 796.98,557.5 797.13,556.0 797.29,554.5 797.45,553.0 797.61,551.5 797.77,550.0 797.94,548.5 798.11,547.0 798.28,545.6 798.45,544.1 798.63,542.6 798.81,541.1 798.99,539.6 799.17,538.1 799.36,536.6 799.55,535.1 799.74,533.7 799.93,532.2 800.13,530.7 800.32,529.2 800.53,527.7 800.73,526.2 800.94,524.8 801.14,523.3 801.36,521.8 801.57,520.3 801.79,518.8 802.01,517.4 802.23,515.9 802.46,514.4 802.69,512.9 802.92,511.5 803.15,510.0 803.39,508.5 803.63,507.0 803.88,505.6 804.12,504.1 804.37,502.6 804.63,501.2 804.88,499.7 805.14,498.2 805.41,496.7 805.67,495.3 805.94,493.8 806.21,492.3 806.49,490.9 806.77,489.4 807.05,487.9 807.33,486.5 807.62,485.0 807.92,483.6 808.21,482.1 808.51,480.6 808.81,479.2 809.12,477.7 809.43,476.3 809.74,474.8 810.06,473.3 810.38,471.9 810.70,470.4 811.03,469.0 811.36,467.5 811.70,466.1 812.04,464.6 812.38,463.2 812.73,461.7 813.08,460.3 813.43,458.8 813.79,457.4 814.15,455.9 814.52,454.5 814.89,453.0 815.26,451.6 815.64,450.2 816.02,448.7 816.41,447.3 816.80,445.9 817.19,444.4 817.59,443.0 817.99,441.6 818.39,440.1 818.80,438.7 819.21,437.3 819.63,435.8 820.05,434.4 820.48,433.0 820.91,431.6 821.34,430.2 821.78,428.8 822.22,427.3 822.66,425.9 823.11,424.5 823.57,423.1 824.03,421.7 824.49,420.3 824.96,418.9 825.43,417.5 825.90,416.1 826.38,414.7 826.86,413.3 827.35,411.9 827.84,410.6 828.34,409.2 828.84,407.8 829.34,406.4 829.85,405.0 830.37,403.7 830.88,402.3 831.41,400.9 831.93,399.6 832.46,398.2 833.00,396.8 833.54,395.5 834.08,394.1 834.63,392.8 835.18,391.4 835.74,390.1 836.30,388.8 836.87,387.4 837.44,386.1 838.01,384.8 838.59,383.4 839.18,382.1 839.77,380.8 840.36,379.5 840.96,378.2 841.56,376.9 842.17,375.6 842.78,374.3 843.39,373.0 844.02,371.7 844.64,370.4 845.27,369.1 845.91,367.8 846.55,366.6 847.19,365.3 847.84,364.0 848.49,362.8 849.15,361.5 849.81,360.2 850.48,359.0 851.15,357.7 851.83,356.5 852.51,355.3 853.20,354.0 853.89,352.8 854.59,351.6 855.29,350.4 856.00,349.1 856.71,347.9 857.43,346.7 858.15,345.5 858.87,344.3 859.60,343.1 860.34,341.9 861.08,340.8 861.83,339.6 862.58,338.4 863.33,337.3 864.09,336.1 864.86,334.9 865.63,333.8 866.40,332.6 867.19,331.5 867.97,330.4 868.76,329.2 869.56,328.1 870.36,327.0 871.17,325.9 871.98,324.8 872.79,323.7 873.62,322.6 874.44,321.5 875.27,320.4 876.11,319.3 876.95,318.3 877.80,317.2 878.65,316.1 879.51,315.1 880.38,314.0 881.24,313.0 882.12,312.0 883.00,310.9 883.88,309.9 884.77,308.9 885.67,307.9 886.57,306.9 887.47,305.9 888.39,304.9 889.30,303.9 890.22,302.9 891.15,301.9 892.08,301.0 893.02,300.0 893.96,299.1 894.90,298.1 895.85,297.2 896.81,296.2 897.77,295.3 898.74,294.4 899.70,293.5 900.68,292.6 901.66,291.6 902.64,290.7 903.63,289.8 904.62,289.0 905.61,288.1 906.61,287.2 907.62,286.3 908.63,285.5 909.64,284.6 910.65,283.7 911.67,282.9 912.70,282.0 913.73,281.2 914.76,280.4 915.79,279.5 916.83,278.7 917.87,277.9 918.92,277.1 919.97,276.3 921.02,275.5 922.08,274.7 923.14,273.9 924.20,273.1 925.27,272.3 926.33,271.6 927.41,270.8 928.48,270.0 929.56,269.3 930.64,268.5 931.73,267.8 932.81,267.0 933.90,266.3 934.99,265.5 936.09,264.8 937.19,264.1 938.29,263.4 939.39,262.6 940.50,261.9 941.60,261.2 942.71,260.5 943.83,259.8 944.94,259.1 946.06,258.4 947.18,257.7 948.30,257.1 949.42,256.4 950.55,255.7 951.67,255.1 952.80,254.4 953.93,253.7 955.06,253.1 956.20,252.4 957.33,251.8 958.47,251.1 959.61,250.5 960.75,249.9 961.89,249.2 963.04,248.6 964.18,248.0 965.33,247.4 966.47,246.8 967.62,246.2 968.77,245.6 969.92,245.0 971.07,244.4 972.23,243.8 973.38,243.2 974.53,242.6 975.69,242.0 976.85,241.4 978.01,240.9 979.17,240.3 980.33,239.7 981.49,239.2 982.65,238.6 983.81,238.0 984.98,237.5 986.14,236.9 987.31,236.4 988.48,235.9 989.65,235.3 990.82,234.8 991.99,234.2 993.16,233.7 994.33,233.2 995.51,232.7 996.68,232.2 997.86,231.6 999.03,231.1 1000.21,230.6 1001.39,230.1 1002.57,229.6 1003.75,229.1 1004.93,228.6 1006.11,228.1 1007.30,227.6 1008.48,227.2 1009.66,226.7 1010.85,226.2 1012.03,225.7 1013.22,225.2 1014.41,224.8 1015.60,224.3 1016.79,223.8 1017.98,223.4 1019.17,222.9 1020.36,222.4 1021.55,222.0 1022.75,221.5 1023.94,221.1 1025.13,220.6 1026.33,220.2 1027.53,219.8 1028.72,219.3 1029.92,218.9 1031.12,218.4 1032.32,218.0 1033.52,217.6 1034.72,217.2 1035.92,216.7 1037.12,216.3 1038.32,215.9 1039.52,215.5 1040.73,215.1 1041.93,214.6 1043.13,214.2 1044.34,213.8 1045.54,213.4 1046.75,213.0 1047.96,212.6 1049.16,212.2 1050.37,211.8 1051.58,211.4 1052.79,211.0 1054.00,210.6 1055.21,210.2 1056.42,209.9 1057.63,209.5 1058.84,209.1 1060.05,208.7 1061.26,208.3 1062.47,208.0 1063.68,207.6 1064.90,207.2 1066.11,206.8 1067.32,206.5 1068.54,206.1 1069.75,205.7 1070.97,205.4 1072.18,205.0 1073.40,204.6 1074.61,204.3 1075.83,203.9 1077.05,203.6 1078.26,203.2 1079.48,202.8 1080.70,202.5 1081.92,202.1 1083.13,201.8 1084.35,201.4 1085.57,201.1 1086.79,200.7 1088.01,200.4 1089.23,200.0 1090.45,199.7 1091.67,199.4 1092.89,199.0 1094.11,198.7 1095.33,198.3 1096.55,198.0 1097.77,197.7 1098.99,197.3 1100.21,197.0 1101.43,196.7 1102.65,196.3 1103.87,196.0 1105.09,195.7 1106.31,195.3 1107.53,195.0 1108.76,194.7 1109.98,194.4 1111.20,194.0 1112.42,193.7 1113.64,193.4 1114.86,193.1 1116.08,192.7 1117.31,192.4 1118.53,192.1 1119.75,191.8 1120.97,191.4 1122.19,191.1 1123.41,190.8 1124.63,190.5 1125.85,190.2 1127.08,189.8 1128.30,189.5 1129.52,189.2 1130.74,188.9 1131.96,188.6 1133.18,188.3 1134.40,187.9 1135.62,187.6 1136.84,187.3 1138.06,187.0 1139.28,186.7 1140.50,186.4 1141.72,186.0 1142.94,185.7 1144.16,185.4 1145.38,185.1 1146.60,184.8 1147.81,184.5 1149.03,184.1 1150.25,183.8 1151.47,183.5 1152.69,183.2 1153.91,182.9 1155.12,182.6 1156.34,182.3 1157.56,181.9 1158.78,181.6 1159.99,181.3 1161.21,181.0 1162.43,180.7 1163.65,180.4 1164.86,180.1 1166.08,179.8 1167.30,179.4 1168.52,179.1 1169.73,178.8 1170.95,178.5 1172.17,178.2 1173.38,177.9 1174.60,177.6 1175.82,177.3 1177.03,177.0 1178.25,176.7 1179.47,176.4 1180.69,176.0 1181.90,175.7 1183.12,175.4 1184.34,175.1 1185.55,174.8 1186.77,174.5 1187.99,174.2 1189.21,173.9 1190.42,173.6 1191.64,173.3 1192.86,173.0 1194.08,172.7 1195.29,172.4 1196.51,172.1 1197.73,171.8 1198.95,171.5 1200.16,171.2 1201.38,170.9 1202.60,170.6 1203.82,170.3 1205.04,170.0 1206.26,169.7 1207.47,169.4 1208.69,169.1 1209.91,168.8 1211.13,168.5 1212.35,168.2 1213.57,167.9 1214.79,167.6 1216.01,167.3 1217.23,167.0 1218.45,166.7 1219.67,166.4 1220.89,166.1 1222.11,165.8 1223.33,165.5 1224.55,165.2 1225.77,164.9 1227.00,164.6 1228.22,164.3 1229.44,164.0 1230.66,163.7 1231.88,163.5 1233.11,163.2 1234.33,162.9 1235.55,162.6 1236.78,162.3 1238.00,162.0 1239.22,161.7 1240.45,161.4 1241.67,161.2 1242.90,160.9 1244.12,160.6 1245.35,160.3 1246.58,160.0 1247.80,159.7 1249.03,159.5 1250.25,159.2 1251.48,158.9 1252.71,158.6 1253.94,158.3 1255.17,158.1 1256.39,157.8 1257.62,157.5 1258.85,157.2 1260.08,156.9 1261.31,156.7 1262.54,156.4 1263.77,156.1 1265.00,155.8 1266.24,155.6 1267.47,155.3 1268.70,155.0 1269.93,154.8 1271.17,154.5 1272.40,154.2 1273.63,154.0 1274.87,153.7 1276.10,153.4 1277.34,153.1 1278.58,152.9 1279.81,152.6 1281.05,152.4 1282.29,152.1 1283.52,151.8 1284.76,151.6 1286.00,151.3 1287.24,151.0 1288.48,150.8 1289.72,150.5 1290.96,150.3 1292.20,150.0 1293.44,149.8"/>
</g>
<g stroke="#000" stroke-linecap="butt"><rect x="212.2" y="51.8" width="1457.1" height="1036.7" fill="none" stroke-width="5.4" stroke-linejoin="miter"/><line x1="196.0" y1="51.8" x2="212.2" y2="51.8" stroke-width="5.4"/><line x1="1669.3" y1="51.8" x2="1656.3" y2="51.8" stroke-width="4.5"/><line x1="196.0" y1="213.7" x2="212.2" y2="213.7" stroke-width="5.4"/><line x1="1669.3" y1="213.7" x2="1656.3" y2="213.7" stroke-width="4.5"/><line x1="204.0" y1="165.0" x2="212.2" y2="165.0" stroke-width="5.0"/><line x1="1669.3" y1="165.0" x2="1663.8" y2="165.0" stroke-width="4.8"/><line x1="204.0" y1="136.5" x2="212.2" y2="136.5" stroke-width="5.0"/><line x1="1669.3" y1="136.5" x2="1663.8" y2="136.5" stroke-width="4.8"/><line x1="204.0" y1="116.2" x2="212.2" y2="116.2" stroke-width="5.0"/><line x1="1669.3" y1="116.2" x2="1663.8" y2="116.2" stroke-width="4.8"/><line x1="204.0" y1="100.5" x2="212.2" y2="100.5" stroke-width="5.0"/><line x1="1669.3" y1="100.5" x2="1663.8" y2="100.5" stroke-width="4.8"/><line x1="204.0" y1="87.7" x2="212.2" y2="87.7" stroke-width="5.0"/><line x1="1669.3" y1="87.7" x2="1663.8" y2="87.7" stroke-width="4.8"/><line x1="204.0" y1="76.9" x2="212.2" y2="76.9" stroke-width="5.0"/><line x1="1669.3" y1="76.9" x2="1663.8" y2="76.9" stroke-width="4.8"/><line x1="204.0" y1="67.5" x2="212.2" y2="67.5" stroke-width="5.0"/><line x1="1669.3" y1="67.5" x2="1663.8" y2="67.5" stroke-width="4.8"/><line x1="204.0" y1="59.2" x2="212.2" y2="59.2" stroke-width="5.0"/><line x1="1669.3" y1="59.2" x2="1663.8" y2="59.2" stroke-width="4.8"/><line x1="196.0" y1="375.6" x2="212.2" y2="375.6" stroke-width="5.4"/><line x1="1669.3" y1="375.6" x2="1656.3" y2="375.6" stroke-width="4.5"/><line x1="204.0" y1="326.9" x2="212.2" y2="326.9" stroke-width="5.0"/><line x1="1669.3" y1="326.9" x2="1663.8" y2="326.9" stroke-width="4.8"/><line x1="204.0" y1="298.4" x2="212.2" y2="298.4" stroke-width="5.0"/><line x1="1669.3" y1="298.4" x2="1663.8" y2="298.4" stroke-width="4.8"/><line x1="204.0" y1="278.1" x2="212.2" y2="278.1" stroke-width="5.0"/><line x1="1669.3" y1="278.1" x2="1663.8" y2="278.1" stroke-width="4.8"/><line x1="204.0" y1="262.4" x2="212.2" y2="262.4" stroke-width="5.0"/><line x1="1669.3" y1="262.4" x2="1663.8" y2="262.4" stroke-width="4.8"/><line x1="204.0" y1="249.6" x2="212.2" y2="249.6" stroke-width="5.0"/><line x1="1669.3" y1="249.6" x2="1663.8" y2="249.6" stroke-width="4.8"/><line x1="204.0" y1="238.8" x2="212.2" y2="238.8" stroke-width="5.0"/><line x1="1669.3" y1="238.8" x2="1663.8" y2="238.8" stroke-width="4.8"/><line x1="204.0" y1="229.4" x2="212.2" y2="229.4" stroke-width="5.0"/><line x1="1669.3" y1="229.4" x2="1663.8" y2="229.4" stroke-width="4.8"/><line x1="204.0" y1="221.1" x2="212.2" y2="221.1" stroke-width="5.0"/><line x1="1669.3" y1="221.1" x2="1663.8" y2="221.1" stroke-width="4.8"/><line x1="196.0" y1="537.5" x2="212.2" y2="537.5" stroke-width="5.4"/><line x1="1669.3" y1="537.5" x2="1656.3" y2="537.5" stroke-width="4.5"/><line x1="204.0" y1="488.8" x2="212.2" y2="488.8" stroke-width="5.0"/><line x1="1669.3" y1="488.8" x2="1663.8" y2="488.8" stroke-width="4.8"/><line x1="204.0" y1="460.3" x2="212.2" y2="460.3" stroke-width="5.0"/><line x1="1669.3" y1="460.3" x2="1663.8" y2="460.3" stroke-width="4.8"/><line x1="204.0" y1="440.0" x2="212.2" y2="440.0" stroke-width="5.0"/><line x1="1669.3" y1="440.0" x2="1663.8" y2="440.0" stroke-width="4.8"/><line x1="204.0" y1="424.3" x2="212.2" y2="424.3" stroke-width="5.0"/><line x1="1669.3" y1="424.3" x2="1663.8" y2="424.3" stroke-width="4.8"/><line x1="204.0" y1="411.5" x2="212.2" y2="411.5" stroke-width="5.0"/><line x1="1669.3" y1="411.5" x2="1663.8" y2="411.5" stroke-width="4.8"/><line x1="204.0" y1="400.7" x2="212.2" y2="400.7" stroke-width="5.0"/><line x1="1669.3" y1="400.7" x2="1663.8" y2="400.7" stroke-width="4.8"/><line x1="204.0" y1="391.3" x2="212.2" y2="391.3" stroke-width="5.0"/><line x1="1669.3" y1="391.3" x2="1663.8" y2="391.3" stroke-width="4.8"/><line x1="204.0" y1="383.0" x2="212.2" y2="383.0" stroke-width="5.0"/><line x1="1669.3" y1="383.0" x2="1663.8" y2="383.0" stroke-width="4.8"/><line x1="196.0" y1="699.4" x2="212.2" y2="699.4" stroke-width="5.4"/><line x1="1669.3" y1="699.4" x2="1656.3" y2="699.4" stroke-width="4.5"/><line x1="204.0" y1="650.7" x2="212.2" y2="650.7" stroke-width="5.0"/><line x1="1669.3" y1="650.7" x2="1663.8" y2="650.7" stroke-width="4.8"/><line x1="204.0" y1="622.2" x2="212.2" y2="622.2" stroke-width="5.0"/><line x1="1669.3" y1="622.2" x2="1663.8" y2="622.2" stroke-width="4.8"/><line x1="204.0" y1="601.9" x2="212.2" y2="601.9" stroke-width="5.0"/><line x1="1669.3" y1="601.9" x2="1663.8" y2="601.9" stroke-width="4.8"/><line x1="204.0" y1="586.2" x2="212.2" y2="586.2" stroke-width="5.0"/><line x1="1669.3" y1="586.2" x2="1663.8" y2="586.2" stroke-width="4.8"/><line x1="204.0" y1="573.4" x2="212.2" y2="573.4" stroke-width="5.0"/><line x1="1669.3" y1="573.4" x2="1663.8" y2="573.4" stroke-width="4.8"/><line x1="204.0" y1="562.6" x2="212.2" y2="562.6" stroke-width="5.0"/><line x1="1669.3" y1="562.6" x2="1663.8" y2="562.6" stroke-width="4.8"/><line x1="204.0" y1="553.2" x2="212.2" y2="553.2" stroke-width="5.0"/><line x1="1669.3" y1="553.2" x2="1663.8" y2="553.2" stroke-width="4.8"/><line x1="204.0" y1="544.9" x2="212.2" y2="544.9" stroke-width="5.0"/><line x1="1669.3" y1="544.9" x2="1663.8" y2="544.9" stroke-width="4.8"/><line x1="196.0" y1="861.3" x2="212.2" y2="861.3" stroke-width="5.4"/><line x1="1669.3" y1="861.3" x2="1656.3" y2="861.3" stroke-width="4.5"/><line x1="204.0" y1="812.6" x2="212.2" y2="812.6" stroke-width="5.0"/><line x1="1669.3" y1="812.6" x2="1663.8" y2="812.6" stroke-width="4.8"/><line x1="204.0" y1="784.1" x2="212.2" y2="784.1" stroke-width="5.0"/><line x1="1669.3" y1="784.1" x2="1663.8" y2="784.1" stroke-width="4.8"/><line x1="204.0" y1="763.8" x2="212.2" y2="763.8" stroke-width="5.0"/><line x1="1669.3" y1="763.8" x2="1663.8" y2="763.8" stroke-width="4.8"/><line x1="204.0" y1="748.1" x2="212.2" y2="748.1" stroke-width="5.0"/><line x1="1669.3" y1="748.1" x2="1663.8" y2="748.1" stroke-width="4.8"/><line x1="204.0" y1="735.3" x2="212.2" y2="735.3" stroke-width="5.0"/><line x1="1669.3" y1="735.3" x2="1663.8" y2="735.3" stroke-width="4.8"/><line x1="204.0" y1="724.5" x2="212.2" y2="724.5" stroke-width="5.0"/><line x1="1669.3" y1="724.5" x2="1663.8" y2="724.5" stroke-width="4.8"/><line x1="204.0" y1="715.1" x2="212.2" y2="715.1" stroke-width="5.0"/><line x1="1669.3" y1="715.1" x2="1663.8" y2="715.1" stroke-width="4.8"/><line x1="204.0" y1="706.8" x2="212.2" y2="706.8" stroke-width="5.0"/><line x1="1669.3" y1="706.8" x2="1663.8" y2="706.8" stroke-width="4.8"/><line x1="196.0" y1="1023.2" x2="212.2" y2="1023.2" stroke-width="5.4"/><line x1="1669.3" y1="1023.2" x2="1656.3" y2="1023.2" stroke-width="4.5"/><line x1="204.0" y1="974.5" x2="212.2" y2="974.5" stroke-width="5.0"/><line x1="1669.3" y1="974.5" x2="1663.8" y2="974.5" stroke-width="4.8"/><line x1="204.0" y1="946.0" x2="212.2" y2="946.0" stroke-width="5.0"/><line x1="1669.3" y1="946.0" x2="1663.8" y2="946.0" stroke-width="4.8"/><line x1="204.0" y1="925.7" x2="212.2" y2="925.7" stroke-width="5.0"/><line x1="1669.3" y1="925.7" x2="1663.8" y2="925.7" stroke-width="4.8"/><line x1="204.0" y1="910.0" x2="212.2" y2="910.0" stroke-width="5.0"/><line x1="1669.3" y1="910.0" x2="1663.8" y2="910.0" stroke-width="4.8"/><line x1="204.0" y1="897.2" x2="212.2" y2="897.2" stroke-width="5.0"/><line x1="1669.3" y1="897.2" x2="1663.8" y2="897.2" stroke-width="4.8"/><line x1="204.0" y1="886.4" x2="212.2" y2="886.4" stroke-width="5.0"/><line x1="1669.3" y1="886.4" x2="1663.8" y2="886.4" stroke-width="4.8"/><line x1="204.0" y1="877.0" x2="212.2" y2="877.0" stroke-width="5.0"/><line x1="1669.3" y1="877.0" x2="1663.8" y2="877.0" stroke-width="4.8"/><line x1="204.0" y1="868.7" x2="212.2" y2="868.7" stroke-width="5.0"/><line x1="1669.3" y1="868.7" x2="1663.8" y2="868.7" stroke-width="4.8"/><line x1="204.0" y1="1087.6" x2="212.2" y2="1087.6" stroke-width="5.0"/><line x1="1669.3" y1="1087.6" x2="1663.8" y2="1087.6" stroke-width="4.8"/><line x1="204.0" y1="1071.9" x2="212.2" y2="1071.9" stroke-width="5.0"/><line x1="1669.3" y1="1071.9" x2="1663.8" y2="1071.9" stroke-width="4.8"/><line x1="204.0" y1="1059.1" x2="212.2" y2="1059.1" stroke-width="5.0"/><line x1="1669.3" y1="1059.1" x2="1663.8" y2="1059.1" stroke-width="4.8"/><line x1="204.0" y1="1048.3" x2="212.2" y2="1048.3" stroke-width="5.0"/><line x1="1669.3" y1="1048.3" x2="1663.8" y2="1048.3" stroke-width="4.8"/><line x1="204.0" y1="1038.9" x2="212.2" y2="1038.9" stroke-width="5.0"/><line x1="1669.3" y1="1038.9" x2="1663.8" y2="1038.9" stroke-width="4.8"/><line x1="204.0" y1="1030.6" x2="212.2" y2="1030.6" stroke-width="5.0"/><line x1="1669.3" y1="1030.6" x2="1663.8" y2="1030.6" stroke-width="4.8"/><line x1="212.2" y1="1088.5" x2="212.2" y2="1104.6" stroke-width="5.4"/><line x1="212.2" y1="51.8" x2="212.2" y2="67.8" stroke-width="5.4"/><line x1="333.6" y1="1088.5" x2="333.6" y2="1095.5" stroke-width="5.0"/><line x1="333.6" y1="51.8" x2="333.6" y2="60.0" stroke-width="5.0"/><line x1="455.0" y1="1088.5" x2="455.0" y2="1104.6" stroke-width="5.4"/><line x1="455.0" y1="51.8" x2="455.0" y2="67.8" stroke-width="5.4"/><line x1="576.4" y1="1088.5" x2="576.4" y2="1095.5" stroke-width="5.0"/><line x1="576.4" y1="51.8" x2="576.4" y2="60.0" stroke-width="5.0"/><line x1="697.9" y1="1088.5" x2="697.9" y2="1104.6" stroke-width="5.4"/><line x1="697.9" y1="51.8" x2="697.9" y2="67.8" stroke-width="5.4"/><line x1="819.3" y1="1088.5" x2="819.3" y2="1095.5" stroke-width="5.0"/><line x1="819.3" y1="51.8" x2="819.3" y2="60.0" stroke-width="5.0"/><line x1="940.7" y1="1088.5" x2="940.7" y2="1104.6" stroke-width="5.4"/><line x1="940.7" y1="51.8" x2="940.7" y2="67.8" stroke-width="5.4"/><line x1="1062.1" y1="1088.5" x2="1062.1" y2="1095.5" stroke-width="5.0"/><line x1="1062.1" y1="51.8" x2="1062.1" y2="60.0" stroke-width="5.0"/><line x1="1183.5" y1="1088.5" x2="1183.5" y2="1104.6" stroke-width="5.4"/><line x1="1183.5" y1="51.8" x2="1183.5" y2="67.8" stroke-width="5.4"/><line x1="1305.0" y1="1088.5" x2="1305.0" y2="1095.5" stroke-width="5.0"/><line x1="1305.0" y1="51.8" x2="1305.0" y2="60.0" stroke-width="5.0"/><line x1="1426.4" y1="1088.5" x2="1426.4" y2="1104.6" stroke-width="5.4"/><line x1="1426.4" y1="51.8" x2="1426.4" y2="67.8" stroke-width="5.4"/><line x1="1547.8" y1="1088.5" x2="1547.8" y2="1095.5" stroke-width="5.0"/><line x1="1547.8" y1="51.8" x2="1547.8" y2="60.0" stroke-width="5.0"/><line x1="1669.2" y1="1088.5" x2="1669.2" y2="1104.6" stroke-width="5.4"/><line x1="1669.2" y1="51.8" x2="1669.2" y2="67.8" stroke-width="5.4"/></g>
<defs><clipPath id="ic"><rect x="385.7" y="167.8" width="496.5" height="319.4"/></clipPath></defs>
<g clip-path="url(#ic)" fill="none" stroke-width="2.5" stroke-linejoin="round">
<polyline stroke="#505050" transform="scale(1.2,1)" points="330.04,300.7 334.19,301.4 338.34,302.2 342.49,303.0 346.64,303.8 350.79,304.6 354.94,305.4 359.09,306.2 363.24,307.0 367.39,307.8 371.54,308.6 375.69,309.4 379.84,310.3 383.99,311.1 388.14,311.9 392.29,312.8 396.44,313.7 400.59,314.5 404.74,315.4 408.89,316.3 413.04,317.1 417.19,318.0 421.34,318.9 425.49,319.8 429.64,320.7 433.79,321.6 437.94,322.6 442.09,323.5 446.24,324.4 450.39,325.4 454.54,326.4 458.69,327.3 462.83,328.3 466.98,329.3 471.13,330.3 475.28,331.3 479.43,332.3 483.58,333.3 487.73,334.3 491.88,335.4 496.03,336.4 500.18,337.5 504.33,338.6 508.48,339.7 512.63,340.8 516.78,341.9 520.93,343.0 525.08,344.1 529.23,345.3 533.38,346.4 537.53,347.6 541.68,348.8 545.83,350.0 549.98,351.2 554.13,352.5 558.28,353.7 562.43,355.0 566.58,356.3 570.73,357.6 574.88,358.9 579.03,360.3 583.18,361.7 587.33,363.0 591.48,364.5 595.63,365.9 599.78,367.4 603.93,368.9 608.08,370.4 612.23,371.9 616.38,373.5 620.53,375.1 624.68,376.8 628.83,378.5 632.98,380.2 637.13,381.9 641.28,383.7 645.43,385.6 649.58,387.5 653.73,389.5 657.88,391.5 660.53,392.8 663.09,394.1 665.57,395.4 667.97,396.7 670.30,397.9 672.55,399.2 674.72,400.4 676.83,401.6 678.87,402.8 680.84,404.0 682.75,405.2 684.59,406.3 686.38,407.5 688.11,408.6 689.78,409.7 691.40,410.8 692.96,411.9 694.48,413.0 695.95,414.1 697.37,415.1 698.74,416.2 700.07,417.2 701.35,418.2 702.60,419.2 703.80,420.3 704.97,421.2 706.10,422.2 707.19,423.2 708.24,424.2 709.26,425.2 710.25,426.1 711.21,427.1 712.14,428.0 713.03,428.9 713.90,429.9 714.74,430.8 715.55,431.7 716.33,432.6 717.09,433.5 717.83,434.4 718.54,435.3 719.23,436.2 719.90,437.0 720.54,437.9 721.16,438.8 721.77,439.7 722.35,440.5 722.92,441.4 723.46,442.3 723.99,443.1 724.51,444.0 725.00,444.8 725.48,445.7 725.95,446.5 726.39,447.4 726.83,448.2 727.25,449.1 727.66,449.9 728.05,450.8 728.43,451.6 728.80,452.5 729.16,453.3 729.50,454.2 729.84,455.0 730.16,455.9 730.47,456.7 730.78,457.6 731.07,458.5 731.35,459.3 731.63,460.2 731.89,461.1 732.15,461.9 732.40,462.8 732.64,463.7 732.87,464.6 733.10,465.5 733.31,466.4 733.52,467.3 733.73,468.2 733.93,469.0 734.12,469.9 734.30,470.8 734.48,471.7 734.65,472.6 734.82,473.5 734.98,474.4 735.14,475.3 735.29,476.2 735.44,477.1 735.58,478.0 735.72,478.9 735.85,479.7 735.98,480.6 736.10,481.5 736.23,482.4 736.34,483.3 736.45,484.2 736.56,485.1 736.67,486.0 736.77,486.9 736.87,487.8 736.97,488.7 737.06,489.5 737.15,490.4 737.24,491.3 737.32,492.2 737.40,493.1 737.48,494.0 737.56,494.9 737.63,495.8 737.70,496.7 737.77,497.6 737.84,498.5 737.90,499.3 737.96,500.2"/>
<polyline stroke="#ff3c3c" transform="scale(1.2,1)" points="330.04,331.5 334.19,332.5 338.34,333.5 342.49,334.6 346.64,335.6 350.79,336.6 354.94,337.7 359.09,338.7 363.24,339.8 367.39,340.8 371.54,341.9 375.69,342.9 379.84,344.0 383.99,345.1 388.14,346.1 392.29,347.2 396.44,348.3 400.59,349.4 404.74,350.5 408.89,351.5 413.04,352.6 417.19,353.7 421.34,354.8 425.49,355.9 429.64,357.0 433.79,358.1 437.94,359.3 442.09,360.4 446.24,361.5 450.39,362.6 454.54,363.7 458.69,364.9 462.83,366.0 466.98,367.1 471.13,368.3 475.28,369.4 479.43,370.6 483.58,371.7 487.73,372.9 491.88,374.0 496.03,375.2 500.18,376.4 504.33,377.5 508.48,378.7 512.63,379.9 516.78,381.1 520.93,382.3 525.08,383.4 529.23,384.6 533.38,385.8 537.53,387.0 541.68,388.2 545.83,389.4 549.98,390.7 554.13,391.9 558.28,393.1 562.43,394.3 566.58,395.5 570.73,396.8 574.88,398.0 579.03,399.2 583.18,400.5 587.33,401.7 591.48,403.0 595.63,404.2 599.78,405.5 603.93,406.7 608.08,408.0 612.23,409.3 616.38,410.5 620.53,411.8 624.68,413.1 628.83,414.4 632.98,415.6 637.13,416.9 641.28,418.2 645.43,419.5 649.58,420.8 653.73,422.1 657.88,423.4 660.53,424.3 663.09,425.1 665.57,425.9 667.97,426.7 670.30,427.5 672.55,428.2 674.72,428.9 676.83,429.7 678.87,430.3 680.84,431.0 682.75,431.7 684.59,432.4 686.38,433.0 688.11,433.6 689.78,434.3 691.40,434.9 692.96,435.5 694.48,436.1 695.95,436.7 697.37,437.3 698.74,437.9 700.07,438.5 701.35,439.1 702.60,439.7 703.80,440.3 704.97,440.9 706.10,441.5 707.19,442.1 708.24,442.8 709.26,443.4 710.25,444.0 711.21,444.7 712.14,445.3 713.03,446.0 713.90,446.7 714.74,447.4 715.55,448.1 716.33,448.9 717.09,449.6 717.83,450.4 718.54,451.2 719.23,452.0 719.90,452.8 720.54,453.6 721.16,454.5 721.77,455.4 722.35,456.4 722.92,457.3 723.46,458.3 723.99,459.3 724.51,460.3 725.00,461.4 725.48,462.5 725.95,463.7 726.39,464.9 726.83,466.1 727.25,467.3 727.66,468.6 728.05,469.9 728.43,471.3 728.80,472.7 729.16,474.2 729.50,475.7 729.84,477.2 730.16,478.8 730.47,480.4 730.78,482.1 731.07,483.8 731.35,485.5 731.63,487.3 731.89,489.0 732.15,490.7 732.40,492.4 732.64,494.1 732.87,495.8 733.10,497.5 733.31,499.3 733.52,501.0"/>
<polyline stroke="#0070e0" transform="scale(1.2,1)" points="330.04,318.6 334.19,319.4 338.34,320.2 342.49,321.0 346.64,321.8 350.79,322.6 354.94,323.5 359.09,324.3 363.24,325.1 367.39,326.0 371.54,326.8 375.69,327.7 379.84,328.5 383.99,329.4 388.14,330.3 392.29,331.2 396.44,332.1 400.59,333.0 404.74,333.9 408.89,334.8 413.04,335.8 417.19,336.7 421.34,337.7 425.49,338.6 429.64,339.6 433.79,340.6 437.94,341.6 442.09,342.6 446.24,343.6 450.39,344.6 454.54,345.6 458.69,346.7 462.83,347.7 466.98,348.8 471.13,349.9 475.28,351.0 479.43,352.1 483.58,353.2 487.73,354.4 491.88,355.5 496.03,356.7 500.18,357.9 504.33,359.1 508.48,360.3 512.63,361.5 516.78,362.7 520.93,364.0 525.08,365.3 529.23,366.6 533.38,367.9 537.53,369.3 541.68,370.6 545.83,372.0 549.98,373.5 554.13,374.9 558.28,376.4 562.43,377.8 566.58,379.4 570.73,380.9 574.88,382.5 579.03,384.1 583.18,385.7 587.33,387.4 591.48,389.1 595.63,390.9 599.78,392.7 603.93,394.5 608.08,396.4 612.23,398.4 616.38,400.3 620.53,402.4 624.68,404.5 628.83,406.6 632.98,408.9 637.13,411.2 641.28,413.6 645.43,416.0 649.58,418.6 653.73,421.3 657.88,424.0 660.53,425.9 663.09,427.7 665.57,429.5 667.97,431.3 670.30,433.1 672.55,434.9 674.72,436.7 676.83,438.5 678.87,440.2 680.84,442.0 682.75,443.7 684.59,445.5 686.38,447.2 688.11,449.0 689.78,450.7 691.40,452.4 692.96,454.2 694.48,455.9 695.95,457.6 697.37,459.3 698.74,461.0 700.07,462.7 701.35,464.4 702.60,466.1 703.80,467.8 704.97,469.4 706.10,471.1 707.19,472.8 708.24,474.5 709.26,476.1 710.25,477.8 711.21,479.5 712.14,481.2 713.03,482.8 713.90,484.5 714.74,486.1 715.55,487.8 716.33,489.5 717.09,491.1 717.83,492.8 718.54,494.5 719.23,496.1 719.90,497.8 720.54,499.5 721.16,501.1"/>
<polyline stroke="#00b066" transform="scale(1.2,1)" points="330.04,249.8 334.19,251.0 338.34,252.1 342.49,253.3 346.64,254.5 350.79,255.7 354.94,256.9 359.09,258.1 363.24,259.3 367.39,260.5 371.54,261.7 375.69,263.0 379.84,264.2 383.99,265.5 388.14,266.7 392.29,268.0 396.44,269.3 400.59,270.6 404.74,271.9 408.89,273.2 413.04,274.5 417.19,275.8 421.34,277.1 425.49,278.4 429.64,279.8 433.79,281.1 437.94,282.5 442.09,283.9 446.24,285.3 450.39,286.7 454.54,288.1 458.69,289.5 462.83,290.9 466.98,292.4 471.13,293.8 475.28,295.3 479.43,296.8 483.58,298.3 487.73,299.8 491.88,301.3 496.03,302.8 500.18,304.4 504.33,305.9 508.48,307.5 512.63,309.1 516.78,310.7 520.93,312.3 525.08,313.9 529.23,315.6 533.38,317.3 537.53,319.0 541.68,320.7 545.83,322.4 549.98,324.1 554.13,325.9 558.28,327.7 562.43,329.5 566.58,331.4 570.73,333.2 574.88,335.1 579.03,337.0 583.18,338.9 587.33,340.9 591.48,342.9 595.63,344.9 599.78,347.0 603.93,349.1 608.08,351.2 612.23,353.4 616.38,355.6 620.53,357.8 624.68,360.1 628.83,362.5 632.98,364.8 637.13,367.3 641.28,369.8 645.43,372.4 649.58,375.0 653.73,377.7 657.88,380.5 660.53,382.3 663.09,384.1 665.57,385.9 667.97,387.7 670.30,389.4 672.55,391.1 674.72,392.8 676.83,394.5 678.87,396.2 680.84,397.9 682.75,399.5 684.59,401.1 686.38,402.7 688.11,404.3 689.78,405.9 691.40,407.5 692.96,409.0 694.48,410.6 695.95,412.1 697.37,413.6 698.74,415.1 700.07,416.6 701.35,418.1 702.60,419.6 703.80,421.1 704.97,422.6 706.10,424.1 707.19,425.5 708.24,427.0 709.26,428.5 710.25,429.9 711.21,431.4 712.14,432.8 713.03,434.3 713.90,435.8 714.74,437.2 715.55,438.7 716.33,440.1 717.09,441.6 717.83,443.1 718.54,444.6 719.23,446.0 719.90,447.5 720.54,449.0 721.16,450.5 721.77,452.0 722.35,453.5 722.92,455.1 723.46,456.6 723.99,458.1 724.51,459.7 725.00,461.3 725.48,462.8 725.95,464.4 726.39,466.0 726.83,467.7 727.25,469.3 727.66,470.9 728.05,472.6 728.43,474.3 728.80,476.0 729.16,477.7 729.50,479.5 729.84,481.2 730.16,482.9 730.47,484.7 730.78,486.4 731.07,488.1 731.35,489.9 731.63,491.6 731.89,493.3 732.15,495.1 732.40,496.8 732.64,498.5 732.87,500.3"/>
<polyline stroke="#c078e0" transform="scale(1.2,1)" points="330.04,274.4 334.19,276.0 338.34,277.5 342.49,279.0 346.64,280.5 350.79,282.1 354.94,283.6 359.09,285.2 363.24,286.7 367.39,288.3 371.54,289.9 375.69,291.5 379.84,293.0 383.99,294.6 388.14,296.3 392.29,297.9 396.44,299.5 400.59,301.1 404.74,302.8 408.89,304.4 413.04,306.1 417.19,307.7 421.34,309.4 425.49,311.1 429.64,312.8 433.79,314.5 437.94,316.2 442.09,317.9 446.24,319.7 450.39,321.4 454.54,323.2 458.69,324.9 462.83,326.7 466.98,328.5 471.13,330.3 475.28,332.1 479.43,333.9 483.58,335.7 487.73,337.6 491.88,339.4 496.03,341.3 500.18,343.2 504.33,345.1 508.48,347.0 512.63,348.9 516.78,350.8 520.93,352.8 525.08,354.7 529.23,356.7 533.38,358.7 537.53,360.7 541.68,362.7 545.83,364.7 549.98,366.8 554.13,368.8 558.28,370.9 562.43,373.0 566.58,375.1 570.73,377.3 574.88,379.4 579.03,381.6 583.18,383.8 587.33,386.0 591.48,388.2 595.63,390.5 599.78,392.8 603.93,395.1 608.08,397.4 612.23,399.7 616.38,402.1 620.53,404.5 624.68,406.9 628.83,409.4 632.98,411.9 637.13,414.4 641.28,416.9 645.43,419.5 649.58,422.2 653.73,424.8 657.88,427.5 660.53,429.3 663.09,431.0 665.57,432.7 667.97,434.3 670.30,436.0 672.55,437.5 674.72,439.1 676.83,440.6 678.87,442.1 680.84,443.6 682.75,445.0 684.59,446.4 686.38,447.8 688.11,449.1 689.78,450.5 691.40,451.8 692.96,453.1 694.48,454.3 695.95,455.6 697.37,456.8 698.74,458.0 700.07,459.2 701.35,460.4 702.60,461.5 703.80,462.7 704.97,463.8 706.10,464.9 707.19,466.1 708.24,467.2 709.26,468.3 710.25,469.3 711.21,470.4 712.14,471.5 713.03,472.6 713.90,473.7 714.74,474.7 715.55,475.8 716.33,476.9 717.09,477.9 717.83,479.0 718.54,480.1 719.23,481.2 719.90,482.2 720.54,483.3 721.16,484.4 721.77,485.5 722.35,486.6 722.92,487.7 723.46,488.8 723.99,490.0 724.51,491.1 725.00,492.2 725.48,493.3 725.95,494.4 726.39,495.5 726.83,496.6 727.25,497.7 727.66,498.8 728.05,499.9 728.43,501.0"/>
<polyline stroke="#dd9900" transform="scale(1.2,1)" points="330.04,201.8 334.19,203.3 338.34,204.9 342.49,206.4 346.64,208.0 350.79,209.6 354.94,211.1 359.09,212.7 363.24,214.3 367.39,215.9 371.54,217.5 375.69,219.2 379.84,220.8 383.99,222.4 388.14,224.1 392.29,225.7 396.44,227.4 400.59,229.1 404.74,230.7 408.89,232.4 413.04,234.1 417.19,235.8 421.34,237.6 425.49,239.3 429.64,241.0 433.79,242.8 437.94,244.5 442.09,246.3 446.24,248.1 450.39,249.8 454.54,251.6 458.69,253.4 462.83,255.3 466.98,257.1 471.13,258.9 475.28,260.8 479.43,262.7 483.58,264.5 487.73,266.4 491.88,268.3 496.03,270.2 500.18,272.2 504.33,274.1 508.48,276.1 512.63,278.0 516.78,280.0 520.93,282.0 525.08,284.0 529.23,286.0 533.38,288.1 537.53,290.1 541.68,292.2 545.83,294.3 549.98,296.4 554.13,298.5 558.28,300.7 562.43,302.9 566.58,305.0 570.73,307.2 574.88,309.5 579.03,311.7 583.18,314.0 587.33,316.3 591.48,318.6 595.63,320.9 599.78,323.3 603.93,325.6 608.08,328.1 612.23,330.5 616.38,333.0 620.53,335.5 624.68,338.0 628.83,340.6 632.98,343.2 637.13,345.8 641.28,348.5 645.43,351.2 649.58,354.0 653.73,356.8 657.88,359.7 660.53,361.6 663.09,363.4 665.57,365.3 667.97,367.0 670.30,368.8 672.55,370.5 674.72,372.2 676.83,373.8 678.87,375.4 680.84,377.0 682.75,378.6 684.59,380.2 686.38,381.7 688.11,383.2 689.78,384.7 691.40,386.1 692.96,387.6 694.48,389.0 695.95,390.4 697.37,391.8 698.74,393.2 700.07,394.6 701.35,395.9 702.60,397.3 703.80,398.6 704.97,400.0 706.10,401.3 707.19,402.6 708.24,403.9 709.26,405.2 710.25,406.5 711.21,407.8 712.14,409.1 713.03,410.4 713.90,411.7 714.74,413.1 715.55,414.4 716.33,415.7 717.09,417.0 717.83,418.3 718.54,419.7 719.23,421.0 719.90,422.4 720.54,423.8 721.16,425.1 721.77,426.5 722.35,428.0 722.92,429.4 723.46,430.8 723.99,432.3 724.51,433.8 725.00,435.3 725.48,436.8 725.95,438.4 726.39,440.0 726.83,441.6 727.25,443.2 727.66,444.8 728.05,446.5 728.43,448.2 728.80,450.0 729.16,451.7 729.50,453.6 729.84,455.4 730.16,457.3 730.47,459.2 730.78,461.1 731.07,463.1 731.35,465.2 731.63,467.2 731.89,469.3 732.15,471.4 732.40,473.5 732.64,475.6 732.87,477.7 733.10,479.8 733.31,481.9 733.52,484.0 733.73,486.1 733.93,488.2 734.12,490.3 734.30,492.4 734.48,494.5 734.65,496.6 734.82,498.7 734.98,500.8"/>
</g>
<g stroke="#000"><rect x="385.7" y="167.8" width="496.5" height="319.4" fill="none" stroke-width="2.6"/><line x1="379.5" y1="181.3" x2="385.7" y2="181.3" stroke-width="2.4"/><line x1="379.5" y1="287.9" x2="385.7" y2="287.9" stroke-width="2.4"/><line x1="494.4" y1="487.2" x2="494.4" y2="491.5" stroke-width="2.6"/><line x1="691.1" y1="487.2" x2="691.1" y2="491.5" stroke-width="2.6"/></g>
<polygon points="879.5,486.5 892.5,529.5 916.5,514.5" fill="#000"/>
<line x1="906.5" y1="531" x2="934.5" y2="568.5" stroke="#000" stroke-width="5"/>
<line x1="1194.5" y1="437.8" x2="1333.6" y2="437.8" stroke="#505050" stroke-width="7.8" stroke-linecap="butt"/><text transform="translate(1342.5,458.6) scale(0.915,1)" class="lg">BS1</text><line x1="1197.5" y1="510.4" x2="1330.6" y2="510.4" stroke="#ff3c3c" stroke-width="9.6" stroke-linecap="round"/><text transform="translate(1342.5,531.2) scale(0.915,1)" class="lg">BS2</text><line x1="1197.5" y1="581.3" x2="1330.6" y2="581.3" stroke="#0070e0" stroke-width="9.8" stroke-linecap="round"/><text transform="translate(1342.5,602.1) scale(0.915,1)" class="lg">BS3</text><line x1="1194.5" y1="653.5" x2="1333.6" y2="653.5" stroke="#00b066" stroke-width="8.2" stroke-linecap="butt"/><text transform="translate(1342.5,674.3) scale(0.915,1)" class="lg">BS4</text><line x1="1197.5" y1="725.5" x2="1330.6" y2="725.5" stroke="#c078e0" stroke-width="9.6" stroke-linecap="round"/><text transform="translate(1342.5,746.3) scale(0.915,1)" class="lg">BS5</text><line x1="1194.5" y1="797.0" x2="1333.6" y2="797.0" stroke="#dd9900" stroke-width="9.4" stroke-linecap="butt"/><text transform="translate(1342.5,817.8) scale(0.915,1)" class="lg">BS6</text>
<text x="95.5" y="70.8" class="tk">10</text><text transform="translate(147,51.3) scale(1.12,1)" class="sm">−</text><text x="169.5" y="49.3" class="sp">2</text><text x="95.5" y="234.2" class="tk">10</text><text transform="translate(147,213.2) scale(1.12,1)" class="sm">−</text><text x="169.5" y="213.2" class="sp">3</text><text x="95.5" y="396.1" class="tk">10</text><text transform="translate(147,375.1) scale(1.12,1)" class="sm">−</text><text x="169.5" y="375.1" class="sp">4</text><text x="95.5" y="558.0" class="tk">10</text><text transform="translate(147,537.0) scale(1.12,1)" class="sm">−</text><text x="169.5" y="537.0" class="sp">5</text><text x="95.5" y="719.9" class="tk">10</text><text transform="translate(147,698.9) scale(1.12,1)" class="sm">−</text><text x="169.5" y="698.9" class="sp">6</text><text x="95.5" y="881.8" class="tk">10</text><text transform="translate(147,860.8) scale(1.12,1)" class="sm">−</text><text x="169.5" y="860.8" class="sp">7</text><text x="95.5" y="1043.7" class="tk">10</text><text transform="translate(147,1022.7) scale(1.12,1)" class="sm">−</text><text x="169.5" y="1022.7" class="sp">8</text>
<text x="212.2" y="1156" class="tk" text-anchor="middle"><tspan class="mn">−</tspan>6</text><text x="455.0" y="1156" class="tk" text-anchor="middle"><tspan class="mn">−</tspan>4</text><text x="697.9" y="1156" class="tk" text-anchor="middle"><tspan class="mn">−</tspan>2</text><text x="940.7" y="1156" class="tk" text-anchor="middle">0</text><text x="1183.5" y="1156" class="tk" text-anchor="middle">2</text><text x="1426.4" y="1156" class="tk" text-anchor="middle">4</text><text x="1669.2" y="1156" class="tk" text-anchor="middle">6</text>
<text transform="translate(941.3,1212) scale(1.032,1)" class="ti" text-anchor="middle">Voltage (V)</text>
<text transform="translate(75.8,569.5) rotate(-90) scale(1.014,1)" class="ti" text-anchor="middle">Dark Current (A)</text>
<text transform="translate(264.6,196.0) scale(1.06,1)" class="it">6</text><text x="292.6" y="196.0" class="it">E</text><text transform="translate(320,196.0) scale(1.23,1)" class="it">−</text><text transform="translate(351.7,196.0) scale(1.06,1)" class="it">6</text><text transform="translate(264.6,302.5) scale(1.06,1)" class="it">3</text><text x="292.6" y="302.5" class="it">E</text><text transform="translate(320,302.5) scale(1.23,1)" class="it">−</text><text transform="translate(351.7,302.5) scale(1.06,1)" class="it">6</text><text transform="translate(464.4,534.8) scale(1.277,1)" class="it">−</text><text x="498" y="534.8" class="it">4</text><text transform="translate(661.2,534.8) scale(1.255,1)" class="it">−</text><text x="693.3" y="534.8" class="it">2</text>
</svg></body></html>
